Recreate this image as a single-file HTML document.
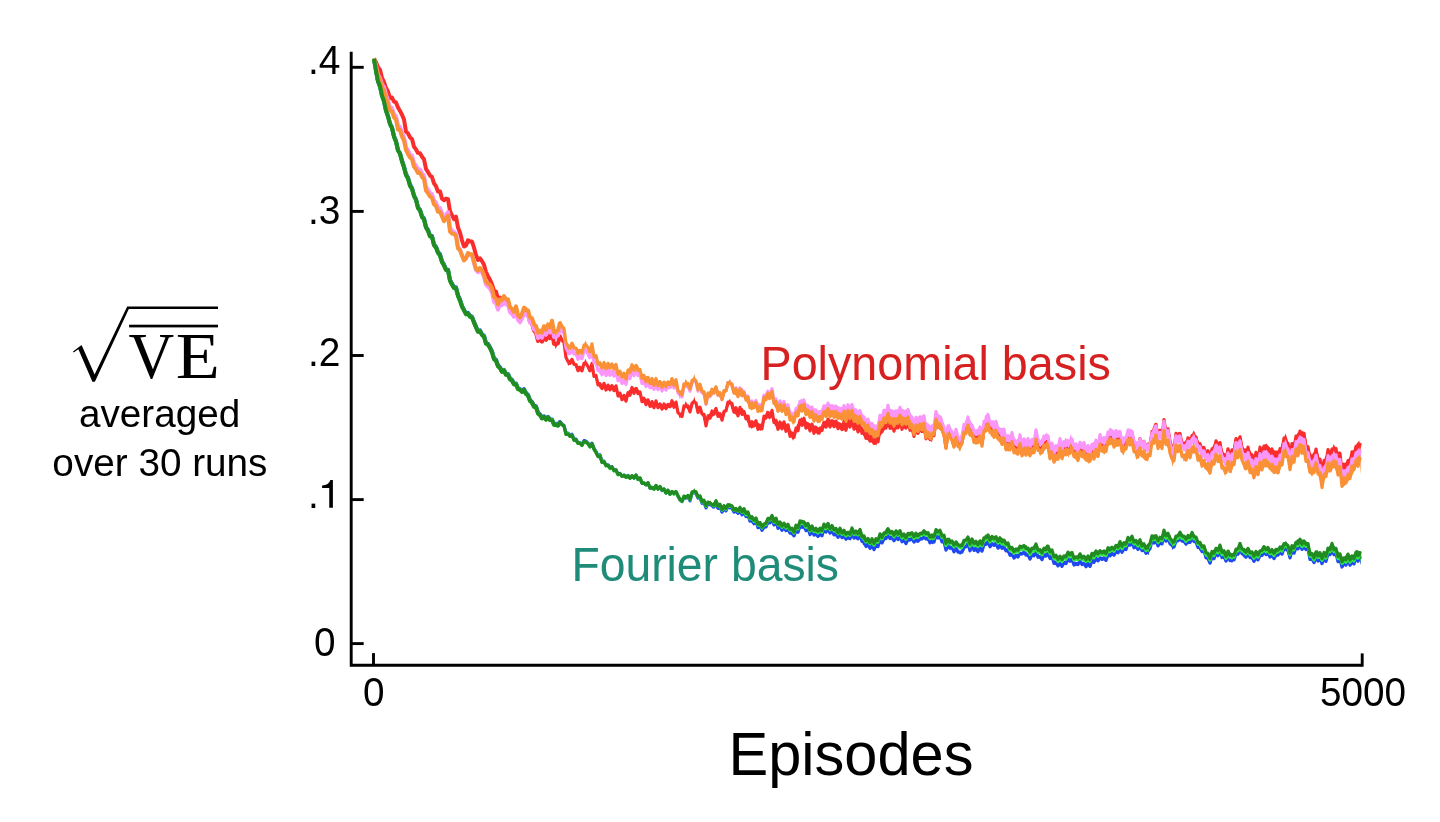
<!DOCTYPE html>
<html><head><meta charset="utf-8"><title>Polynomial vs Fourier basis</title>
<style>
html,body{margin:0;padding:0;background:#fff;}
body{width:1440px;height:822px;overflow:hidden;font-family:"Liberation Sans",sans-serif;}
svg{display:block;}
</style></head><body>
<svg width="1440" height="822" viewBox="0 0 1440 822">
<rect width="1440" height="822" fill="#fff"/>
<g id="curves"><polyline points="374,58.4 376,62.2 378,67.3 380,69.7 382,78 384,82 386,88.1 388,91.6 390,98.1 392,97.6 394,101.6 396,102.4 398,107.4 400,110.9 402,114.7 404,119.5 406,131.6 408,133.4 410,137.4 412,139.1 414,146.8 416,149.4 418,152.9 420,153.3 422,156.7 424,159.3 426,168.9 428,172.1 430,175.6 432,177 434,183.3 436,186.2 438,191.6 440,191.4 442,198.7 444,200.3 446,198.6 448,199.1 450,211.3 452,215.1 454,219.2 456,216.7 458,227.6 460,232.6 462,240.3 464,246.5 466,245.4 468,240.3 470,241.4 472,241.5 474,247.7 476,255 478,259.9 480,258.3 482,261.1 484,264.7 486,272.1 488,276.2 490,279.8 492,284.3 494,290.7 496,291.5 498,299.6 500,297.6 502,300.4 504,297.6 506,301.7 508,301.7 510,309.5 512,311.4 514,314.5 516,308.8 518,317.7 520,320.5 522,316.7 524,311.1 526,313.9 528,314.3 530,321.8 532,323.5 534,330.7 536,332.9 538,341 540,338.8 542,341.7 544,336.2 546,339.9 548,335.5 550,338.2 552,332.3 554,343.9 556,344.4 558,343.1 560,336" fill="none" stroke="#fa2d2d" stroke-width="4" stroke-linejoin="round"/><polyline points="560,336 562,340.3 564,342.5 566,357.6 568,361.4 570,363.4 572,359.4 574,364.5 576,364.5 578,370.7 580,367.3 582,370.8 584,363.3 586,363.3 588,366.6 590,370.8 592,363.5 594,376.4 596,375.5 598,384.9 600,383.6 602,388.6 604,383.3 606,390 608,385.1 610,389.9 612,385.7 614,390.7 616,385.8 618,396 620,393.1 622,399.7 624,395.4 626,401.2 628,392.7 630,395.2 632,387.5 634,393.4 636,388.4 638,393.7 640,392 642,401.6 644,398.3 646,404.7 648,399.8 650,406.4 652,401.6 654,407.7 656,400.9 658,407.7 660,403.9 662,409.2 664,404 666,408.7 668,404.4 670,406.8 672,400.7 674,407.3 676,402.1 678,412.7 680,414.2 682,416.6 684,405.9 686,406.8 688,406 690,411.9 692,403.4 694,401.4 696,403 698,412.4 700,407.2 702,414 704,414.3 706,426 708,415.8 710,418.3 712,411 714,414.2 716,408.6 718,416.3 720,413.6 722,420.1 724,411.4 726,410.8 728,402.2 730,402.2 732,403.6 734,412.2 736,407.6 738,415.8 740,407.4 742,414.4 744,411.5 746,418.8 748,416.1 750,426.2 752,421.7 754,425.8 756,420.7 758,429.4 760,425.1 762,428.8 764,416.2 766,418 768,412.4 770,417.1 772,410.4 774,422.4 776,420.2 778,429.3 780,422 782,428.8 784,421.9 786,431.3 788,424.8 790,436.3 792,433 794,437.3 796,428 798,430.7 800,420.1 802,425.3 804,418.2 806,428.1 808,424.1 810,430.9 812,424.2 814,433.3 816,427.2 818,433 820,428.1 822,430.5 824,422.5 826,427 828,419.1 830,426.9 832,421.2 834,426.7 836,421.1 838,428.6 840,424.4 842,429.6 844,421.5 846,430.3 848,419.2 850,427 852,417.9 854,429.1 856,424.3 858,431.9 860,424.5 862,433.4 864,430.9 866,438.3 868,432.9 870,441.1 872,436.7 874,443.4 876,439 878,441.9 880,428.7 882,431.6 884,423.3 886,428.1 888,418.2 890,428.3 892,423.4 894,431.1 896,423.8 898,427.8 900,419.7 902,429.3 904,422.9 906,428.1 908,420.2 910,430.3 912,427.1 914,436.5 916,426.6 918,433.4 920,425.9 922,431.6 924,424.7 926,438.8 928,433.6 930,439.5 932,434.4 934,435.6 936,419.6 938,427.5 940,424 942,429.4 944,434.8 946,447.6 948,432.9 950,436.7 952,438.5 954,446 956,435.6 958,444.8 960,444.8 962,441.8 964,430.2 966,431.2 968,422.8 970,433.5 972,430.9 974,440.4 976,437.8 978,440.5 980,433.9 982,443.8 984,428.4 986,428.7 988,421.5 990,430.4 992,428.4 994,435.3 996,428.6 998,436.6 1000,436.2 1002,442.3 1004,436.1 1006,447.9 1008,442.1 1010,447.6 1012,439.5 1014,450.4 1016,448.1 1018,451.5 1020,441.2 1022,453.5 1024,446 1026,452.7 1028,445.5 1030,453.3 1032,446.4 1034,450.3 1036,437 1038,447.6 1040,448.4 1042,450.6 1044,442.2 1046,445.1 1048,442.6 1050,456.8 1052,450 1054,460.1 1056,452.8 1058,457.1 1060,445.8 1062,456.4 1064,448 1066,452.6 1068,447.1 1070,450.8 1072,445.2 1074,454.6 1076,450.7 1078,458.1 1080,448.6 1082,454.1 1084,448.7 1086,457.7 1088,452.1 1090,458.9 1092,451.4 1094,456.3 1096,446.5 1098,454.5 1100,441.4 1102,448.5 1104,443.5 1106,448.6 1108,437.4 1110,439.9 1112,435.5 1114,442.9 1116,434.8 1118,439.8 1120,435.2 1122,445.4 1124,441 1126,443.1 1128,432.9 1130,438 1132,432.5 1134,444.2 1136,443.5 1138,448.9 1140,438.5 1142,446.7 1144,441.3 1146,449.3 1148,444.2 1150,445.3 1152,431.6 1154,432.1 1156,424.3 1158,437.6 1160,430.4 1162,437.4 1164,419.5 1166,433.2 1168,428.8 1170,441.4 1172,447.2 1174,449.2 1176,433.4 1178,439.2 1180,433.5 1182,444.5 1184,443.8 1186,447.6 1188,437.9 1190,445.1 1192,435.6 1194,439.3 1196,436.9 1198,448.1 1200,443.6 1202,453.7 1204,447.5 1206,455.8 1208,450.7 1210,460.9 1212,448.9 1214,451.3 1216,440.9 1218,448 1220,442.6 1222,455.6 1224,454.7 1226,459.5 1228,448.8 1230,458.9 1232,449.8 1234,452 1236,438.5 1238,444.9 1240,436.9 1242,447.8 1244,451.1 1246,455.7 1248,447.1 1250,458.8 1252,454.7 1254,463.7 1256,452.4 1258,460.4 1260,447.2 1262,455.7 1264,446.1 1266,451.9 1268,448.1 1270,453.2 1272,449 1274,457.4 1276,452.7 1278,458.5 1280,448.7 1282,451.2 1284,438.2 1286,444 1288,443.3 1290,456.6 1292,443.6 1294,449 1296,436 1298,442.5 1300,431 1302,440 1304,433.2 1306,448.5 1308,446.8 1310,459 1312,456.7 1314,459.4 1316,449.1 1318,460.6 1320,459.1 1322,474.2 1324,460.7 1326,463.2 1328,449.7 1330,456.5 1332,449.1 1334,453.1 1336,448.4 1338,461.5 1340,453.2 1342,472.6 1344,464.2 1346,469.1 1348,460.6 1350,465 1352,451.8 1354,455.5 1356,446.4 1358,452.3 1360,444.3" fill="none" stroke="#fa2d2d" stroke-width="3.2" stroke-linejoin="round" stroke-linecap="round"/><polygon points="470.5,239.8 471,240.8 472,242.7 473,244.7 473.3,245.3 474,246.7 475,250.4 476,255.2 476.1,255.6 477,258.6 478,258.7 479,258.9 480,259.1 481,259.3 482,259.4 482.2,259.5 483,261.9 484,264.9 484.4,266.1 485,267.9 486,271 486.7,273.2 487,274.1 488,277.3 488.1,277.6 489,278.3 490,278.5 490.6,278.6 491,278.6 492,284.6 493,287.2 493.1,287.4 494,288.9 495,290.5 496,292.5 497,294.9 497.5,296.1 498,297.2 499,297.1 500,297.7 501,298.2 501.3,297.9 502,298 503,298 504,298.1 505,298.1 505.6,297.9 506,298.6 507,300.5 508,302.4 509,304.3 510,306.2 511,309.3 512,312.3 512.5,313.8 513,313.2 514,311.9 515,310.7 516,309.4 516.3,309 517,311.2 518,314.3 519,317.4 520,320.5 521,317.1 522,313.7 522.5,312 523,311.8 524,311.4 525,311.1 526,310.8 526.9,310.4 527,310.7 528,313.7 529,316.7 530,319.7 530.6,321.7 531,322.4 532,324 533,325.6 533.8,327 534,327.5 535,330.4 536,333.4 536.9,335.9 537,336 538,336.9 539,337.9 540,338.8 541,339.8 541.3,340 542,338.8 543,337 543.8,335.6 544,335.7 545,335.8 546,335.9 547,336 548,336.1 548.8,336.2 549,335.8 550,333.8 551,331.8 551.3,331.2 552,333.3 553,336.3 553.1,336.6 554,340 555,343.7 555.6,345.9 556,344.9 557,342.4 558,339.8 558.8,337.8 559,337.6 560,336.5 561,335.4 561.3,335.1 562,337.1 563,339.9 564,342.8 564.4,343.9 565,347.6 566,353.7 566.3,355.5 567,358.1 568,361.7 568.1,362.1 569,360.9 570,359.5 570.6,358.7 571,359 572,359.5 573,360.1 573.8,360.6 574,360.9 575,362.5 576,364.2 576.3,364.7 577,365.1 578,365.8 579,366.5 580,367.1 581,367.8 581.3,368 582,366.5 583,364.3 584,362.2 585,360 585.6,358.7 586,359.9 587,362.8 588,365.7 588.8,368 589,367.7 590,366.3 591,364.9 591.9,363.6 592,363.9 593,367.3 594,370.7 595,374.1 596,376.2 597,378.2 598,380.3 598.1,380.5 599,382.1 600,383.8 601,383.9 602,384 603,384.1 603.8,384.2 604,384.3 605,384.7 606,385.2 607,385.6 607.5,385.8 608,385.7 609,385.4 610,385 610.6,384.8 611,384.9 612,385.3 613,385.6 614,385.9 615,386.2 615.6,386.4 616,387.1 617,388.9 618,390.7 618.8,392.2 619,392.3 620,393.1 621,393.9 622,394.7 623,395.4 623.1,395.5 624,395.7 625,396 626,396.2 626.9,396.4 627,396.1 628,392.8 628.8,390.2 629,390.1 630,389.7 631,389.2 632,388.7 632.5,388.5 633,388.3 634,388 635,387.6 636,387.3 636.9,387 637,387.1 638,388.7 639,390.3 640,391.9 641,393.9 642,395.8 643,397.8 643.1,398 644,398.2 645,398.5 646,398.7 647,398.9 648,399.2 648.1,399.2 649,400.2 650,401.3 651,402.5 651.3,402.8 652,402.7 653,402.5 654,402.3 655,402.1 656,402.4 657,402.7 658,403 658.8,403.2 659,403.3 660,403.6 661,404 662,404.3 662.5,404.4 663,404.4 664,404.2 665,404.1 666,403.9 667,403.8 667.5,403.7 668,403.6 669,403.2 670,402.9 671,402.6 672,402.3 673,401.9 673.8,401.7 674,401.8 675,402.4 676,403 676.9,403.5 677,403.9 678,407.9 679,411.8 679.4,413.4 680,413.1 681,412.5 682,411.9 682.5,411.6 683,409.9 684,406.5 685,403.2 685.6,401.1 686,401.8 687,403.5 687.5,404.3 688,405 689,406.2 690,407.5 691,405.5 692,403.6 692.5,402.6 693,401 694,397.8 694.4,396.5 695,399.3 696,403.9 696.3,405.3 697,405.5 698,405.9 699,406.3 700,406.7 701,408.7 702,410.8 703,412.8 703.1,413 704,416.2 705,419.7 705.6,421.8 706,420.8 707,418.3 708,415.8 708.8,413.8 709,413.7 710,413.2 711,412.7 712,412.1 712.5,411.9 713,411 714,409.2 715,407.5 715.6,406.4 716,407.1 717,409 718,410.8 718.8,412.2 719,412.4 720,413.1 721,413.8 722,414.5 723,415.2 723.1,415.3 724,412.3 725,409 726,405.8 726.3,404.8 727,403.6 728,401.9 729,400.3 730,398.6 731,401.8 732,405 732.5,406.6 733,407 734,407.8 735,408.6 736,409.4 736.9,410.1 737,410.1 738,409.7 739,409.3 740,408.9 741,408.5 742,408.1 742.5,407.9 743,408.8 744,410.5 745,412.3 746,414 746.3,414.6 747,415.8 748,417.4 749,419.1 750,420.8 751,422.5 751.3,423 752,422.5 753,421.9 754,421.3 755,420.6 755.6,420.2 756,420.6 757,421.6 758,422.5 759,423.5 760,424.4 760.6,425.1 761,424.2 762,421.9 763,419.6 763.8,417.8 764,417.4 765,415 766,412.7 766.9,410.6 767,410.7 768,411.8 769,412.9 769.4,413.3 770,412.5 771,410.9 771.9,409.4 772,409.8 773,414.2 773.5,416.3 774,417.4 775,419.5 776,420.3 777,421.1 778,422 778.8,422.6 779,422.6 780,422.4 781,422.3 782,422.1 783,421.9 783.8,421.8 784,422 785,422.7 786,423.4 787,424.1 788,424.9 788.1,424.9 789,426.6 790,428.4 791,430.3 792,432.1 793,434 793.1,434.2 794,431.9 795,429.4 796,427 796.9,424.7 797,424.6 798,422.9 799,421.1 800,419.4 801,417.7 801.3,417.2 802,417.8 803,418.7 804,419.5 805,420.3 805.6,420.9 806,421.1 807,421.7 808,422.2 809,422.8 810,423.4 811,423.8 812,424.3 813,424.8 814,425.3 815,425.7 816,426.2 817,426.7 818,427.2 819,427.6 820,428.1 821,425.9 822,423.7 823,421.5 823.1,421.3 824,421 825,420.7 826,420.3 827,420 827.5,419.8 828,419.7 829,419.6 830,419.5 831,419.4 832,419.3 832.5,419.3 833,419.4 834,419.8 835,420.2 836,420.6 837,421 837.5,421.2 838,421.5 839,422 840,422.5 841,423 842,423.5 842.5,423.7 843,423.6 844,423.1 845,422.5 846,421.9 847,421.3 847.5,421 848,420.6 849,419.8 850,419 851,418.2 851.9,417.5 852,417.6 853,418.9 854,420.3 855,421.6 856,423 856.3,423.4 857,423.8 858,424.1 859,424.4 860,424.7 861,425.1 861.3,425.2 862,426.3 863,428 864,429.6 865,431.3 866,431.9 867,432.6 868,433.2 869,433.8 870,434.4 871,435 872,435.6 873,436.2 874,436.8 875,437.4 876,438 876.3,438.1 877,436.2 878,433.5 879,430.7 879.4,429.6 880,428.8 881,427.6 882,426.4 883,425.2 883.1,425.1 884,423.8 885,422.4 886,420.9 887,419.5 887.5,418.8 888,419.3 889,420.1 890,421 891,421.8 891.9,422.6 892,422.6 893,422.6 894,422.6 895,422.5 896,422.4 896.3,422.4 897,421.8 898,421.1 899,420.3 900,419.5 901,419.9 902,420.3 903,420.7 904,421.2 904.4,421.3 905,421.2 906,421 907,420.8 908,420.5 908.8,420.2 909,420.6 910,422.2 911,423.8 912,425.5 913,427.1 913.8,428.4 914,428.3 915,427.7 916,427.2 917,426.6 918,426 918.8,425.6 919,425.5 920,425.2 921,424.9 922,424.6 923,424.2 923.1,424.2 924,426.1 925,428.1 926,430.2 926.3,430.8 927,431.3 928,432.1 929,432.8 930,433.5 931,434.3 931.9,434.9 932,434.6 933,431.1 934,427.5 935,424 936,420.5 936.3,419.4 937,420.1 938,421.2 939,422.2 940,423.3 940.6,423.9 941,423.9 941.9,423.8 942,424.3 943,429.1 944,433.8 945,438.6 945.6,441.5 946,440.3 947,437.3 948,434.2 949,431.2 949.4,430 950,431.5 951,434 952,436.5 953,439 953.1,439.2 954,438.3 955,437.2 956,436.2 956.3,435.9 957,437.2 958,439.2 959,441.1 960,443 961,440 962,436.9 963,433.9 963.8,431.4 964,430.9 965,428.2 966,425.5 967,422.8 967.5,421.4 968,422.3 969,424 970,425.8 971,427.5 971.3,428 972,429.3 973,431.2 974,433.1 975,434.9 975.6,436 976,435.9 977,435.5 978,435.1 979,434.7 980,434.3 981,435.4 982,436.5 982.5,437 983,434 984,428.1 985,422.1 986,422.2 987,422.4 988,422.5 988.8,422.7 989,423.1 990,425.2 991,427.4 991.3,428.1 992,427.8 993,427.4 993.8,427.1 994,427.3 995,428.5 996,429.7 997,430.9 997.5,431.5 998,432 999,433.2 1000,434.4 1001,434.6 1002,434.8 1003,435 1003.8,435.1 1004,435.8 1005,438.9 1006,440.3 1007,441.6 1008,442.9 1008.1,443 1009,442.3 1010,441.6 1011,440.8 1011.9,440.1 1012,440.3 1013,441.8 1014,443.3 1015,444.8 1016,446.3 1016.3,446.8 1017,446.1 1018,445 1019,444 1020,443 1021,444.3 1022,445.7 1023,447.1 1023.1,447.3 1024,446.7 1025,446.2 1026,445.6 1026.3,445.4 1027,445.9 1028,446.6 1029,447.3 1029.4,447.5 1030,447.2 1031,446.6 1032,446 1033,445.5 1033.1,445.4 1034,443.1 1035,440.5 1036,438 1036.3,437.2 1037,439.1 1038,441.8 1039,444.5 1040,447.2 1041,445.9 1042,444.7 1043,443.5 1043.8,442.5 1044,442.3 1045,441.3 1046,440.2 1046.9,439.3 1047,439.7 1048,443.1 1049,446.5 1049.4,447.8 1050,448.2 1051,448.9 1052,449.6 1052.5,449.9 1053,450.4 1054,451.5 1055,452.5 1055.6,453.1 1056,452.6 1057,451.3 1058,450 1059,448.7 1060,447.4 1061,448.3 1062,449.2 1063,450.2 1063.1,450.3 1064,448.1 1065,445.7 1065.6,444.3 1066,444.8 1067,446 1068,447.2 1068.8,448.2 1069,447.4 1070,443.2 1070.6,440.7 1071,441.8 1072,444.4 1073,446.9 1073.8,449 1074,449.2 1075,450 1076,450.8 1077,451.6 1077.5,452 1078,451.3 1079,449.9 1080,448.5 1080.6,447.7 1081,448 1082,448.8 1083,449.6 1083.8,450.2 1084,450.3 1085,451.2 1086,452.1 1087,452.9 1088,453.8 1088.8,454.5 1089,454.2 1090,452.8 1091,451.4 1092,450 1093,448.7 1093.1,448.5 1094,448.4 1095,448.3 1096,448.1 1097,448 1097.5,447.9 1098,446.9 1099,444.8 1100,442.7 1100.6,441.3 1101,441.7 1102,442.6 1103,443.5 1104,444.4 1104.4,444.8 1105,443.4 1106,441 1107,438.6 1107.5,437.4 1108,436.5 1109,434.6 1110,432.7 1111,433.3 1112,433.9 1113,434.5 1114,435.2 1115,435.8 1116,435.4 1117,435 1118,434.6 1119,434.2 1120,433.8 1121,436.8 1122,439.8 1123,442.8 1123.1,443.1 1124,441.1 1125,438.9 1126,436.7 1127,434.4 1128,432.2 1128.8,430.4 1129,430.4 1130,430.8 1131,431.1 1132,431.4 1132.5,431.5 1133,433.2 1134,436.7 1135,440.1 1136,443.5 1136.3,444.6 1137,443.5 1138,442 1139,440.5 1140,439 1141,440 1142,441 1143,441.9 1144,442.9 1144.4,443.3 1145,443.5 1146,443.9 1147,444.3 1148,444.6 1148.1,444.7 1149,441.1 1150,437 1151,433 1151.3,431.8 1152,429.9 1153,427.1 1154,424.3 1154.4,423.2 1155,424.1 1156,425.8 1157,427.4 1158,429 1158.8,430.3 1159,430.3 1160,430.1 1161,429.9 1162,429.7 1162.5,429.6 1163,426.2 1163.8,420.7 1164,421.1 1165,423.3 1166,425.5 1167,427.6 1167.5,428.7 1168,429.7 1169,431.7 1170,433.6 1171,439.5 1172,445.3 1172.5,448.2 1173,446.3 1174,442.4 1175,438.5 1176,434.6 1176.3,433.4 1177,433.1 1178,432.6 1179,432.1 1179.4,432 1180,433.3 1181,435.7 1182,438 1183,440.3 1183.8,442.1 1184,441.9 1185,440.9 1186,439.9 1187,438.8 1188,437.8 1188.1,437.7 1189,437.3 1190,436.9 1190.6,436.6 1191,435.8 1192,433.9 1193,431.9 1193.8,430.3 1194,430.8 1195,433.1 1196,435.3 1197,437.6 1197.5,438.7 1198,439.6 1199,441.4 1200,443.2 1201,444.3 1202,445.3 1203,446.4 1203.8,447.2 1204,447.5 1205,448.7 1206,449.9 1207,451.2 1208,452.4 1209,453.6 1209.4,454.1 1210,452.7 1211,450.2 1212,447.7 1212.5,446.5 1213,445.6 1214,443.8 1215,442 1216,440.1 1216.3,439.6 1217,440.3 1218,441.3 1219,442.3 1220,443.4 1220.6,444 1221,445 1222,447.7 1223,450.4 1224,453.1 1225,455.7 1226,453.4 1227,451.1 1228,448.7 1228.1,448.5 1229,449.9 1230,451.5 1231,453.1 1231.3,453.5 1232,451.1 1233,447.5 1234,444 1235,440.5 1236,439.5 1237,438.6 1238,437.6 1239,436.7 1240,435.7 1240.6,435.1 1241,436.8 1242,441 1243,445.3 1243.8,448.7 1244,448.6 1245,448.4 1246,448.2 1247,448 1248,447.8 1248.8,447.6 1249,448 1250,449.8 1251,451.7 1252,453.7 1253,455.6 1253.1,455.8 1254,455.1 1255,454.4 1256,453.6 1257,452.8 1257.5,452.5 1258,451.8 1259,450.4 1260,449 1261,448.1 1262,447.2 1263,446.4 1264,445.5 1265,444.6 1266,443.8 1266.3,443.5 1267,444.3 1268,445.4 1269,446.5 1270,447.6 1271,448.7 1271.3,449.1 1272,449.3 1273,449.7 1274,450.1 1275,450.5 1275.6,450.8 1276,450.6 1277,450.6 1278,450.5 1279,450.5 1279.4,450.5 1280,448.7 1281,445.8 1282,442.8 1282.5,441.3 1283,440.1 1284,437.6 1285,435.1 1285.6,433.5 1286,434.7 1287,437.8 1288,441 1289,444.1 1290,447.2 1291,445.7 1292,444.2 1293,442.7 1293.8,441.5 1294,441 1295,438.6 1296,436.2 1297,433.8 1297.5,432.7 1298,432.5 1299,432.1 1300,431.7 1301,431.3 1302,430.9 1302.5,430.7 1303,431.7 1304,433.9 1305,436 1306,438.2 1306.3,438.8 1307,442.8 1308,448.4 1308.1,449 1309,450.3 1310,451.8 1311,453.3 1311.9,454.7 1312,454.6 1313,453.1 1314,451.7 1315,450.2 1316,448.8 1316.3,448.3 1317,450.4 1318,453.2 1319,456.1 1319.4,457.3 1320,458.9 1321,461.7 1321.9,464.1 1322,463.9 1323,461.7 1324,459.4 1325,457.2 1326,454.9 1327,452.7 1328,450.5 1328.1,450.2 1329,450.2 1330,450.2 1331,450.2 1331.3,450.2 1332,448.4 1333,445.9 1333.8,443.9 1334,444.4 1335,446.8 1336,449.2 1336.9,451.4 1337,451.4 1338,451.6 1339,451.8 1340,451.9 1341,457.2 1342,462.4 1342.5,465 1343,464.6 1344,463.8 1345,462.9 1346,462.1 1346.3,461.8 1347,460.8 1348,459.4 1349,458 1349.4,457.4 1350,456.4 1351,454.8 1352,453.2 1352.5,452.3 1353,451.3 1354,449.1 1355,447 1356,444.8 1356.3,444.2 1357,443.3 1358,442.1 1359,440.9 1359.4,440.4 1360,446 1360.6,451.6 1360.6,460.4 1360,454.8 1359.4,449.2 1359,449.7 1358,450.9 1357,452.1 1356.3,452.9 1356,453.6 1355,455.7 1354,457.9 1353,460 1352.5,461.1 1352,461.9 1351,463.5 1350,465.1 1349.4,466.1 1349,466.7 1348,468.1 1347,469.5 1346.3,470.5 1346,470.8 1345,471.6 1344,472.4 1343,473.3 1342.5,473.7 1342,471.1 1341,465.8 1340,460.6 1339,460.4 1338,460.2 1337,460.1 1336.9,460 1336,457.9 1335,455.5 1334,453.1 1333.8,452.6 1333,454.6 1332,457.1 1331.3,458.8 1331,458.8 1330,458.8 1329,458.8 1328.1,458.8 1328,459 1327,461.3 1326,463.5 1325,465.8 1324,468 1323,470.2 1322,472.5 1321.9,472.7 1321,470.2 1320,467.5 1319.4,465.8 1319,464.7 1318,461.8 1317,458.9 1316.3,456.8 1316,457.3 1315,458.7 1314,460.2 1313,461.6 1312,463 1311.9,463.2 1311,461.8 1310,460.3 1309,458.8 1308.1,457.4 1308,456.9 1307,451.2 1306.3,447.2 1306,446.6 1305,444.4 1304,442.3 1303,440.2 1302.5,439.1 1302,439.3 1301,439.7 1300,440.1 1299,440.4 1298,440.8 1297.5,441 1297,442.2 1296,444.6 1295,447 1294,449.4 1293.8,449.8 1293,451 1292,452.5 1291,454 1290,455.5 1289,452.3 1288,449.2 1287,446.1 1286,443 1285.6,441.7 1285,443.3 1284,445.8 1283,448.3 1282.5,449.5 1282,451 1281,453.9 1280,456.9 1279.4,458.6 1279,458.6 1278,458.7 1277,458.7 1276,458.8 1275.6,458.9 1275,458.6 1274,458.2 1273,457.8 1272,457.4 1271.3,457.1 1271,456.8 1270,455.6 1269,454.5 1268,453.4 1267,452.3 1266.3,451.5 1266,451.7 1265,452.6 1264,453.5 1263,454.3 1262,455.2 1261,456 1260,456.9 1259,458.3 1258,459.7 1257.5,460.4 1257,460.7 1256,461.5 1255,462.2 1254,463 1253.1,463.6 1253,463.4 1252,461.5 1251,459.5 1250,457.6 1249,455.7 1248.8,455.4 1248,455.5 1247,455.7 1246,455.9 1245,456.1 1244,456.4 1243.8,456.4 1243,453 1242,448.7 1241,444.5 1240.6,442.8 1240,443.4 1239,444.4 1238,445.3 1237,446.2 1236,447.2 1235,448.1 1234,451.6 1233,455.1 1232,458.6 1231.3,461.1 1231,460.6 1230,459 1229,457.5 1228.1,456 1228,456.3 1227,458.6 1226,460.9 1225,463.2 1224,460.6 1223,457.9 1222,455.2 1221,452.5 1220.6,451.4 1220,450.8 1219,449.8 1218,448.7 1217,447.7 1216.3,447 1216,447.5 1215,449.3 1214,451.2 1213,453 1212.5,453.9 1212,455.1 1211,457.5 1210,460 1209.4,461.4 1209,460.9 1208,459.7 1207,458.4 1206,457.2 1205,456 1204,454.7 1203.8,454.5 1203,453.6 1202,452.6 1201,451.5 1200,450.4 1199,448.6 1198,446.8 1197.5,445.9 1197,444.8 1196,442.5 1195,440.2 1194,438 1193.8,437.5 1193,439.1 1192,441 1191,443 1190.6,443.8 1190,444 1189,444.5 1188.1,444.9 1188,445 1187,446 1186,447 1185,448 1184,449.1 1183.8,449.3 1183,447.4 1182,445.1 1181,442.8 1180,440.5 1179.4,439.1 1179,439.3 1178,439.7 1177,440.2 1176.3,440.5 1176,441.7 1175,445.6 1174,449.5 1173,453.4 1172.5,455.3 1172,452.4 1171,446.6 1170,440.7 1169,438.8 1168,436.8 1167.5,435.8 1167,434.7 1166,432.5 1165,430.4 1164,428.2 1163.8,427.7 1163,433.2 1162.5,436.6 1162,436.7 1161,436.9 1160,437.1 1159,437.3 1158.8,437.3 1158,436 1157,434.4 1156,432.8 1155,431.2 1154.4,430.2 1154,431.3 1153,434.1 1152,436.9 1151.3,438.8 1151,440 1150,444 1149,448.1 1148.1,451.7 1148,451.6 1147,451.3 1146,450.9 1145,450.5 1144.4,450.3 1144,449.9 1143,448.9 1142,447.9 1141,447 1140,446 1139,447.5 1138,449 1137,450.5 1136.3,451.5 1136,450.5 1135,447 1134,443.6 1133,440.2 1132.5,438.5 1132,438.3 1131,438 1130,437.7 1129,437.4 1128.8,437.3 1128,439.1 1127,441.3 1126,443.6 1125,445.8 1124,448 1123.1,450 1123,449.7 1122,446.7 1121,443.7 1120,440.6 1119,441 1118,441.4 1117,441.8 1116,442.2 1115,442.6 1114,442 1113,441.4 1112,440.8 1111,440.1 1110,439.5 1109,441.4 1108,443.3 1107.5,444.3 1107,445.4 1106,447.8 1105,450.2 1104.4,451.6 1104,451.2 1103,450.3 1102,449.4 1101,448.5 1100.6,448.1 1100,449.5 1099,451.6 1098,453.7 1097.5,454.7 1097,454.8 1096,454.9 1095,455.1 1094,455.2 1093.1,455.3 1093,455.5 1092,456.8 1091,458.2 1090,459.6 1089,461 1088.8,461.2 1088,460.5 1087,459.7 1086,458.8 1085,458 1084,457.1 1083.8,456.9 1083,456.3 1082,455.5 1081,454.8 1080.6,454.4 1080,455.3 1079,456.7 1078,458.1 1077.5,458.8 1077,458.4 1076,457.5 1075,456.7 1074,455.9 1073.8,455.8 1073,453.7 1072,451.1 1071,448.5 1070.6,447.5 1070,450 1069,454.1 1068.8,455 1068,454 1067,452.7 1066,451.5 1065.6,451 1065,452.4 1064,454.8 1063.1,457 1063,456.9 1062,456 1061,455 1060,454.1 1059,455.4 1058,456.7 1057,458 1056,459.3 1055.6,459.8 1055,459.2 1054,458.2 1053,457.1 1052.5,456.6 1052,456.3 1051,455.6 1050,454.9 1049.4,454.5 1049,453.2 1048,449.8 1047,446.4 1046.9,446 1046,446.9 1045,447.9 1044,448.9 1043.8,449.1 1043,450.1 1042,451.4 1041,452.6 1040,453.9 1039,451.2 1038,448.5 1037,445.8 1036.3,443.9 1036,444.6 1035,447.2 1034,449.8 1033.1,452.1 1033,452.1 1032,452.7 1031,453.3 1030,453.8 1029.4,454.2 1029,453.9 1028,453.2 1027,452.6 1026.3,452.1 1026,452.3 1025,452.8 1024,453.4 1023.1,453.9 1023,453.8 1022,452.4 1021,451 1020,449.6 1019,450.6 1018,451.7 1017,452.7 1016.3,453.4 1016,453 1015,451.4 1014,449.9 1013,448.4 1012,446.9 1011.9,446.7 1011,447.4 1010,448.2 1009,448.9 1008.1,449.6 1008,449.5 1007,448.2 1006,446.9 1005,445.5 1004,442.4 1003.8,441.7 1003,441.6 1002,441.4 1001,441.2 1000,441 999,439.8 998,438.7 997.5,438.1 997,437.5 996,436.3 995,435.1 994,433.9 993.8,433.7 993,434 992,434.4 991.3,434.7 991,434.1 990,431.9 989,429.8 988.8,429.3 988,429.2 987,429.1 986,428.9 985,428.8 984,434.8 983,440.8 982.5,443.8 982,443.3 981,442.2 980,441.1 979,441.5 978,441.9 977,442.3 976,442.7 975.6,442.8 975,441.7 974,439.9 973,438 972,436.2 971.3,434.9 971,434.4 970,432.6 969,430.9 968,429.2 967.5,428.3 967,429.7 966,432.4 965,435.1 964,437.8 963.8,438.3 963,440.8 962,443.8 961,446.9 960,450 959,448 958,446.1 957,444.2 956.3,442.8 956,443.2 955,444.2 954,445.2 953.1,446.2 953,445.9 952,443.4 951,440.9 950,438.5 949.4,437 949,438.2 948,441.2 947,444.3 946,447.3 945.6,448.6 945,445.7 944,440.9 943,436.1 942,431.3 941.9,430.8 941,430.9 940.6,431 940,430.3 939,429.3 938,428.3 937,427.2 936.3,426.5 936,427.6 935,431.1 934,434.7 933,438.2 932,441.7 931.9,442.1 931,441.4 930,440.7 929,440 928,439.2 927,438.5 926.3,438 926,437.4 925,435.3 924,433.3 923.1,431.4 923,431.4 922,431.8 921,432.1 920,432.5 919,432.8 918.8,432.9 918,433.3 917,433.9 916,434.4 915,435 914,435.5 913.8,435.7 913,434.4 912,432.8 911,431.1 910,429.5 909,427.9 908.8,427.6 908,427.8 907,428.2 906,428.4 905,428.6 904.4,428.7 904,428.5 903,428.1 902,427.7 901,427.3 900,426.9 899,427.7 898,428.5 897,429.2 896.3,429.8 896,429.8 895,429.9 894,430 893,430 892,430 891.9,430 891,429.2 890,428.3 889,427.5 888,426.6 887.5,426.2 887,426.8 886,428.2 885,429.7 884,431.1 883.1,432.4 883,432.5 882,433.7 881,434.9 880,436.1 879.4,436.8 879,437.9 878,440.7 877,443.5 876.3,445.4 876,445.2 875,444.6 874,444 873,443.4 872,442.9 871,442.3 870,441.7 869,441 868,440.4 867,439.8 866,439.1 865,438.5 864,436.8 863,435.2 862,433.5 861.3,432.3 861,432.2 860,431.9 859,431.6 858,431.2 857,430.9 856.3,430.6 856,430.1 855,428.8 854,427.4 853,426 852,424.7 851.9,424.6 851,425.3 850,426.1 849,426.9 848,427.7 847.5,428.1 847,428.4 846,429 845,429.5 844,430.1 843,430.7 842.5,430.8 842,430.5 841,430 840,429.5 839,429 838,428.5 837.5,428.3 837,428 836,427.6 835,427.2 834,426.8 833,426.3 832.5,426.3 832,426.3 831,426.4 830,426.5 829,426.6 828,426.7 827.5,426.8 827,426.9 826,427.3 825,427.6 824,427.9 823.1,428.2 823,428.5 822,430.6 821,432.8 820,435 819,434.5 818,434.1 817,433.6 816,433.1 815,432.6 814,432.1 813,431.7 812,431.2 811,430.7 810,430.2 809,429.7 808,429.1 807,428.5 806,427.9 805.6,427.7 805,427.2 804,426.3 803,425.5 802,424.6 801.3,424 801,424.5 800,426.2 799,427.9 798,429.6 797,431.3 796.9,431.5 796,433.7 795,436.1 794,438.6 793.1,440.8 793,440.6 792,438.8 791,436.9 790,435 789,433.2 788.1,431.5 788,431.4 787,430.7 786,429.9 785,429.2 784,428.4 783.8,428.3 783,428.4 782,428.5 781,428.7 780,428.8 779,429 778.8,429 778,428.3 777,427.5 776,426.6 775,425.8 774,423.7 773.5,422.6 773,420.4 772,416.1 771.9,415.6 771,417.1 770,418.7 769.4,419.5 769,419.1 768,418 767,416.9 766.9,416.8 766,418.8 765,421.1 764,423.5 763.8,423.9 763,425.7 762,427.9 761,430.2 760.6,431.1 760,430.4 759,429.4 758,428.5 757,427.5 756,426.5 755.6,426.2 755,426.5 754,427.2 753,427.8 752,428.4 751.3,428.8 751,428.3 750,426.6 749,424.9 748,423.2 747,421.5 746.3,420.3 746,419.8 745,418 744,416.2 743,414.4 742.5,413.5 742,413.7 741,414.1 740,414.5 739,414.9 738,415.2 737,415.6 736.9,415.6 736,414.9 735,414.1 734,413.2 733,412.4 732.5,412 732,410.4 731,407.2 730,404 729,405.6 728,407.3 727,408.9 726.3,410.1 726,411.1 725,414.3 724,417.6 723.1,420.5 723,420.5 722,419.7 721,419 720,418.3 719,417.5 718.8,417.4 718,415.9 717,414.1 716,412.3 715.6,411.5 715,412.6 714,414.3 713,416.1 712.5,416.9 712,417.2 711,417.7 710,418.2 709,418.6 708.8,418.7 708,420.7 707,423.2 706,425.7 705.6,426.7 705,424.6 704,421.1 703.1,417.9 703,417.6 702,415.6 701,413.6 700,411.5 699,411.1 698,410.7 697,410.3 696.3,410 696,408.7 695,404 694.4,401.3 694,402.6 693,405.8 692.5,407.4 692,408.4 691,410.3 690,412.3 689,411 688,409.7 687.5,409.1 687,408.3 686,406.6 685.6,405.9 685,407.9 684,411.3 683,414.7 682.5,416.4 682,416.7 681,417.2 680,417.8 679.4,418.2 679,416.6 678,412.6 677,408.6 676.9,408.2 676,407.7 675,407.1 674,406.5 673.8,406.4 673,406.7 672,407 671,407.3 670,407.6 669,408 668,408.3 667.5,408.5 667,408.5 666,408.7 665,408.8 664,409 663,409.1 662.5,409.2 662,409 661,408.7 660,408.3 659,408 658.8,408 658,407.7 657,407.4 656,407.1 655,406.8 654,407 653,407.2 652,407.4 651.3,407.5 651,407.2 650,406 649,404.9 648.1,403.9 648,403.9 647,403.6 646,403.4 645,403.2 644,402.9 643.1,402.7 643,402.5 642,400.5 641,398.5 640,396.6 639,395 638,393.4 637,391.8 636.9,391.6 636,391.9 635,392.3 634,392.7 633,393 632.5,393.2 632,393.4 631,393.9 630,394.3 629,394.8 628.8,394.9 628,397.5 627,400.7 626.9,401.1 626,400.8 625,400.6 624,400.4 623.1,400.2 623,400.1 622,399.3 621,398.5 620,397.7 619,397 618.8,396.8 618,395.4 617,393.6 616,391.7 615.6,391 615,390.8 614,390.5 613,390.2 612,389.9 611,389.6 610.6,389.4 610,389.7 609,390 608,390.3 607.5,390.5 607,390.2 606,389.8 605,389.3 604,388.9 603.8,388.8 603,388.7 602,388.6 601,388.5 600,388.4 599,386.7 598.1,385.1 598,384.9 597,382.8 596,380.6 595,378.5 594,375.1 593,371.7 592,368.3 591.9,367.9 591,369.2 590,370.6 589,372.1 588.8,372.3 588,370 587,367.1 586,364.1 585.6,362.9 585,364.2 584,366.3 583,368.5 582,370.6 581.3,372.1 581,371.9 580,371.2 579,370.5 578,369.8 577,369.1 576.3,368.7 576,368.2 575,366.5 574,364.8 573.8,364.5 573,364 572,363.4 571,362.8 570.6,362.6 570,363.4 569,364.7 568.1,365.9 568,365.5 567,361.8 566.3,359.2 566,357.4 565,351.3 564.4,347.6 564,346.4 563,343.6 562,340.7 561.3,338.7 561,339 560,340.1 559,341.1 558.8,341.4 558,343.4 557,345.9 556,348.3 555.6,349.3 555,347.1 554,343.4 553.1,340 553,339.7 552,336.7 551.3,334.5 551,335.1 550,337.1 549,339.1 548.8,339.5 548,339.4 547,339.2 546,339.1 545,338.9 544,338.8 543.8,338.8 543,340.2 542,341.9 541.3,343.1 541,342.9 540,341.9 539,340.9 538,339.9 537,338.9 536.9,338.8 536,336.3 535,333.4 534,330.4 533.8,329.8 533,328.5 532,326.8 531,325.2 530.6,324.5 530,322.5 529,319.4 528,316.4 527,313.4 526.9,313.1 526,313.4 525,313.7 524,314.1 523,314.4 522.5,314.5 522,316.2 521,319.7 520,323.1 519,319.9 518,316.8 517,313.7 516.3,311.5 516,311.8 515,313.1 514,314.3 513,315.5 512.5,316.2 512,314.6 511,311.5 510,308.5 509,306.5 508,304.6 507,302.7 506,300.8 505.6,300 505,300.2 504,300.2 503,300.1 502,300 501.3,300 501,300.2 500,299.7 499,299.1 498,299.1 497.5,297.9 497,296.7 496,294.3 495,292.2 494,290.5 493.1,289 493,288.8 492,286.2 491,280.1 490.6,280.1 490,279.9 489,279.7 488.1,278.9 488,278.6 487,275.4 486.7,274.5 486,272.2 485,269.1 484.4,267.3 484,266 483,263 482.2,260.5 482,260.5 481,260.3 480,260 479,259.8 478,259.6 477,259.3 476.1,256.4 476,255.9 475,251 474,247.3 473.3,245.9 473,245.3 472,243.3 471,241.2 470.5,240.2" fill="#fa2d2d"/><polyline points="374,58.4 376,66 378,74.7 380,78.2 382,84.3 384,87.1 386,94.6 388,100.4 390,107.3 392,107.8 394,114.3 396,116 398,125.7 400,126.6 402,132.8 404,137.1 406,147.2 408,150.5 410,154.5 412,155.6 414,163.3 416,165.3 418,169.5 420,169.4 422,173.2 424,175.6 426,187.1 428,189.6 430,192.9 432,194.1 434,200.5 436,202.4 438,208.2 440,207.9 442,213.1 444,217.8 446,214.9 448,212.1 450,228 452,230.7 454,231.8 456,233.9 458,247.1 460,249.3 462,255.1 464,260 466,258.3 468,253.7 470,255 472,255.4 474,263.1 476,270.1 478,272.2 480,270.4 482,272.4 484,277.3 486,284.5 488,286.5 490,288.7 492,292.6 494,301.7 496,303.5 498,309.6 500,304.3 502,305.1 504,301.1 506,304.5 508,304.2 510,312.2 512,313.9 514,316.7 516,311.2 518,319.9 520,322.2 522,318.7 524,313.1 526,315 528,315.3 530,322.8 532,323.2 534,329.5 536,330.6 538,338.1 540,335.2 542,337.6 544,331.2 546,334.7 548,329.6 550,332.3 552,325.4 554,337 556,336.4 558,335.4 560,327.8" fill="none" stroke="#fa96fa" stroke-width="4" stroke-linejoin="round"/><polyline points="560,327.8 562,331.6 564,333.6 566,348 568,351.6 570,353.4 572,349.1 574,354 576,353.2 578,359.3 580,355.8 582,358.7 584,351 586,350.9 588,353.8 590,357.7 592,349.7 594,362.9 596,362.2 598,370.7 600,369.5 602,374.8 604,369.2 606,375.6 608,370.2 610,375.3 612,371.2 614,376.1 616,371 618,380.7 620,377.3 622,383.4 624,379.1 626,384.5 628,376 630,378.5 632,370.4 634,375.8 636,370.4 638,375.7 640,374.3 642,383.5 644,380.5 646,386.6 648,382 650,387.8 652,383 654,389.4 656,382.5 658,389.7 660,385.4 662,391 664,385.6 666,390.2 668,385.1 670,387.6 672,382 674,388.1 676,382.2 678,393.1 680,394.9 682,396.8 684,385.6 686,386.6 688,385.6 690,391.2 692,382.3 694,381 696,382 698,391.2 700,385.5 702,392.7 704,393.1 706,404.4 708,394 710,396.7 712,389.7 714,393.2 716,387.4 718,395.2 720,392.9 722,399.7 724,391.2 726,390.8 728,382.6 730,382.7 732,384.1 734,392.2 736,387.8 738,395.8 740,387.8 742,394.4 744,391.4 746,398.8 748,396 750,405.7 752,401 754,406 756,400.5 758,409.2 760,404.6 762,407.9 764,395.1 766,397.5 768,391.2 770,395.6 772,388.7 774,400.8 776,399 778,408 780,400.9 782,408.2 784,401.5 786,411.3 788,404.9 790,416.4 792,413.3 794,418.2 796,408.7 798,411.6 800,401.4 802,406.7 804,400 806,410.3 808,405.7 810,413 812,407.1 814,416.4 816,410 818,416.5 820,411.4 822,414 824,405.9 826,411.1 828,403.1 830,411.6 832,406.1 834,411.9 836,406.1 838,412.8 840,408.6 842,413.7 844,405.6 846,415.7 848,404.7 850,413 852,404.6 854,415.5 856,409.9 858,417.9 860,410.6 862,419.1 864,417 866,425.1 868,419.1 870,427.7 872,423.4 874,430.4 876,426.1 878,429.2 880,415.4 882,418.9 884,410.4 886,415.3 888,405.4 890,415.7 892,410.8 894,418.5 896,411 898,415.7 900,407.4 902,417.1 904,411.6 906,416.9 908,409.5 910,420 912,417.1 914,426.8 916,417.3 918,423.9 920,416.8 922,422.3 924,415.9 926,430 928,425.2 930,431.2 932,425.9 934,427.2 936,411.5 938,419.8 940,416.8 942,422.4 944,427.4 946,440.2 948,425.9 950,429.8 952,431.6 954,439.8 956,429.4 958,438.8 960,438.9 962,436 964,424.4 966,425.3 968,417 970,426.7 972,425.1 974,433.5 976,431.1 978,433.6 980,427 982,437.5 984,421.4 986,422 988,414.5 990,423.3 992,421.9 994,428.4 996,421.4 998,430.2 1000,429.7 1002,435.7 1004,429.2 1006,440.9 1008,435.8 1010,441.1 1012,432.5 1014,443.4 1016,441.1 1018,445.1 1020,434.7 1022,446.7 1024,438.9 1026,446 1028,438.6 1030,446.3 1032,439.4 1034,443.6 1036,429.9 1038,440.8 1040,441.6 1042,443.5 1044,436.1 1046,438.3 1048,435.7 1050,449.8 1052,443.1 1054,453.1 1056,445.7 1058,450.1 1060,438.7 1062,450.1 1064,441.4 1066,445.7 1068,440.6 1070,444 1072,439 1074,447.9 1076,443.9 1078,451.9 1080,442.4 1082,447.7 1084,442.5 1086,450.7 1088,445.6 1090,452.5 1092,444.3 1094,449.8 1096,440.2 1098,447.8 1100,434.7 1102,441.9 1104,437.7 1106,442.4 1108,432.2 1110,434.8 1112,430.9 1114,438.6 1116,430.6 1118,436.2 1120,431.5 1122,442.1 1124,437.8 1126,439.7 1128,430.2 1130,436 1132,431.2 1134,442.8 1136,442.4 1138,448 1140,438.8 1142,446.7 1144,441.6 1146,449.8 1148,444.8 1150,446.4 1152,433 1154,433.5 1156,425.8 1158,439.5 1160,432.4 1162,439.2 1164,421.4 1166,435.7 1168,430.6 1170,443.5 1172,449.5 1174,451.3 1176,435.8 1178,442.2 1180,436 1182,447.1 1184,446.3 1186,450.7 1188,441.1 1190,448.3 1192,438.8 1194,442.3 1196,439.7 1198,451.1 1200,446.6 1202,456.7 1204,451 1206,458.9 1208,454.5 1210,464.2 1212,452.7 1214,455.3 1216,445.3 1218,452.2 1220,447.1 1222,459.5 1224,458.5 1226,463.8 1228,452.8 1230,462.6 1232,453.8 1234,455.9 1236,442.5 1238,448.6 1240,441 1242,451.9 1244,455.6 1246,460.5 1248,452.6 1250,464.2 1252,460.2 1254,469.4 1256,458.6 1258,466.2 1260,453.6 1262,461.5 1264,451.9 1266,458.1 1268,454.3 1270,460 1272,456.1 1274,464.3 1276,459.7 1278,464.9 1280,455.1 1282,457.2 1284,443.7 1286,449 1288,448.8 1290,462.2 1292,449.7 1294,454.8 1296,441.7 1298,448.5 1300,437.2 1302,445.4 1304,439.4 1306,454.4 1308,452.6 1310,464.7 1312,462.7 1314,465.3 1316,455.3 1318,466.7 1320,465.6 1322,480.2 1324,467.5 1326,469.4 1328,455.6 1330,463.5 1332,455.8 1334,459.6 1336,454.8 1338,468.1 1340,459.4 1342,479.3 1344,470.9 1346,476 1348,467.7 1350,471.8 1352,458.9 1354,462.5 1356,452.8 1358,459.6 1360,451.4" fill="none" stroke="#fa96fa" stroke-width="3.2" stroke-linejoin="round" stroke-linecap="round"/><polygon points="470.5,253.3 471,254.3 472,256.2 473,258.1 473.3,258.6 474,261.7 475,266.2 476,270.7 476.1,271.1 477,271.1 478,271 479,270.9 480,270.8 481,270.8 482,270.8 482.2,270.8 483,273.7 484,277.4 484.4,278.9 485,280.6 486,283.5 486.7,285.5 487,286 488,287.6 488.1,287.7 489,287.4 490,287.1 490.6,286.9 491,288.6 492,292.7 493,296.9 493.1,297.3 494,299.5 495,301.9 496,304.3 497,306.7 497.5,307.9 498,307.2 499,305.9 500,304.5 501,303.2 501.3,302.8 502,302.5 503,302 504,301.6 505,301.1 505.6,300.8 506,301.6 507,303.4 508,305.2 509,307 510,308.9 511,311.9 512,314.8 512.5,316.3 513,315.7 514,314.3 515,313 516,311.7 516.3,311.3 517,313.4 518,316.5 519,319.5 520,322.5 521,319 522,315.5 522.5,313.7 523,313.5 524,313 525,312.6 526,312.2 526.9,311.8 527,312 528,314.9 529,317.8 530,320.7 530.6,322.4 531,322.9 532,324 533,325.1 533.8,326.1 534,326.5 535,328.9 536,331.4 536.9,333.5 537,333.6 538,334.1 539,334.7 540,335.2 541,335.8 541.3,336 542,334.6 543,332.6 543.8,331 544,330.9 545,330.8 546,330.7 547,330.6 548,330.5 548.8,330.4 549,329.9 550,327.7 551,325.5 551.3,324.8 552,326.7 553,329.5 553.1,329.8 554,332.9 555,336.4 555.6,338.5 556,337.4 557,334.7 558,332 558.8,329.8 559,329.5 560,328.3 561,327 561.3,326.6 562,328.5 563,331.1 564,333.8 564.4,334.8 565,338.4 566,344.2 566.3,346 567,348.5 568,352 568.1,352.3 569,351 570,349.4 570.6,348.5 571,348.7 572,349.1 573,349.5 573.8,349.8 574,350.1 575,351.6 576,353.1 576.3,353.5 577,353.9 578,354.4 579,354.9 580,355.4 581,355.9 581.3,356.1 582,354.5 583,352.2 584,349.9 585,347.6 585.6,346.2 586,347.3 587,350.1 588,352.9 588.8,355.1 589,354.8 590,353.2 591,351.7 591.9,350.2 592,350.6 593,353.8 594,357.1 595,360.3 596,362.4 597,364.4 598,366.4 598.1,366.7 599,368.2 600,369.8 601,369.9 602,369.9 603,370 603.8,370 604,370.1 605,370.5 606,370.9 607,371.3 607.5,371.5 608,371.3 609,370.9 610,370.5 610.6,370.3 611,370.3 612,370.5 613,370.7 614,370.9 615,371.1 615.6,371.2 616,371.9 617,373.6 618,375.3 618.8,376.6 619,376.8 620,377.4 621,378.1 622,378.7 623,379.4 623.1,379.5 624,379.6 625,379.7 626,379.8 626.9,379.9 627,379.6 628,376.2 628.8,373.5 629,373.4 630,372.8 631,372.2 632,371.6 632.5,371.4 633,371.1 634,370.7 635,370.2 636,369.7 636.9,369.3 637,369.4 638,371 639,372.5 640,374.1 641,376 642,378 643,379.9 643.1,380.1 644,380.3 645,380.5 646,380.7 647,380.9 648,381.1 648.1,381.1 649,382.1 650,383.1 651,384.2 651.3,384.6 652,384.4 653,384.2 654,384 655,383.7 656,384 657,384.2 658,384.5 658.8,384.7 659,384.7 660,385 661,385.3 662,385.6 662.5,385.8 663,385.7 664,385.5 665,385.3 666,385.1 667,384.9 667.5,384.8 668,384.6 669,384.2 670,383.9 671,383.5 672,383.1 673,382.8 673.8,382.5 674,382.6 675,383.1 676,383.7 676.9,384.1 677,384.5 678,388.5 679,392.4 679.4,394 680,393.6 681,392.9 682,392.2 682.5,391.9 683,390.1 684,386.7 685,383.2 685.6,381.1 686,381.7 687,383.3 687.5,384.1 688,384.7 689,385.9 690,387.1 691,385 692,382.9 692.5,381.9 693,380.3 694,376.9 694.4,375.6 695,378.3 696,382.8 696.3,384.2 697,384.4 698,384.7 699,385 700,385.3 701,387.2 702,389.2 703,391.1 703.1,391.3 704,394.4 705,397.8 705.6,399.9 706,399 707,396.5 708,394.1 708.8,392.2 709,392.1 710,391.7 711,391.3 712,390.9 712.5,390.7 713,389.8 714,388.2 715,386.5 715.6,385.5 716,386.2 717,388.1 718,390 718.8,391.6 719,391.7 720,392.5 721,393.3 722,394.1 723,394.9 723.1,395 724,392.1 725,388.9 726,385.7 726.3,384.7 727,383.6 728,382 729,380.4 730,378.8 731,382 732,385.1 732.5,386.7 733,387.1 734,387.9 735,388.6 736,389.4 736.9,390.1 737,390.1 738,389.7 739,389.2 740,388.8 741,388.4 742,387.9 742.5,387.8 743,388.6 744,390.4 745,392.1 746,393.9 746.3,394.4 747,395.6 748,397.3 749,399 750,400.7 751,402.3 751.3,402.8 752,402.4 753,401.8 754,401.1 755,400.5 755.6,400.1 756,400.5 757,401.4 758,402.4 759,403.3 760,404.2 760.6,404.8 761,403.8 762,401.4 763,399 763.8,397.1 764,396.6 765,394.1 766,391.7 766.9,389.4 767,389.5 768,390.5 769,391.4 769.4,391.8 770,390.8 771,389.3 771.9,387.9 772,388.4 773,392.8 773.5,395 774,396.1 775,398.3 776,399.2 777,400.1 778,401 778.8,401.8 779,401.7 780,401.7 781,401.6 782,401.5 783,401.5 783.8,401.4 784,401.6 785,402.4 786,403.2 787,404 788,404.9 788.1,404.9 789,406.7 790,408.6 791,410.5 792,412.5 793,414.4 793.1,414.6 794,412.5 795,410.1 796,407.7 796.9,405.6 797,405.4 798,403.8 799,402.2 800,400.6 801,399 801.3,398.5 802,399.2 803,400.1 804,401.1 805,402 805.6,402.6 806,402.9 807,403.6 808,404.3 809,404.9 810,405.6 811,406.2 812,406.8 813,407.4 814,407.9 815,408.5 816,409.1 817,409.7 818,410.2 819,410.8 820,411.4 821,409.4 822,407.3 823,405.3 823.1,405.1 824,404.9 825,404.7 826,404.5 827,404.3 827.5,404.2 828,404.2 829,404.2 830,404.3 831,404.3 832,404.4 832.5,404.4 833,404.5 834,404.8 835,405.1 836,405.4 837,405.7 837.5,405.8 838,406 839,406.4 840,406.8 841,407.1 842,407.5 842.5,407.7 843,407.5 844,407.3 845,407 846,406.7 847,406.5 847.5,406.3 848,406.1 849,405.6 850,405.1 851,404.6 851.9,404.2 852,404.3 853,405.5 854,406.7 855,407.9 856,409.1 856.3,409.4 857,409.7 858,410 859,410.3 860,410.7 861,411 861.3,411.1 862,412.3 863,414 864,415.7 865,417.4 866,418.1 867,418.9 868,419.6 869,420.3 870,421 871,421.7 872,422.4 873,423.1 874,423.8 875,424.5 876,425.2 876.3,425.3 877,423.4 878,420.7 879,417.9 879.4,416.8 880,416.1 881,414.9 882,413.8 883,412.6 883.1,412.5 884,411.2 885,409.8 886,408.4 887,407 887.5,406.3 888,406.8 889,407.6 890,408.5 891,409.3 891.9,410.1 892,410.1 893,410.1 894,410.1 895,410.1 896,410.1 896.3,410.1 897,409.6 898,409 899,408.3 900,407.6 901,408.1 902,408.6 903,409.1 904,409.6 904.4,409.8 905,409.8 906,409.7 907,409.6 908,409.5 908.8,409.4 909,409.8 910,411.7 911,413.6 912,415.5 913,417.3 913.8,418.9 914,418.8 915,418.3 916,417.8 917,417.3 918,416.8 918.8,416.4 919,416.3 920,416 921,415.8 922,415.5 923,415.2 923.1,415.2 924,417.1 925,419.2 926,421.4 926.3,422 927,422.6 928,423.3 929,424.1 930,424.9 931,425.7 931.9,426.4 932,426.1 933,422.7 934,419.3 935,415.9 936,412.5 936.3,411.4 937,412.2 938,413.4 939,414.5 940,415.7 940.6,416.4 941,416.4 941.9,416.4 942,416.9 943,421.7 944,426.6 945,431.5 945.6,434.4 946,433.2 947,430.3 948,427.3 949,424.4 949.4,423.2 950,424.7 951,427.3 952,429.9 953,432.5 953.1,432.7 954,431.9 955,430.9 956,430 956.3,429.7 957,431.1 958,433.1 959,435.1 960,437.2 961,434.1 962,431 963,428 963.8,425.5 964,425 965,422.2 966,419.5 967,416.8 967.5,415.4 968,416.3 969,418 970,419.7 971,421.3 971.3,421.8 972,423.1 973,424.9 974,426.7 975,428.5 975.6,429.6 976,429.4 977,429 978,428.6 979,428.1 980,427.7 981,428.7 982,429.8 982.5,430.3 983,427.2 984,421.2 985,415.1 986,415.3 987,415.5 988,415.6 988.8,415.8 989,416.2 990,418.4 991,420.5 991.3,421.2 992,420.9 993,420.5 993.8,420.2 994,420.4 995,421.6 996,422.8 997,424 997.5,424.6 998,425.2 999,426.3 1000,427.5 1001,427.7 1002,427.9 1003,428.1 1003.8,428.3 1004,428.9 1005,432.1 1006,433.4 1007,434.7 1008,436.1 1008.1,436.2 1009,435.5 1010,434.7 1011,434 1011.9,433.3 1012,433.4 1013,435 1014,436.5 1015,438 1016,439.5 1016.3,440 1017,439.3 1018,438.2 1019,437.2 1020,436.2 1021,437.6 1022,439 1023,440.3 1023.1,440.5 1024,440 1025,439.4 1026,438.8 1026.3,438.7 1027,439.1 1028,439.8 1029,440.5 1029.4,440.8 1030,440.4 1031,439.9 1032,439.3 1033,438.7 1033.1,438.7 1034,436.4 1035,433.8 1036,431.2 1036.3,430.5 1037,432.4 1038,435.1 1039,437.8 1040,440.5 1041,439.2 1042,438 1043,436.7 1043.8,435.8 1044,435.6 1045,434.6 1046,433.6 1046.9,432.7 1047,433 1048,436.4 1049,439.8 1049.4,441.2 1050,441.6 1051,442.2 1052,442.9 1052.5,443.2 1053,443.8 1054,444.8 1055,445.8 1055.6,446.4 1056,445.9 1057,444.6 1058,443.3 1059,442 1060,440.7 1061,441.7 1062,442.6 1063,443.5 1063.1,443.6 1064,441.5 1065,439.1 1065.6,437.6 1066,438.1 1067,439.4 1068,440.6 1068.8,441.6 1069,440.8 1070,436.6 1070.6,434.1 1071,435.2 1072,437.8 1073,440.4 1073.8,442.4 1074,442.6 1075,443.4 1076,444.2 1077,445 1077.5,445.4 1078,444.7 1079,443.3 1080,442 1080.6,441.1 1081,441.4 1082,442.2 1083,443 1083.8,443.6 1084,443.8 1085,444.6 1086,445.5 1087,446.4 1088,447.2 1088.8,447.9 1089,447.6 1090,446.3 1091,444.9 1092,443.5 1093,442.1 1093.1,442 1094,441.9 1095,441.7 1096,441.6 1097,441.5 1097.5,441.4 1098,440.4 1099,438.3 1100,436.2 1100.6,434.9 1101,435.3 1102,436.4 1103,437.4 1104,438.5 1104.4,438.9 1105,437.6 1106,435.3 1107,433.1 1107.5,432 1108,431.1 1109,429.3 1110,427.6 1111,428.3 1112,429.1 1113,429.9 1114,430.6 1115,431.4 1116,431.1 1117,430.8 1118,430.6 1119,430.3 1120,430 1121,433.2 1122,436.4 1123,439.5 1123.1,439.8 1124,438 1125,435.9 1126,433.9 1127,431.8 1128,429.7 1128.8,428.1 1129,428.2 1130,428.7 1131,429.2 1132,429.7 1132.5,430 1133,431.8 1134,435.4 1135,439 1136,442.6 1136.3,443.7 1137,442.8 1138,441.5 1139,440.2 1140,438.9 1141,440 1142,441.1 1143,442.2 1144,443.2 1144.4,443.7 1145,444 1146,444.4 1147,444.9 1148,445.4 1148.1,445.5 1149,441.9 1150,438 1151,434.1 1151.3,432.9 1152,431.1 1153,428.4 1154,425.7 1154.4,424.6 1155,425.6 1156,427.3 1157,429 1158,430.7 1158.8,432.1 1159,432.1 1160,431.9 1161,431.8 1162,431.7 1162.5,431.7 1163,428.3 1163.8,422.8 1164,423.3 1165,425.5 1166,427.7 1167,429.9 1167.5,431 1168,432 1169,434 1170,436 1171,441.9 1172,447.8 1172.5,450.7 1173,448.7 1174,444.9 1175,441 1176,437.1 1176.3,436 1177,435.7 1178,435.2 1179,434.8 1179.4,434.6 1180,436 1181,438.4 1182,440.7 1183,443 1183.8,444.9 1184,444.7 1185,443.7 1186,442.7 1187,441.7 1188,440.7 1188.1,440.6 1189,440.2 1190,439.8 1190.6,439.6 1191,438.8 1192,436.8 1193,434.9 1193.8,433.3 1194,433.8 1195,436.1 1196,438.4 1197,440.7 1197.5,441.8 1198,442.7 1199,444.6 1200,446.4 1201,447.5 1202,448.6 1203,449.7 1203.8,450.5 1204,450.8 1205,452.1 1206,453.4 1207,454.6 1208,455.9 1209,457.2 1209.4,457.7 1210,456.3 1211,453.9 1212,451.5 1212.5,450.2 1213,449.4 1214,447.6 1215,445.8 1216,444 1216.3,443.5 1217,444.2 1218,445.2 1219,446.2 1220,447.2 1220.6,447.8 1221,448.9 1222,451.6 1223,454.3 1224,456.9 1225,459.6 1226,457.3 1227,454.9 1228,452.6 1228.1,452.3 1229,453.8 1230,455.3 1231,456.9 1231.3,457.4 1232,454.9 1233,451.4 1234,447.8 1235,444.3 1236,443.4 1237,442.4 1238,441.5 1239,440.5 1240,439.6 1240.6,439 1241,440.8 1242,445.2 1243,449.6 1243.8,453.1 1244,453.1 1245,453.1 1246,453 1247,453 1248,452.9 1248.8,452.9 1249,453.3 1250,455.3 1251,457.3 1252,459.3 1253,461.3 1253.1,461.5 1254,460.8 1255,460.1 1256,459.4 1257,458.7 1257.5,458.3 1258,457.7 1259,456.3 1260,455 1261,454.2 1262,453.3 1263,452.5 1264,451.7 1265,450.9 1266,450.1 1266.3,449.8 1267,450.6 1268,451.8 1269,453 1270,454.2 1271,455.4 1271.3,455.8 1272,456.1 1273,456.6 1274,457.1 1275,457.6 1275.6,457.9 1276,457.8 1277,457.5 1278,457.3 1279,457.1 1279.4,457 1280,455.1 1281,451.9 1282,448.8 1282.5,447.2 1283,445.9 1284,443.2 1285,440.5 1285.6,438.9 1286,440.1 1287,443.3 1288,446.4 1289,449.6 1290,452.8 1291,451.3 1292,449.8 1293,448.3 1293.8,447.2 1294,446.7 1295,444.3 1296,441.9 1297,439.6 1297.5,438.4 1298,438.2 1299,437.8 1300,437.4 1301,437 1302,436.7 1302.5,436.5 1303,437.6 1304,439.7 1305,441.9 1306,444 1306.3,444.7 1307,448.7 1308,454.3 1308.1,454.9 1309,456.3 1310,457.8 1311,459.3 1311.9,460.7 1312,460.6 1313,459.1 1314,457.7 1315,456.3 1316,454.9 1316.3,454.4 1317,456.5 1318,459.4 1319,462.3 1319.4,463.4 1320,465.1 1321,467.9 1321.9,470.4 1322,470.1 1323,467.9 1324,465.7 1325,463.5 1326,461.2 1327,459 1328,456.8 1328.1,456.6 1329,456.6 1330,456.6 1331,456.6 1331.3,456.6 1332,454.9 1333,452.4 1333.8,450.4 1334,450.9 1335,453.3 1336,455.7 1336.9,457.9 1337,457.9 1338,458.1 1339,458.3 1340,458.5 1341,463.8 1342,469 1342.5,471.6 1343,471.2 1344,470.4 1345,469.6 1346,468.8 1346.3,468.5 1347,467.6 1348,466.1 1349,464.7 1349.4,464.2 1350,463.2 1351,461.6 1352,460 1352.5,459.2 1353,458.1 1354,456 1355,453.8 1356,451.7 1356.3,451.1 1357,450.2 1358,449.1 1359,447.9 1359.4,447.4 1360,453 1360.6,458.6 1360.6,467.4 1360,461.8 1359.4,456.2 1359,456.7 1358,457.8 1357,459 1356.3,459.9 1356,460.5 1355,462.6 1354,464.7 1353,466.9 1352.5,467.9 1352,468.7 1351,470.3 1350,471.9 1349.4,472.9 1349,473.4 1348,474.9 1347,476.3 1346.3,477.2 1346,477.5 1345,478.3 1344,479.1 1343,479.9 1342.5,480.3 1342,477.7 1341,472.4 1340,467.2 1339,467 1338,466.8 1337,466.6 1336.9,466.6 1336,464.4 1335,461.9 1334,459.5 1333.8,459 1333,461 1332,463.5 1331.3,465.2 1331,465.2 1330,465.2 1329,465.2 1328.1,465.2 1328,465.4 1327,467.6 1326,469.8 1325,472 1324,474.2 1323,476.5 1322,478.7 1321.9,478.9 1321,476.4 1320,473.6 1319.4,472 1319,470.8 1318,467.9 1317,465 1316.3,462.9 1316,463.4 1315,464.8 1314,466.2 1313,467.6 1312,469.1 1311.9,469.2 1311,467.8 1310,466.3 1309,464.7 1308.1,463.4 1308,462.8 1307,457.1 1306.3,453.1 1306,452.5 1305,450.3 1304,448.1 1303,446 1302.5,444.9 1302,445.1 1301,445.5 1300,445.8 1299,446.2 1298,446.6 1297.5,446.7 1297,447.9 1296,450.3 1295,452.7 1294,455 1293.8,455.5 1293,456.7 1292,458.1 1291,459.6 1290,461 1289,457.9 1288,454.7 1287,451.5 1286,448.4 1285.6,447.1 1285,448.7 1284,451.4 1283,454.1 1282.5,455.4 1282,457 1281,460.1 1280,463.2 1279.4,465.1 1279,465.2 1278,465.4 1277,465.7 1276,465.9 1275.6,466 1275,465.7 1274,465.2 1273,464.7 1272,464.2 1271.3,463.9 1271,463.5 1270,462.3 1269,461.1 1268,459.9 1267,458.7 1266.3,457.8 1266,458 1265,458.9 1264,459.7 1263,460.5 1262,461.3 1261,462.1 1260,462.9 1259,464.2 1258,465.6 1257.5,466.2 1257,466.6 1256,467.3 1255,468 1254,468.7 1253.1,469.3 1253,469.1 1252,467.1 1251,465.1 1250,463.1 1249,461.1 1248.8,460.7 1248,460.7 1247,460.7 1246,460.8 1245,460.8 1244,460.8 1243.8,460.9 1243,457.3 1242,452.9 1241,448.4 1240.6,446.7 1240,447.2 1239,448.2 1238,449.1 1237,450.1 1236,451 1235,451.9 1234,455.5 1233,459 1232,462.5 1231.3,465 1231,464.5 1230,462.9 1229,461.3 1228.1,459.9 1228,460.1 1227,462.4 1226,464.8 1225,467.1 1224,464.4 1223,461.7 1222,459.1 1221,456.4 1220.6,455.3 1220,454.7 1219,453.7 1218,452.6 1217,451.6 1216.3,450.9 1216,451.4 1215,453.2 1214,455 1213,456.7 1212.5,457.6 1212,458.8 1211,461.2 1210,463.6 1209.4,465 1209,464.5 1208,463.2 1207,461.9 1206,460.6 1205,459.3 1204,458 1203.8,457.8 1203,456.9 1202,455.8 1201,454.7 1200,453.6 1199,451.8 1198,449.9 1197.5,449 1197,447.9 1196,445.6 1195,443.3 1194,441 1193.8,440.5 1193,442.1 1192,444 1191,446 1190.6,446.7 1190,447 1189,447.4 1188.1,447.7 1188,447.8 1187,448.8 1186,449.8 1185,450.8 1184,451.8 1183.8,452 1183,450.2 1182,447.8 1181,445.5 1180,443.2 1179.4,441.8 1179,441.9 1178,442.3 1177,442.8 1176.3,443.1 1176,444.2 1175,448.1 1174,452 1173,455.8 1172.5,457.8 1172,454.8 1171,449 1170,443.1 1169,441.1 1168,439.1 1167.5,438.1 1167,437 1166,434.8 1165,432.6 1164,430.3 1163.8,429.9 1163,435.3 1162.5,438.7 1162,438.8 1161,438.9 1160,439 1159,439.1 1158.8,439.1 1158,437.8 1157,436.1 1156,434.4 1155,432.6 1154.4,431.6 1154,432.7 1153,435.4 1152,438.1 1151.3,439.9 1151,441.1 1150,445 1149,448.9 1148.1,452.4 1148,452.4 1147,451.9 1146,451.4 1145,450.9 1144.4,450.7 1144,450.2 1143,449.1 1142,448 1141,447 1140,445.9 1139,447.2 1138,448.5 1137,449.8 1136.3,450.7 1136,449.6 1135,446 1134,442.3 1133,438.7 1132.5,436.9 1132,436.6 1131,436.1 1130,435.6 1129,435.1 1128.8,435 1128,436.6 1127,438.7 1126,440.8 1125,442.8 1124,444.9 1123.1,446.7 1123,446.4 1122,443.2 1121,440.1 1120,436.9 1119,437.2 1118,437.5 1117,437.7 1116,438 1115,438.2 1114,437.5 1113,436.7 1112,435.9 1111,435.2 1110,434.4 1109,436.2 1108,437.9 1107.5,438.8 1107,439.9 1106,442.2 1105,444.4 1104.4,445.7 1104,445.3 1103,444.2 1102,443.2 1101,442.1 1100.6,441.7 1100,443 1099,445.1 1098,447.1 1097.5,448.2 1097,448.3 1096,448.4 1095,448.5 1094,448.7 1093.1,448.8 1093,448.9 1092,450.3 1091,451.7 1090,453 1089,454.4 1088.8,454.7 1088,454 1087,453.1 1086,452.3 1085,451.4 1084,450.6 1083.8,450.4 1083,449.8 1082,449 1081,448.2 1080.6,447.9 1080,448.7 1079,450.1 1078,451.5 1077.5,452.2 1077,451.8 1076,451 1075,450.1 1074,449.3 1073.8,449.2 1073,447.1 1072,444.5 1071,441.9 1070.6,440.9 1070,443.4 1069,447.5 1068.8,448.4 1068,447.4 1067,446.1 1066,444.9 1065.6,444.4 1065,445.8 1064,448.2 1063.1,450.4 1063,450.3 1062,449.3 1061,448.4 1060,447.5 1059,448.8 1058,450 1057,451.3 1056,452.6 1055.6,453.2 1055,452.5 1054,451.5 1053,450.5 1052.5,450 1052,449.6 1051,448.9 1050,448.3 1049.4,447.8 1049,446.5 1048,443.1 1047,439.7 1046.9,439.3 1046,440.2 1045,441.2 1044,442.2 1043.8,442.4 1043,443.4 1042,444.7 1041,445.9 1040,447.1 1039,444.4 1038,441.7 1037,439 1036.3,437.1 1036,437.9 1035,440.5 1034,443 1033.1,445.3 1033,445.4 1032,446 1031,446.5 1030,447.1 1029.4,447.4 1029,447.2 1028,446.5 1027,445.8 1026.3,445.3 1026,445.5 1025,446.1 1024,446.6 1023.1,447.1 1023,447 1022,445.6 1021,444.2 1020,442.8 1019,443.8 1018,444.9 1017,445.9 1016.3,446.6 1016,446.2 1015,444.6 1014,443.1 1013,441.6 1012,440.1 1011.9,439.9 1011,440.6 1010,441.4 1009,442.1 1008.1,442.8 1008,442.7 1007,441.4 1006,440 1005,438.7 1004,435.5 1003.8,434.9 1003,434.7 1002,434.5 1001,434.3 1000,434.1 999,432.9 998,431.8 997.5,431.2 997,430.6 996,429.4 995,428.2 994,427.1 993.8,426.8 993,427.1 992,427.6 991.3,427.8 991,427.2 990,425 989,422.9 988.8,422.4 988,422.3 987,422.2 986,422 985,421.9 984,427.9 983,434 982.5,437 982,436.5 981,435.5 980,434.5 979,434.9 978,435.3 977,435.8 976,436.2 975.6,436.4 975,435.3 974,433.5 973,431.7 972,429.9 971.3,428.7 971,428.2 970,426.5 969,424.8 968,423.1 967.5,422.3 967,423.7 966,426.4 965,429.1 964,431.9 963.8,432.4 963,434.9 962,437.9 961,441 960,444.1 959,442.1 958,440.1 957,438.1 956.3,436.6 956,436.9 955,437.9 954,438.8 953.1,439.7 953,439.5 952,436.9 951,434.3 950,431.7 949.4,430.2 949,431.4 948,434.3 947,437.3 946,440.3 945.6,441.5 945,438.5 944,433.7 943,428.8 942,423.9 941.9,423.4 941,423.5 940.6,423.5 940,422.8 939,421.6 938,420.5 937,419.3 936.3,418.5 936,419.6 935,423 934,426.4 933,429.8 932,433.2 931.9,433.6 931,432.9 930,432.1 929,431.3 928,430.5 927,429.7 926.3,429.2 926,428.6 925,426.4 924,424.3 923.1,422.4 923,422.4 922,422.7 921,423 920,423.3 919,423.6 918.8,423.6 918,424 917,424.5 916,425 915,425.5 914,426 913.8,426.1 913,424.6 912,422.8 911,420.9 910,419 909,417.1 908.8,416.8 908,416.8 907,416.9 906,417 905,417.1 904.4,417.2 904,417 903,416.5 902,416 901,415.5 900,415 899,415.7 898,416.3 897,417 896.3,417.5 896,417.5 895,417.5 894,417.5 893,417.5 892,417.5 891.9,417.5 891,416.7 890,415.8 889,415 888,414.1 887.5,413.7 887,414.3 886,415.7 885,417.1 884,418.5 883.1,419.8 883,419.9 882,421.1 881,422.2 880,423.4 879.4,424.1 879,425.2 878,427.9 877,430.7 876.3,432.6 876,432.4 875,431.7 874,431 873,430.3 872,429.6 871,429 870,428.3 869,427.5 868,426.8 867,426.1 866,425.3 865,424.6 864,422.9 863,421.2 862,419.5 861.3,418.3 861,418.2 860,417.9 859,417.5 858,417.1 857,416.8 856.3,416.5 856,416.2 855,415 854,413.8 853,412.6 852,411.4 851.9,411.3 851,411.7 850,412.2 849,412.7 848,413.2 847.5,413.4 847,413.5 846,413.8 845,414.1 844,414.3 843,414.6 842.5,414.7 842,414.5 841,414.2 840,413.8 839,413.4 838,413 837.5,412.9 837,412.7 836,412.4 835,412.1 834,411.8 833,411.5 832.5,411.4 832,411.4 831,411.3 830,411.3 829,411.2 828,411.2 827.5,411.2 827,411.3 826,411.4 825,411.6 824,411.8 823.1,412 823,412.2 822,414.3 821,416.3 820,418.3 819,417.7 818,417.2 817,416.6 816,416 815,415.4 814,414.8 813,414.2 812,413.7 811,413.1 810,412.5 809,411.8 808,411.1 807,410.4 806,409.7 805.6,409.4 805,408.9 804,407.9 803,406.9 802,406 801.3,405.3 801,405.8 800,407.4 799,409 798,410.5 797,412.1 796.9,412.3 796,414.4 795,416.8 794,419.1 793.1,421.3 793,421.1 792,419.1 791,417.2 790,415.2 789,413.3 788.1,411.5 788,411.4 787,410.6 786,409.7 785,408.9 784,408.1 783.8,407.9 783,407.9 782,408 781,408 780,408.1 779,408.1 778.8,408.1 778,407.4 777,406.5 776,405.5 775,404.6 774,402.4 773.5,401.3 773,399 772,394.6 771.9,394.1 771,395.5 770,397 769.4,398 769,397.6 768,396.6 767,395.7 766.9,395.6 766,397.8 765,400.2 764,402.7 763.8,403.2 763,405.1 762,407.5 761,409.9 760.6,410.8 760,410.2 759,409.3 758,408.3 757,407.4 756,406.4 755.6,406 755,406.4 754,407 753,407.6 752,408.2 751.3,408.7 751,408.2 750,406.5 749,404.8 748,403.1 747,401.3 746.3,400.2 746,399.6 745,397.8 744,396.1 743,394.3 742.5,393.4 742,393.6 741,394 740,394.4 739,394.8 738,395.2 737,395.6 736.9,395.7 736,394.9 735,394.1 734,393.3 733,392.6 732.5,392.2 732,390.6 731,387.4 730,384.2 729,385.8 728,387.4 727,389 726.3,390.1 726,391 725,394.2 724,397.4 723.1,400.2 723,400.2 722,399.3 721,398.5 720,397.7 719,396.9 718.8,396.7 718,395.2 717,393.3 716,391.3 715.6,390.6 715,391.6 714,393.2 713,394.9 712.5,395.7 712,395.9 711,396.3 710,396.7 709,397.1 708.8,397.2 708,399.1 707,401.5 706,403.9 705.6,404.8 705,402.7 704,399.3 703.1,396.1 703,396 702,394 701,392 700,390.1 699,389.8 698,389.5 697,389.2 696.3,389 696,387.6 695,383.1 694.4,380.4 694,381.7 693,385 692.5,386.7 692,387.7 691,389.8 690,391.8 689,390.6 688,389.5 687.5,388.9 687,388.1 686,386.5 685.6,385.9 685,388 684,391.4 683,394.9 682.5,396.6 682,397 681,397.6 680,398.3 679.4,398.7 679,397.1 678,393.2 677,389.3 676.9,388.9 676,388.4 675,387.9 674,387.3 673.8,387.2 673,387.5 672,387.9 671,388.2 670,388.6 669,389 668,389.4 667.5,389.5 667,389.6 666,389.8 665,390 664,390.2 663,390.4 662.5,390.5 662,390.3 661,390 660,389.8 659,389.5 658.8,389.4 658,389.2 657,389 656,388.7 655,388.4 654,388.7 653,388.9 652,389.1 651.3,389.3 651,388.9 650,387.8 649,386.8 648.1,385.8 648,385.7 647,385.5 646,385.4 645,385.2 644,385 643.1,384.8 643,384.6 642,382.6 641,380.7 640,378.8 639,377.2 638,375.7 637,374.1 636.9,374 636,374.4 635,374.8 634,375.3 633,375.8 632.5,376 632,376.3 631,376.9 630,377.5 629,378 628.8,378.2 628,380.9 627,384.2 626.9,384.6 626,384.5 625,384.3 624,384.2 623.1,384.1 623,384 622,383.4 621,382.7 620,382.1 619,381.4 618.8,381.3 618,379.9 617,378.2 616,376.5 615.6,375.9 615,375.7 614,375.5 613,375.3 612,375.2 611,375 610.6,374.9 610,375.2 609,375.5 608,375.9 607.5,376.1 607,375.9 606,375.5 605,375.1 604,374.7 603.8,374.6 603,374.6 602,374.5 601,374.5 600,374.4 599,372.7 598.1,371.2 598,371 597,368.9 596,366.9 595,364.8 594,361.5 593,358.2 592,354.9 591.9,354.6 591,356 590,357.6 589,359.1 588.8,359.4 588,357.2 587,354.4 586,351.6 585.6,350.4 585,351.8 584,354.1 583,356.3 582,358.6 581.3,360.2 581,360 580,359.5 579,358.9 578,358.4 577,357.9 576.3,357.5 576,357.1 575,355.6 574,354.1 573.8,353.8 573,353.4 572,353 571,352.5 570.6,352.4 570,353.3 569,354.7 568.1,356.1 568,355.7 567,352.2 566.3,349.7 566,348 565,342 564.4,338.5 564,337.4 563,334.7 562,332.1 561.3,330.2 561,330.6 560,331.8 559,333.1 558.8,333.3 558,335.5 557,338.2 556,340.9 555.6,341.9 555,339.8 554,336.3 553.1,333.2 553,332.9 552,330.1 551.3,328.1 551,328.8 550,331 549,333.2 548.8,333.7 548,333.7 547,333.8 546,333.9 545,334 544,334.1 543.8,334.1 543,335.7 542,337.7 541.3,339 541,338.9 540,338.3 539,337.7 538,337.1 537,336.5 536.9,336.5 536,334.3 535,331.9 534,329.4 533.8,328.9 533,328 532,326.8 531,325.7 530.6,325.2 530,323.5 529,320.5 528,317.6 527,314.7 526.9,314.4 526,314.8 525,315.2 524,315.7 523,316.1 522.5,316.3 522,318 521,321.6 520,325.1 519,322 518,318.9 517,315.9 516.3,313.7 516,314.1 515,315.4 514,316.7 513,318 512.5,318.7 512,317.2 511,314.1 510,311.1 509,309.3 508,307.4 507,305.6 506,303.7 505.6,303 505,303.2 504,303.7 503,304.1 502,304.5 501.3,304.8 501,305.2 500,306.5 499,307.8 498,309.1 497.5,309.7 497,308.6 496,306.1 495,303.6 494,301.2 493.1,298.9 493,298.5 492,294.3 491,290.1 490.6,288.4 490,288.6 489,288.9 488.1,289.1 488,288.9 487,287.3 486.7,286.8 486,284.8 485,281.8 484.4,280.1 484,278.6 483,274.8 482.2,271.8 482,271.8 481,271.8 480,271.8 479,271.8 478,271.8 477,271.8 476.1,271.8 476,271.4 475,266.9 474,262.4 473.3,259.2 473,258.6 472,256.7 471,254.7 470.5,253.7" fill="#fa96fa"/><polyline points="374,58.9 376,70.7 378,81.3 380,86.4 382,95.6 384,100.9 386,110.5 388,115.8 390,123.5 392,127.4 394,136.3 396,140.8 398,150 400,153.2 402,160.4 404,166.4 406,173.9 408,177.6 410,184.5 412,188 414,195.3 416,199.2 418,207.3 420,209.7 422,216 424,218.3 426,227 428,229.6 430,235.7 432,236 434,244.3 436,246.8 438,252.1 440,254.2 442,261.1 444,264.6 446,269.1 448,269.6 450,279.9 452,283.9 454,287.1 456,287.3 458,295.3 460,299.4 462,305.9 464,309.6 466,313.4 468,312.8 470,315.9 472,316.7 474,321.9 476,326.6 478,331.3 480,330.3 482,334.3 484,335.6 486,343.2 488,343.8 490,347.2 492,351.4 494,358.4 496,359.7 498,365.2 500,367.4 502,371.2 504,369.8 506,374.1 508,373.9 510,378.4 512,379.6 514,383.9 516,383.6 518,388.6 520,389.1 522,390.7 524,389.2 526,393 528,394.7 530,400.1 532,401.9 534,405.8 536,406.3 538,412.5 540,414.4 542,417.7 544,416.3 546,418.8 548,416.8 550,419.3 552,419.6 554,424 556,423.8 558,424.9 560,421.6" fill="none" stroke="#1f48f2" stroke-width="4" stroke-linejoin="round"/><polyline points="560,421.6 562,424.1 564,425.3 566,433.3 568,433.1 570,435.6 572,434.3 574,439.2 576,439.1 578,442.9 580,442.7 582,444.9 584,440.6 586,441.2 588,443.1 590,446.1 592,443.2 594,448.3 596,451.3 598,455.6 600,454.8 602,461.7 604,461.1 606,465.1 608,464.8 610,467.6 612,466.7 614,470.1 616,469.9 618,474.4 620,473.4 622,476.3 624,475 626,477 628,475.4 630,478 632,475.9 634,478.1 636,475.2 638,479.4 640,478.1 642,483.3 644,483.1 646,484.7 648,482.6 650,488.3 652,487.3 654,489.1 656,485.7 658,488.9 660,486.9 662,490.6 664,489 666,492.9 668,490.3 670,494.3 672,491.9 674,493.7 676,491.7 678,496.3 680,500 682,501.5 684,497.1 686,498.1 688,496.3 690,500.8 692,493.3 694,492.7 696,493.6 698,498 700,497.4 702,503.3 704,502.4 706,507.9 708,503.8 710,504.6 712,505.7 714,507.1 716,503.2 718,508.4 720,506.7 722,512.2 724,507.7 726,510.9 728,506.7 730,507.7 732,508.2 734,512.1 736,510.7 738,513.4 740,510.3 742,514.8 744,511.6 746,516.6 748,515.1 750,521.2 752,520.1 754,523.7 756,520.9 758,527.7 760,525.7 762,530.4 764,527.2 766,526.9 768,521.9 770,522.8 772,518.7 774,524.9 776,521.4 778,528.3 780,525.5 782,530.3 784,526.9 786,530.7 788,528.3 790,533.1 792,532.8 794,535.9 796,529.7 798,532.3 800,525.7 802,527.3 804,526.1 806,530.7 808,528.1 810,534.6 812,530.9 814,535.1 816,533 818,536.4 820,533.3 822,535.7 824,529.2 826,532.1 828,528.1 830,533.2 832,530.2 834,534.9 836,533.4 838,537.3 840,532.6 842,537.7 844,535.1 846,539.2 848,537.1 850,538.7 852,533.4 854,538.2 856,536.2 858,538.9 860,534.6 862,541.5 864,541.4 866,546.5 868,543.7 870,548.3 872,545 874,549.7 876,544.5 878,546.6 880,539.8 882,543 884,538.5 886,538.7 888,534.3 890,538.6 892,537.3 894,540.7 896,536.5 898,539.6 900,536.1 902,541.8 904,539.3 906,543.6 908,539 910,540.2 912,538.3 914,542.1 916,538.7 918,541.3 920,538.7 922,538.9 924,536.4 926,539.1 928,538.4 930,542.9 932,540.7 934,542.1 936,535.4 938,538 940,536.1 942,541.9 944,541.3 946,550.1 948,545.7 950,548.3 952,547.4 954,551.8 956,548.3 958,552.1 960,552 962,552.2 964,547.3 966,546.7 968,543.5 970,550.8 972,545.5 974,550.4 976,548.3 978,551.8 980,547.9 982,551.1 984,544.6 986,544.3 988,541.6 990,546.8 992,543.5 994,545.3 996,543.1 998,548.2 1000,544.4 1002,548.4 1004,546.9 1006,550.8 1008,549.7 1010,555.3 1012,554.1 1014,558 1016,555.2 1018,557 1020,553.1 1022,554 1024,551.9 1026,555.1 1028,554.8 1030,559 1032,554.8 1034,555.8 1036,551.3 1038,557.3 1040,556.4 1042,559.6 1044,554.7 1046,556.1 1048,552.8 1050,558.5 1052,556.6 1054,563.4 1056,562.1 1058,565.9 1060,563 1062,566.3 1064,562.5 1066,563.5 1068,558.8 1070,561.2 1072,559 1074,565 1076,563.3 1078,564.6 1080,560.6 1082,564.5 1084,563.2 1086,566.7 1088,562.8 1090,566.4 1092,560.2 1094,562.3 1096,557.9 1098,560.9 1100,557.8 1102,559.4 1104,557.8 1106,560.4 1108,554.2 1110,555.9 1112,553.3 1114,555.2 1116,551.2 1118,552.9 1120,547.7 1122,552.3 1124,548.6 1126,549.6 1128,543.2 1130,545.2 1132,541.6 1134,547.8 1136,546 1138,549.3 1140,545.3 1142,550.7 1144,549 1146,553.3 1148,550.9 1150,548.6 1152,540.7 1154,543 1156,540.8 1158,545.9 1160,542.3 1162,543.9 1164,535.4 1166,541.2 1168,538.2 1170,543.7 1172,545.4 1174,547 1176,540.7 1178,541 1180,537.7 1182,541.1 1184,541.1 1186,544.2 1188,540.4 1190,542.3 1192,537.7 1194,541.6 1196,541.8 1198,547.6 1200,546.9 1202,551.7 1204,550.4 1206,557.8 1208,558.5 1210,563.2 1212,556.3 1214,558.7 1216,553.3 1218,555.8 1220,550.2 1222,557.5 1224,556.2 1226,561.1 1228,556 1230,560.6 1232,559.6 1234,560 1236,553.7 1238,554.3 1240,548.4 1242,553.8 1244,554.5 1246,557.3 1248,552.9 1250,557.6 1252,557.1 1254,561.4 1256,556.6 1258,559.8 1260,555.6 1262,555.4 1264,551.6 1266,554.6 1268,552.6 1270,557 1272,554.4 1274,558.5 1276,554 1278,555.1 1280,552.2 1282,554.1 1284,548.4 1286,549.3 1288,550.6 1290,557.9 1292,550.4 1294,553.1 1296,547.4 1298,548.9 1300,544 1302,549.4 1304,545.9 1306,549.5 1308,548.4 1310,559.5 1312,558.6 1314,562.6 1316,556.9 1318,561 1320,557.9 1322,563.6 1324,557.3 1326,561.4 1328,553.4 1330,554.7 1332,548.9 1334,554.8 1336,553.4 1338,561.7 1340,559 1342,567 1344,562.9 1346,565.1 1348,558.6 1350,565.2 1352,561.3 1354,563.9 1356,557 1358,561.2 1360,557.7" fill="none" stroke="#1f48f2" stroke-width="3.2" stroke-linejoin="round" stroke-linecap="round"/><polygon points="554,422.7 555,424.3 555.6,425.3 556,425 557,424.5 558,423.9 559,423.3 560,422.7 561,422.2 561.3,422 562,423 563,424.4 564,425.8 564.4,426.3 565,428.3 566,431.5 566.9,434.4 567,434.4 568,434.4 569,434.4 570,434.4 571,434.4 571.3,434.4 572,435.2 573,436.5 574,437.7 575,439 576,440.2 576.3,440.6 577,441 578,441.6 579,442.2 580,442.9 581,443.5 581.3,443.6 582,442.9 583,441.9 584,440.8 585,439.8 585.6,439.2 586,439.8 587,441.4 588,442.9 588.8,444.2 589,444.1 590,443.9 591,443.8 592,443.6 592.5,443.5 593,444.6 594,446.9 595,449.2 596,451.4 596.9,453.5 597,453.5 598,454.3 599,455.1 600,455.9 601,457.5 602,459.2 603,460.8 603.1,460.9 604,461.7 605,462.6 606,463.5 607,464.3 607.5,464.8 608,464.9 609,465.3 610,465.6 611,465.9 611.3,466 612,466.5 613,467.3 614,468 615,468.8 615.6,469.2 616,469.6 617,470.6 618,471.6 618.8,472.4 619,472.5 620,473.1 621,473.6 622,474.1 622.5,474.3 623,474.5 624,474.9 625,475.3 626,475.7 627,476.1 627.5,476.3 628,476.3 629,476.3 630,476.3 631,476.3 632,476.4 632.5,476.4 633,476.3 634,476.2 635,476.1 636,476 636.9,475.8 637,475.9 638,477 639,478 640,479 640.6,479.6 641,479.9 642,480.8 643,481.7 644,482.6 645,483.4 646,483.4 647,483.4 648,483.4 648.1,483.4 649,484.5 650,485.6 651,486.8 651.9,487.8 652,487.8 653,487 654,486.2 655,485.4 656,485.6 657,485.9 658,486.2 659,486.5 659.4,486.6 660,486.9 661,487.5 662,488.1 663,488.6 663.8,489.1 664,489.2 665,489.5 666,489.9 667,490.2 667.5,490.4 668,490.8 669,491.5 670,492.2 671,492 672,491.7 673,491.4 674,491.2 674.4,491 675,491.3 676,491.7 677,492.1 677.5,492.3 678,493.6 679,496.4 680,499.2 681,499.3 682,499.3 682.5,499.4 683,498.8 684,497.7 685,496.6 685.6,496 686,496.2 687,496.6 688,497.1 689,497.6 690,498.1 691,496.2 692,494.2 692.5,493.2 693,492.2 694,490.3 694.4,489.6 695,491.2 696,493.8 696.3,494.6 697,495 698,495.5 698.8,495.9 699,496.2 700,497.5 701,498.9 702,500.3 702.5,501 703,501.7 704,503.2 705,504.6 705.6,505.5 706,505.2 707,504.4 708,503.7 708.8,503.1 709,503 710,502.7 710.6,502.5 711,503.3 712,505.3 712.5,506.3 713,505.5 714,504.1 715,502.6 716,503.3 717,504 718,504.7 718.8,505.2 719,505.5 720,506.9 721,508.3 722,509.6 722.5,510.3 723,509.9 724,509.1 725,508.4 726,507.6 726.3,507.3 727,507 728,506.5 729,506 730,505.5 731,506.5 732,507.6 733,508.6 733.1,508.7 734,509.3 735,510 736,510.7 736.9,511.3 737,511.3 738,511.2 739,511.1 740,511 741,510.9 742,510.8 742.5,510.8 743,511.2 744,512.2 745,513.1 746,514 747,514.9 747.5,515.3 748,515.9 749,517 750,518.2 751,519.4 751.9,520.4 752,520.4 753,520.6 754,520.8 755,521 755.6,521.1 756,521.6 757,522.7 758,523.9 759,525.1 759.4,525.6 760,526.1 761,526.9 762,527.7 762.5,528.1 763,527.5 764,526.2 765,525 766,523.7 766.9,522.5 767,522.5 768,521.8 769,521 770,520.3 771,519.6 771.9,519 772,519.1 773,519.9 774,520.8 775,521.7 776,522.6 776.3,522.8 777,523.5 778,524.4 779,525.2 780,526.1 781,526.4 782,526.6 783,526.8 784,527 785,527.3 786,527.5 786.3,527.6 787,528.2 788,529 789,529.9 790,530.8 791,531.7 792,532.5 793,533.4 793.8,534.1 794,533.8 795,532.4 796,530.9 797,529.5 798,528.1 798.1,527.9 799,527 800,526 801,525 801.9,524 802,524.1 803,524.8 804,525.5 805,526.2 806,526.9 806.3,527.1 807,527.6 808,528.4 809,529.2 810,529.9 810.6,530.4 811,530.6 812,531.2 813,531.7 814,532.3 815,532.8 816,533.3 817,533.9 817.5,534.2 818,534 819,533.7 820,533.4 821,533.1 821.3,533 822,531.4 823,529 823.1,528.8 824,528.8 825,528.7 826,528.6 827,528.6 827.5,528.6 828,528.8 829,529.3 830,529.8 831,530.3 832,530.8 832.5,531.1 833,531.5 834,532.2 835,533 836,533.7 837,534.5 837.5,534.8 838,534.7 839,534.3 840,533.9 840.6,533.7 841,533.9 842,534.6 843,535.2 843.8,535.7 844,535.7 845,535.9 846,536.1 847,536.2 848,536.4 848.8,536.6 849,536.4 850,535.7 851,534.9 852,534.2 852.5,533.9 853,534.2 854,534.9 855,535.6 856,536.3 856.3,536.5 857,536.3 858,536.1 859,535.8 860,535.6 860.6,535.4 861,536.5 862,539.2 863,541.8 863.1,542.1 864,542.5 865,543 866,543.5 867,543.9 867.5,544.2 868,544.3 869,544.6 870,544.8 871,545.1 872,545.3 873,545.5 873.8,545.7 874,545.7 875,545.5 876,545.2 877,544.9 877.5,544.8 878,543.9 879,542.2 880,540.4 881,539.9 882,539.4 883,538.8 883.8,538.4 884,538 885,536.4 886,534.7 886.3,534.2 887,534.4 888,534.7 889,535 890,535.3 891,536.3 892,537.3 892.5,537.8 893,537.6 894,537.2 895,536.8 896,536.5 896.9,536.1 897,536.2 898,536.4 899,536.6 900,536.8 900.6,537 901,537.4 902,538.3 903,539.2 904,540.1 905,541 906,540.3 907,539.5 908,538.8 909,538 910,537.2 911,537.6 912,538 913,538.4 914,538.8 915,539.2 916,539.6 916.3,539.7 917,539.4 918,538.9 919,538.4 920,537.9 921,537.4 922,536.9 923,536.4 923.8,536.1 924,536.1 925,536.5 926,536.9 927,537.3 928,537.7 928.8,538 929,538.2 930,539.2 931,540.2 932,541.2 932.5,541.7 933,540.9 934,539.4 935,537.9 936,536.3 936.9,535 937,535 938,535.6 939,536.1 940,536.6 941,537.2 941.9,537.7 942,537.9 943,539.9 944,541.9 945,544 946,546 946.3,546.6 947,546 948,545.1 949,544.2 949.4,543.8 950,544.6 951,545.9 952,547.1 953,548.4 953.8,549.4 954,549.3 955,548.5 956,547.8 956.9,547.1 957,547.3 958,549 959,550.6 960,552.3 961,551.2 962,550.1 963,549.1 963.8,548.2 964,547.9 965,546.3 966,544.7 967,543.1 967.5,542.3 968,543.4 969,545.7 970,547.9 971,546.9 972,545.9 972.5,545.4 973,545.9 974,547 975,548 976,549.1 976.3,549.4 977,549.1 978,548.6 979,548.1 980,547.6 980.6,547.3 981,547.5 982,548 983,548.5 983.1,548.5 984,545.1 985,541.4 986,541.8 987,542.1 988,542.5 989,542.8 990,543.2 991,543.1 992,543 993,542.9 994,542.7 994.4,542.7 995,543.1 996,543.9 997,544.6 998,545.4 998.8,546 999,545.9 1000,545.6 1001,545.3 1002,545 1002.5,544.8 1003,545.3 1004,546.4 1005,547.5 1006,548.6 1006.3,548.9 1007,549.7 1008,550.7 1009,551.8 1010,552.9 1011,553.4 1012,553.9 1013,554.4 1014,554.9 1015,555.4 1015.6,555.7 1016,555.4 1017,554.8 1018,554.1 1019,553.4 1020,552.8 1021,552.1 1021.3,551.9 1022,551.9 1023,551.8 1024,551.8 1025,551.8 1026,551.7 1026.3,551.7 1027,552.9 1028,554.6 1028.8,556 1029,555.9 1030,555.4 1031,554.9 1032,554.4 1032.5,554.2 1033,553.6 1034,552.3 1035,551 1035.6,550.2 1036,550.8 1037,552.3 1038,553.7 1039,555.2 1040,556.7 1041,556.3 1042,555.9 1043,555.5 1043.8,555.2 1044,554.9 1045,553.6 1046,552.2 1046.9,551 1047,551.1 1048,552.2 1049,553.4 1050,554.5 1051,555.7 1051.3,556 1052,557.2 1053,558.9 1054,560.6 1055,562.3 1056,562.5 1057,562.6 1058,562.8 1058.8,562.9 1059,562.9 1060,563.1 1061,563.2 1062,563.3 1063,563.5 1063.1,563.5 1064,562.5 1065,561.4 1066,560.4 1066.9,559.4 1067,559.4 1068,559 1069,558.7 1070,558.4 1070.6,558.2 1071,558.7 1072,559.9 1073,561.1 1074,562.3 1075,563.5 1076,562.9 1077,562.4 1078,561.8 1079,561.3 1080,560.7 1081,561.3 1082,561.9 1083,562.4 1083.8,562.9 1084,562.9 1085,563.1 1086,563.3 1087,563.4 1088,563.6 1089,563.7 1090,563.9 1091,562.4 1092,560.9 1093,559.4 1093.8,558.2 1094,558.2 1095,558.4 1096,558.6 1097,558.8 1097.5,558.9 1098,558.6 1099,558 1100,557.5 1101,556.8 1101.3,556.6 1102,556.9 1103,557.2 1104,557.6 1105,558 1105.6,558.2 1106,557.7 1107,556.4 1108,555.2 1109,553.9 1110,552.6 1111,552.7 1112,552.8 1113,552.9 1114,553 1114.4,553.1 1115,552.5 1116,551.4 1117,550.3 1117.5,549.8 1118,549.5 1119,548.9 1120,548.3 1120.6,547.9 1121,548 1122,548.3 1123,548.5 1123.8,548.7 1124,548.5 1125,547.4 1126,546.2 1127,545.1 1127.5,544.5 1128,544.1 1129,543.1 1130,542.2 1131,541.3 1131.3,541 1132,541.8 1133,542.9 1134,544 1135,545.1 1136,546.2 1136.3,546.5 1137,546.2 1138,545.7 1139,545.3 1140,544.9 1141,545.9 1142,546.9 1143,547.9 1144,548.9 1144.4,549.4 1145,549.7 1146,550.4 1147,551 1148,551.6 1148.8,552.1 1149,551 1150,545.2 1150.6,541.7 1151,541.4 1152,540.8 1153,540.1 1154,539.5 1154.4,539.2 1155,539.7 1156,540.4 1157,541.2 1158,542 1158.8,542.6 1159,542.5 1160,541.9 1161,541.4 1161.9,540.9 1162,540.6 1163,537.5 1163.8,535.1 1164,535.3 1165,536.2 1166,537.2 1167,538.1 1167.5,538.6 1168,538.8 1169,539.2 1170,539.6 1171,542.7 1172,545.8 1172.5,547.4 1173,546.5 1174,544.7 1175,542.9 1176,541 1176.3,540.5 1177,539.5 1178,538.1 1179,536.7 1179.4,536.1 1180,536.7 1181,537.7 1182,538.7 1183,539.7 1183.8,540.5 1184,540.5 1185,540.7 1186,540.9 1187,541.1 1188,541.3 1188.8,541.4 1189,541.2 1190,540.3 1191,539.5 1192,538.6 1193,537.7 1193.1,537.6 1194,538.7 1195,539.9 1196,541 1196.3,541.4 1197,542.8 1198,544.8 1199,546.8 1199.4,547.6 1200,547.9 1201,548.4 1202,549 1203,549.5 1203.8,549.9 1204,550.3 1205,552.4 1206,554.5 1206.3,555.1 1207,556.5 1208,558.4 1209,560.3 1209.4,561.1 1210,559.9 1211,557.9 1211.9,556.1 1212,556 1213,555.3 1214,554.6 1215,553.9 1216,553.3 1217,552.7 1218,552.1 1219,551.5 1220,550.9 1221,552.4 1222,554 1223,555.5 1223.8,556.7 1224,556.8 1225,557.6 1226,558.3 1226.9,558.9 1227,558.7 1228,557.2 1229,555.7 1229.4,555.1 1230,556.4 1231,558.6 1231.9,560.5 1232,560.3 1233,558.7 1234,557.2 1235,555.6 1235.6,554.6 1236,554.1 1237,552.7 1238,551.3 1239,550 1240,548.6 1241,550.3 1242,551.9 1243,553.6 1243.8,554.9 1244,554.8 1245,554.2 1246,553.7 1247,553.1 1248,552.5 1248.8,552.1 1249,552.5 1250,554.2 1251,556 1252,557.7 1252.5,558.6 1253,558.5 1254,558.2 1255,557.9 1256,557.6 1256.9,557.4 1257,557.3 1258,556.5 1259,555.6 1260,554.7 1261,553.9 1261.3,553.6 1262,553.2 1263,552.7 1264,552.2 1265,551.7 1265.6,551.4 1266,551.7 1267,552.4 1268,553.1 1269,553.9 1270,554.6 1271,554.9 1272,555.2 1273,555.6 1274,555.9 1274.7,556.1 1275,555.8 1276,554.8 1277,553.8 1278,552.8 1278.9,551.9 1279,551.8 1280,551.2 1281,550.6 1282,550.1 1283,549.5 1284,548.2 1285,547 1285.9,545.8 1286,546.1 1287,548.1 1288,550.2 1289,552.2 1290,554.3 1290.1,554.5 1291,553.2 1292,551.7 1293,550.2 1293.6,549.3 1294,548.7 1295,547.3 1296,545.9 1297,544.5 1297.2,544.2 1298,544.2 1299,544.3 1300,544.4 1301,544.4 1301.9,544.5 1302,544.5 1303,544.9 1304,545.3 1305,545.8 1306,546.2 1306.6,546.4 1307,547.3 1308,549.6 1309,551.9 1310,554.1 1310.1,554.4 1311,555.9 1312,557.6 1312.5,558.4 1313,558.1 1314,557.4 1315,556.7 1316,556 1317,555.3 1317.2,555.1 1318,555.9 1319,556.9 1320,557.9 1321,558.9 1321.9,559.8 1322,559.7 1323,559 1324,558.2 1325,557.5 1325.5,557.1 1326,556.2 1327,554.5 1328,552.8 1328.4,552.1 1329,551.6 1330,550.8 1331,550 1332,549.2 1333,549.9 1334,550.7 1335,551.4 1335.5,551.8 1336,552.6 1337,554.3 1338,555.9 1338.5,556.8 1339,557.4 1340,558.6 1341,559.9 1342,561.1 1343,562.4 1343.2,562.6 1344,561.9 1345,561 1346,560 1347,559.1 1347.3,558.8 1348,559.2 1349,559.7 1350,560.2 1350.9,560.6 1351,560.6 1352,560.2 1353,559.8 1353.8,559.4 1354,559.1 1355,557.5 1356,556 1356.8,554.7 1357,554.8 1358,555.5 1359,556.1 1359.7,556.5 1360,557.6 1360.8,560.7 1360.8,565.3 1360,562.2 1359.7,561.1 1359,560.7 1358,560 1357,559.4 1356.8,559.3 1356,560.5 1355,562.1 1354,563.7 1353.8,564 1353,564.3 1352,564.7 1351,565.1 1350.9,565.2 1350,564.7 1349,564.2 1348,563.7 1347.3,563.4 1347,563.6 1346,564.6 1345,565.5 1344,566.4 1343.2,567.2 1343,566.9 1342,565.6 1341,564.4 1340,563.1 1339,561.9 1338.5,561.2 1338,560.4 1337,558.7 1336,557.1 1335.5,556.2 1335,555.9 1334,555.1 1333,554.4 1332,553.6 1331,554.4 1330,555.2 1329,556 1328.4,556.5 1328,557.2 1327,558.9 1326,560.7 1325.5,561.5 1325,561.9 1324,562.6 1323,563.4 1322,564.1 1321.9,564.2 1321,563.3 1320,562.3 1319,561.3 1318,560.3 1317.2,559.5 1317,559.6 1316,560.3 1315,560.9 1314,561.6 1313,562.2 1312.5,562.6 1312,561.7 1311,560 1310.1,558.4 1310,558.2 1309,555.9 1308,553.6 1307,551.3 1306.6,550.4 1306,550.1 1305,549.7 1304,549.2 1303,548.8 1302,548.4 1301.9,548.3 1301,548.2 1300,548.1 1299,548 1298,547.9 1297.2,547.8 1297,548.1 1296,549.5 1295,550.9 1294,552.3 1293.6,552.9 1293,553.7 1292,555.2 1291,556.6 1290.1,557.9 1290,557.7 1289,555.6 1288,553.5 1287,551.5 1286,549.4 1285.9,549.2 1285,550.3 1284,551.5 1283,552.7 1282,553.3 1281,553.8 1280,554.3 1279,554.9 1278.9,554.9 1278,555.8 1277,556.8 1276,557.8 1275,558.8 1274.7,559.1 1274,558.8 1273,558.5 1272,558.1 1271,557.8 1270,557.4 1269,556.7 1268,555.9 1267,555.2 1266,554.5 1265.6,554.2 1265,554.5 1264,555 1263,555.5 1262,556 1261.3,556.4 1261,556.7 1260,557.5 1259,558.4 1258,559.2 1257,560.1 1256.9,560.2 1256,560.4 1255,560.7 1254,561 1253,561.3 1252.5,561.4 1252,560.5 1251,558.8 1250,557 1249,555.3 1248.8,554.9 1248,555.3 1247,555.9 1246,556.5 1245,557 1244,557.6 1243.8,557.7 1243,556.4 1242,554.7 1241,553.1 1240,551.4 1239,552.8 1238,554.1 1237,555.5 1236,556.9 1235.6,557.4 1235,558.4 1234,560 1233,561.5 1232,563.1 1231.9,563.3 1231,561.4 1230,559.2 1229.4,557.9 1229,558.5 1228,560 1227,561.5 1226.9,561.7 1226,561.1 1225,560.4 1224,559.6 1223.8,559.5 1223,558.3 1222,556.8 1221,555.2 1220,553.7 1219,554.3 1218,554.9 1217,555.5 1216,556.1 1215,556.7 1214,557.4 1213,558.1 1212,558.8 1211.9,558.9 1211,560.7 1210,562.7 1209.4,563.9 1209,563.1 1208,561.2 1207,559.3 1206.3,557.9 1206,557.3 1205,555.2 1204,553.1 1203.8,552.7 1203,552.3 1202,551.8 1201,551.2 1200,550.7 1199.4,550.4 1199,549.6 1198,547.6 1197,545.6 1196.3,544.2 1196,543.8 1195,542.7 1194,541.5 1193.1,540.4 1193,540.5 1192,541.4 1191,542.3 1190,543.1 1189,544 1188.8,544.2 1188,544.1 1187,543.9 1186,543.7 1185,543.5 1184,543.3 1183.8,543.3 1183,542.5 1182,541.5 1181,540.5 1180,539.5 1179.4,538.9 1179,539.5 1178,540.9 1177,542.3 1176.3,543.3 1176,543.8 1175,545.7 1174,547.5 1173,549.3 1172.5,550.2 1172,548.6 1171,545.5 1170,542.4 1169,542 1168,541.6 1167.5,541.4 1167,540.9 1166,540 1165,539 1164,538.1 1163.8,537.9 1163,540.3 1162,543.4 1161.9,543.7 1161,544.2 1160,544.7 1159,545.3 1158.8,545.4 1158,544.8 1157,544 1156,543.2 1155,542.5 1154.4,542 1154,542.3 1153,542.9 1152,543.6 1151,544.2 1150.6,544.5 1150,548 1149,553.8 1148.8,554.9 1148,554.4 1147,553.8 1146,553.2 1145,552.5 1144.4,552.2 1144,551.7 1143,550.7 1142,549.7 1141,548.7 1140,547.7 1139,548.1 1138,548.5 1137,549 1136.3,549.3 1136,549 1135,547.9 1134,546.8 1133,545.7 1132,544.6 1131.3,543.8 1131,544.1 1130,545 1129,545.9 1128,546.9 1127.5,547.3 1127,547.9 1126,549 1125,550.2 1124,551.3 1123.8,551.5 1123,551.3 1122,551.1 1121,550.8 1120.6,550.7 1120,551.1 1119,551.7 1118,552.3 1117.5,552.6 1117,553.1 1116,554.2 1115,555.3 1114.4,555.9 1114,555.8 1113,555.7 1112,555.6 1111,555.5 1110,555.4 1109,556.7 1108,558 1107,559.2 1106,560.5 1105.6,561 1105,560.8 1104,560.4 1103,560 1102,559.7 1101.3,559.4 1101,559.6 1100,560.3 1099,560.8 1098,561.4 1097.5,561.7 1097,561.6 1096,561.4 1095,561.2 1094,561 1093.8,561 1093,562.2 1092,563.7 1091,565.2 1090,566.7 1089,566.5 1088,566.4 1087,566.2 1086,566.1 1085,565.9 1084,565.7 1083.8,565.7 1083,565.2 1082,564.7 1081,564.1 1080,563.5 1079,564.1 1078,564.6 1077,565.2 1076,565.7 1075,566.3 1074,565.1 1073,563.9 1072,562.7 1071,561.5 1070.6,561 1070,561.2 1069,561.5 1068,561.8 1067,562.2 1066.9,562.2 1066,563.2 1065,564.2 1064,565.3 1063.1,566.3 1063,566.3 1062,566.1 1061,566 1060,565.9 1059,565.7 1058.8,565.7 1058,565.6 1057,565.4 1056,565.3 1055,565.1 1054,563.4 1053,561.7 1052,560 1051.3,558.8 1051,558.5 1050,557.3 1049,556.2 1048,555 1047,553.9 1046.9,553.8 1046,555 1045,556.4 1044,557.7 1043.8,558 1043,558.3 1042,558.7 1041,559.1 1040,559.5 1039,558 1038,556.5 1037,555.1 1036,553.6 1035.6,553 1035,553.8 1034,555.1 1033,556.4 1032.5,557 1032,557.2 1031,557.7 1030,558.2 1029,558.7 1028.8,558.8 1028,557.4 1027,555.7 1026.3,554.5 1026,554.5 1025,554.6 1024,554.6 1023,554.6 1022,554.7 1021.3,554.7 1021,554.9 1020,555.6 1019,556.2 1018,556.9 1017,557.6 1016,558.2 1015.6,558.5 1015,558.2 1014,557.7 1013,557.2 1012,556.7 1011,556.2 1010,555.7 1009,554.6 1008,553.5 1007,552.5 1006.3,551.7 1006,551.4 1005,550.3 1004,549.2 1003,548.1 1002.5,547.6 1002,547.8 1001,548.1 1000,548.4 999,548.7 998.8,548.8 998,548.2 997,547.4 996,546.7 995,545.9 994.4,545.5 994,545.5 993,545.7 992,545.8 991,545.9 990,546 989,545.6 988,545.3 987,544.9 986,544.6 985,544.2 984,547.9 983.1,551.3 983,551.3 982,550.8 981,550.3 980.6,550.1 980,550.4 979,550.9 978,551.4 977,551.9 976.3,552.2 976,551.9 975,550.8 974,549.8 973,548.7 972.5,548.2 972,548.7 971,549.7 970,550.7 969,548.5 968,546.2 967.5,545.1 967,545.9 966,547.5 965,549.1 964,550.7 963.8,551 963,551.9 962,552.9 961,554 960,555.1 959,553.4 958,551.8 957,550.1 956.9,549.9 956,550.6 955,551.4 954,552.1 953.8,552.3 953,551.2 952,550 951,548.7 950,547.4 949.4,546.7 949,547 948,547.9 947,548.8 946.3,549.5 946,548.9 945,546.8 944,544.8 943,542.7 942,540.7 941.9,540.5 941,540 940,539.5 939,538.9 938,538.4 937,537.9 936.9,537.8 936,539.2 935,540.7 934,542.3 933,543.8 932.5,544.6 932,544 931,543 930,542 929,541 928.8,540.8 928,540.5 927,540.2 926,539.8 925,539.4 924,539 923.8,538.9 923,539.3 922,539.8 921,540.3 920,540.8 919,541.3 918,541.8 917,542.3 916.3,542.7 916,542.5 915,542.1 914,541.7 913,541.3 912,541 911,540.6 910,540.2 909,540.9 908,541.7 907,542.4 906,543.2 905,544 904,543.1 903,542.1 902,541.2 901,540.3 900.6,539.9 900,539.8 899,539.6 898,539.3 897,539.1 896.9,539.1 896,539.4 895,539.8 894,540.2 893,540.6 892.5,540.8 892,540.3 891,539.3 890,538.3 889,538 888,537.7 887,537.4 886.3,537.1 886,537.6 885,539.3 884,541 883.8,541.4 883,541.8 882,542.4 881,542.9 880,543.4 879,545.2 878,546.9 877.5,547.8 877,547.9 876,548.2 875,548.5 874,548.7 873.8,548.8 873,548.6 872,548.3 871,548.1 870,547.8 869,547.6 868,547.3 867.5,547.2 867,547 866,546.5 865,546 864,545.6 863.1,545.1 863,544.9 862,542.2 861,539.5 860.6,538.4 860,538.6 859,538.9 858,539.1 857,539.4 856.3,539.6 856,539.4 855,538.7 854,538 853,537.3 852.5,536.9 852,537.3 851,538 850,538.7 849,539.5 848.8,539.6 848,539.5 847,539.3 846,539.2 845,539 844,538.8 843.8,538.8 843,538.3 842,537.7 841,537 840.6,536.8 840,537 839,537.4 838,537.8 837.5,538 837,537.6 836,536.8 835,536.1 834,535.3 833,534.6 832.5,534.2 832,534 831,533.5 830,533 829,532.4 828,531.9 827.5,531.7 827,531.7 826,531.8 825,531.8 824,531.9 823.1,532 823,532.2 822,534.5 821.3,536.1 821,536.2 820,536.5 819,536.9 818,537.2 817.5,537.3 817,537 816,536.5 815,536 814,535.4 813,534.9 812,534.3 811,533.8 810.6,533.6 810,533.1 809,532.3 808,531.6 807,530.8 806.3,530.2 806,530 805,529.3 804,528.7 803,528 802,527.3 801.9,527.2 801,528.2 800,529.2 799,530.2 798.1,531.1 798,531.3 797,532.7 796,534.1 795,535.5 794,537 793.8,537.2 793,536.5 792,535.7 791,534.8 790,533.9 789,533 788,532.1 787,531.3 786.3,530.6 786,530.6 785,530.3 784,530.1 783,529.9 782,529.6 781,529.4 780,529.2 779,528.3 778,527.4 777,526.5 776.3,525.8 776,525.6 775,524.7 774,523.8 773,522.9 772,522 771.9,522 771,522.6 770,523.3 769,524 768,524.7 767,525.4 766.9,525.5 766,526.6 765,527.9 764,529.2 763,530.4 762.5,531 762,530.6 761,529.8 760,529 759.4,528.5 759,528 758,526.8 757,525.6 756,524.4 755.6,523.9 755,523.8 754,523.6 753,523.4 752,523.2 751.9,523.2 751,522.2 750,521 749,519.8 748,518.7 747.5,518.1 747,517.6 746,516.7 745,515.8 744,514.9 743,514 742.5,513.5 742,513.6 741,513.7 740,513.7 739,513.8 738,513.9 737,514 736.9,514 736,513.3 735,512.7 734,512 733.1,511.3 733,511.2 732,510.2 731,509.2 730,508.2 729,508.6 728,509.1 727,509.6 726.3,509.9 726,510.2 725,511 724,511.7 723,512.5 722.5,512.9 722,512.2 721,510.8 720,509.4 719,508.1 718.8,507.8 718,507.2 717,506.5 716,505.8 715,505.1 714,506.6 713,508 712.5,508.8 712,507.8 711,505.8 710.6,505 710,505.2 709,505.5 708.8,505.5 708,506.1 707,506.9 706,507.6 705.6,507.9 705,507 704,505.6 703,504.1 702.5,503.4 702,502.7 701,501.3 700,499.9 699,498.5 698.8,498.3 698,497.9 697,497.3 696.3,497 696,496.2 695,493.5 694.4,491.9 694,492.7 693,494.6 692.5,495.6 692,496.5 691,498.5 690,500.5 689,500 688,499.5 687,499 686,498.5 685.6,498.3 685,498.9 684,500 683,501.1 682.5,501.7 682,501.6 681,501.5 680,501.4 679,498.7 678,495.9 677.5,494.5 677,494.3 676,493.9 675,493.5 674.4,493.3 674,493.4 673,493.6 672,493.9 671,494.2 670,494.4 669,493.7 668,493 667.5,492.6 667,492.4 666,492.1 665,491.7 664,491.3 663.8,491.3 663,490.8 662,490.2 661,489.6 660,489.1 659.4,488.7 659,488.6 658,488.3 657,488 656,487.7 655,487.5 654,488.3 653,489.1 652,489.8 651.9,489.9 651,488.9 650,487.7 649,486.5 648.1,485.5 648,485.5 647,485.5 646,485.5 645,485.5 644,484.6 643,483.7 642,482.8 641,482 640.6,481.6 640,481 639,480 638,479 637,477.9 636.9,477.8 636,477.9 635,478 634,478.2 633,478.3 632.5,478.3 632,478.3 631,478.3 630,478.3 629,478.2 628,478.2 627.5,478.2 627,478 626,477.6 625,477.2 624,476.8 623,476.4 622.5,476.2 622,475.9 621,475.4 620,474.9 619,474.4 618.8,474.3 618,473.5 617,472.5 616,471.4 615.6,471 615,470.6 614,469.8 613,469.1 612,468.4 611.3,467.8 611,467.7 610,467.4 609,467 608,466.7 607.5,466.5 607,466.1 606,465.2 605,464.3 604,463.4 603.1,462.6 603,462.4 602,460.8 601,459.1 600,457.5 599,456.7 598,455.8 597,455 596.9,454.9 596,452.9 595,450.6 594,448.3 593,446 592.5,444.9 592,445 591,445.1 590,445.3 589,445.4 588.8,445.4 588,444.2 587,442.6 586,441 585.6,440.4 585,441 584,442 583,443 582,444 581.3,444.8 581,444.6 580,443.9 579,443.3 578,442.7 577,442 576.3,441.6 576,441.2 575,439.9 574,438.7 573,437.4 572,436.1 571.3,435.2 571,435.2 570,435.2 569,435.2 568,435.2 567,435.2 566.9,435.2 566,432.3 565,429 564.4,427.1 564,426.5 563,425 562,423.6 561.3,422.6 561,422.8 560,423.3 559,423.9 558,424.4 557,425 556,425.5 555.6,425.7 555,424.8 554,423.1" fill="#1f48f2"/><polyline points="374,58.4 376,70.9 378,80.9 380,86.7 382,95.7 384,101.4 386,110.7 388,116.6 390,124.1 392,127.8 394,136.5 396,141.8 398,150.5 400,153.6 402,161.6 404,167 406,175 408,178.3 410,185.7 412,188.6 414,196.2 416,199.6 418,207.8 420,210.1 422,216.8 424,219.1 426,227.5 428,230.9 430,236.6 432,236.7 434,244.8 436,247.1 438,253 440,255.4 442,261.8 444,265.4 446,269.6 448,270.3 450,280.8 452,284.9 454,287.8 456,288.2 458,296.1 460,300.6 462,306.5 464,310.4 466,314.4 468,313.7 470,316.8 472,317.4 474,322.6 476,327.5 478,331.7 480,331.1 482,334.9 484,336.5 486,344 488,344.7 490,348 492,352.3 494,359.1 496,360.7 498,366.3 500,368.4 502,372 504,370.1 506,374.7 508,374.6 510,379.2 512,380.7 514,384.3 516,384 518,389.3 520,389.7 522,391.9 524,389.9 526,394.1 528,395.5 530,401 532,402.8 534,407.1 536,407.1 538,413.4 540,415.1 542,418.2 544,416.8 546,419.6 548,417.7 550,420 552,419.8 554,424.9 556,424.6 558,425.7 560,422.4" fill="none" stroke="#32e646" stroke-width="4" stroke-linejoin="round"/><polyline points="560,422.4 562,425 564,426.2 566,434.3 568,433.7 570,436.4 572,435.1 574,440.4 576,440.2 578,443.4 580,443.1 582,445.4 584,441.5 586,442.2 588,443.6 590,447 592,444.1 594,449.2 596,452.6 598,456.2 600,455.5 602,462.3 604,461.8 606,466 608,465.4 610,468.6 612,467.1 614,470.8 616,470.3 618,474.9 620,473.8 622,476.3 624,475.3 626,477.4 628,475.5 630,478.4 632,476.1 634,477.9 636,475.1 638,479.7 640,478 642,482.7 644,482.8 646,484.7 648,483 650,487.9 652,487.1 654,489.3 656,485.6 658,488.9 660,486.7 662,490.1 664,489.1 666,493 668,490.1 670,494.2 672,491.6 674,494.2 676,491.5 678,496.1 680,499.7 682,501.6 684,496.3 686,497.1 688,495.4 690,499.9 692,492.6 694,491.7 696,492.3 698,497.1 700,496.4 702,502.1 704,501.1 706,506.4 708,502.2 710,503.5 712,504.7 714,505.8 716,501.7 718,506.5 720,505 722,510.3 724,506.1 726,509.3 728,505.1 730,506.1 732,506.4 734,510.3 736,508.8 738,511.5 740,508.2 742,512.6 744,509.7 746,514.8 748,513 750,518.9 752,517.9 754,521.4 756,518.9 758,525.3 760,523.7 762,528 764,524.8 766,524.7 768,519.1 770,519.9 772,516.2 774,522.4 776,518.7 778,525.1 780,522.6 782,527.4 784,524.1 786,528 788,525.5 790,530.3 792,529.5 794,533.2 796,526.6 798,528.8 800,522.6 802,523.7 804,522.8 806,527.4 808,525 810,531.1 812,527.1 814,531.5 816,529.7 818,533 820,529.9 822,532.2 824,525.3 826,528.9 828,524.4 830,529.8 832,526.7 834,530.9 836,530 838,533.8 840,529.5 842,534.4 844,532 846,535.9 848,534 850,535.4 852,529.6 854,534.5 856,532.5 858,534.9 860,531.1 862,537.6 864,537.4 866,542.1 868,539.5 870,543.9 872,540.6 874,545.2 876,540.1 878,542.1 880,535.5 882,538.9 884,534.5 886,534.5 888,530.2 890,534 892,533.1 894,536.8 896,532.6 898,535.5 900,532.4 902,538 904,535.2 906,539.3 908,535.1 910,536.3 912,534.6 914,538.5 916,535.1 918,537.3 920,534.9 922,535 924,532.3 926,535.5 928,534 930,538.6 932,536.5 934,538.3 936,531.5 938,533.7 940,531.9 942,537.5 944,536.9 946,545.6 948,541.1 950,544 952,542.3 954,546.9 956,543.3 958,546.8 960,547.2 962,547.3 964,542.5 966,541.7 968,538.6 970,546.1 972,540.8 974,545.6 976,543.8 978,546.6 980,542.8 982,546 984,539.8 986,539.4 988,536.7 990,542.1 992,538.3 994,540.8 996,538.9 998,543.1 1000,539.9 1002,544 1004,541.8 1006,545.7 1008,545.3 1010,550.3 1012,549.5 1014,553.2 1016,551 1018,552.3 1020,548 1022,549.7 1024,547.7 1026,550.3 1028,549.6 1030,554.5 1032,549.8 1034,551.1 1036,546.6 1038,552.5 1040,552.1 1042,554.8 1044,550 1046,551.5 1048,547.9 1050,553.5 1052,552.2 1054,558.8 1056,557.7 1058,561.5 1060,558 1062,561.5 1064,557.9 1066,559.2 1068,553.9 1070,556.9 1072,554.8 1074,560.1 1076,558.5 1078,559.8 1080,556.3 1082,559.6 1084,558.6 1086,561.5 1088,558.5 1090,561.5 1092,555.5 1094,557.7 1096,552.9 1098,556.2 1100,552.9 1102,554.8 1104,552.9 1106,555.7 1108,550 1110,551.5 1112,549 1114,551.3 1116,547 1118,548.9 1120,544.1 1122,548.7 1124,544.9 1126,545.8 1128,539.9 1130,541.8 1132,538.3 1134,544 1136,542.9 1138,546.1 1140,542 1142,547.9 1144,546.3 1146,550.6 1148,547.7 1150,545.6 1152,537.8 1154,539.7 1156,538 1158,542.7 1160,539.2 1162,540.8 1164,532.6 1166,538.3 1168,535.2 1170,540.3 1172,542.8 1174,544.1 1176,538.3 1178,538.3 1180,534.6 1182,538.4 1184,538.1 1186,541.4 1188,537.3 1190,539 1192,534.5 1194,538.9 1196,538.8 1198,544.3 1200,544.4 1202,548.8 1204,547.7 1206,554.9 1208,555.7 1210,560.1 1212,553.3 1214,555.5 1216,550.6 1218,552.8 1220,547.2 1222,554.6 1224,553 1226,558.5 1228,553.1 1230,557.4 1232,556.6 1234,557.2 1236,550.8 1238,550.9 1240,545.1 1242,551.2 1244,551.1 1246,554.1 1248,550.2 1250,554.6 1252,554.1 1254,558.2 1256,553.5 1258,557.1 1260,552.5 1262,552.1 1264,548.9 1266,552 1268,549.7 1270,553.7 1272,551.2 1274,555.5 1276,551.1 1278,552 1280,549.1 1282,551.1 1284,545.3 1286,545.9 1288,547.8 1290,554.8 1292,547.7 1294,549.7 1296,544 1298,545.7 1300,541.3 1302,546.7 1304,542.8 1306,546.3 1308,545.4 1310,556.3 1312,555.5 1314,560 1316,553.8 1318,557.7 1320,554.6 1322,560.4 1324,554.5 1326,558.1 1328,550.3 1330,551.7 1332,545.8 1334,551.7 1336,550.4 1338,558.6 1340,555.7 1342,563.4 1344,559.5 1346,562.2 1348,555.9 1350,562.3 1352,558.2 1354,561 1356,554.3 1358,558.2 1360,554.8" fill="none" stroke="#32e646" stroke-width="3.2" stroke-linejoin="round" stroke-linecap="round"/><polygon points="554,423.5 555,425.1 555.6,426.1 556,425.8 557,425.3 558,424.7 559,424.1 560,423.5 561,423 561.3,422.8 562,423.8 563,425.2 564,426.6 564.4,427.1 565,429.1 566,432.3 566.9,435.2 567,435.2 568,435.2 569,435.2 570,435.2 571,435.2 571.3,435.2 572,436 573,437.3 574,438.5 575,439.8 576,441 576.3,441.4 577,441.8 578,442.4 579,443 580,443.7 581,444.3 581.3,444.4 582,443.7 583,442.7 584,441.6 585,440.6 585.6,440 586,440.6 587,442.2 588,443.7 588.8,445 589,444.9 590,444.7 591,444.6 592,444.4 592.5,444.3 593,445.4 594,447.7 595,450 596,452.2 596.9,454.3 597,454.3 598,455.1 599,455.9 600,456.7 601,458.3 602,459.9 603,461.5 603.1,461.7 604,462.4 605,463.3 606,464.2 607,465 607.5,465.4 608,465.6 609,465.9 610,466.2 611,466.5 611.3,466.6 612,467.1 613,467.8 614,468.5 615,469.3 615.6,469.7 616,470.1 617,471.1 618,472.1 618.8,472.9 619,473 620,473.5 621,473.9 622,474.4 622.5,474.7 623,474.8 624,475.2 625,475.6 626,476 627,476.4 627.5,476.5 628,476.5 629,476.5 630,476.5 631,476.5 632,476.5 632.5,476.5 633,476.5 634,476.3 635,476.2 636,476 636.9,475.9 637,476 638,477 639,478 640,479 640.6,479.6 641,479.9 642,480.8 643,481.7 644,482.5 645,483.4 646,483.4 647,483.4 648,483.4 648.1,483.4 649,484.4 650,485.6 651,486.7 651.9,487.8 652,487.7 653,486.9 654,486.1 655,485.2 656,485.5 657,485.8 658,486.1 659,486.3 659.4,486.4 660,486.8 661,487.3 662,487.9 663,488.5 663.8,489 664,489 665,489.4 666,489.7 667,490.1 667.5,490.3 668,490.6 669,491.4 670,492.1 671,491.8 672,491.6 673,491.3 674,491 674.4,490.9 675,491.2 676,491.5 677,491.9 677.5,492.1 678,493.5 679,496.3 680,499.1 681,499.1 682,499.1 682.5,499.1 683,498.5 684,497.3 685,496.1 685.6,495.4 686,495.6 687,496 688,496.4 689,496.8 690,497.2 691,495.2 692,493.2 692.5,492.2 693,491.3 694,489.3 694.4,488.5 695,490.1 696,492.8 696.3,493.5 697,493.9 698,494.4 698.8,494.8 699,495 700,496.4 701,497.7 702,499.1 702.5,499.8 703,500.5 704,501.9 705,503.3 705.6,504.2 706,503.9 707,503.1 708,502.3 708.8,501.7 709,501.7 710,501.3 710.6,501.1 711,501.9 712,503.9 712.5,504.8 713,504.1 714,502.6 715,501.2 716,501.8 717,502.5 718,503.1 718.8,503.7 719,503.9 720,505.3 721,506.7 722,508 722.5,508.7 723,508.3 724,507.5 725,506.7 726,505.9 726.3,505.6 727,505.3 728,504.7 729,504.2 730,503.7 731,504.7 732,505.7 733,506.7 733.1,506.8 734,507.4 735,508.1 736,508.8 736.9,509.4 737,509.4 738,509.3 739,509.2 740,509.1 741,508.9 742,508.8 742.5,508.8 743,509.2 744,510.1 745,511 746,511.9 747,512.8 747.5,513.2 748,513.8 749,514.9 750,516.1 751,517.2 751.9,518.2 752,518.3 753,518.4 754,518.6 755,518.8 755.6,518.9 756,519.3 757,520.5 758,521.7 759,522.8 759.4,523.3 760,523.8 761,524.6 762,525.4 762.5,525.8 763,525.2 764,523.9 765,522.6 766,521.3 766.9,520.1 767,520.1 768,519.3 769,518.6 770,517.8 771,517.1 771.9,516.5 772,516.5 773,517.4 774,518.2 775,519.1 776,519.9 776.3,520.2 777,520.8 778,521.7 779,522.5 780,523.4 781,523.6 782,523.8 783,524 784,524.2 785,524.4 786,524.6 786.3,524.6 787,525.2 788,526.1 789,526.9 790,527.8 791,528.6 792,529.4 793,530.3 793.8,531 794,530.7 795,529.2 796,527.8 797,526.3 798,524.8 798.1,524.7 799,523.7 800,522.7 801,521.7 801.9,520.7 802,520.8 803,521.5 804,522.1 805,522.8 806,523.5 806.3,523.7 807,524.3 808,525 809,525.8 810,526.6 810.6,527 811,527.3 812,527.8 813,528.3 814,528.9 815,529.4 816,530 817,530.5 817.5,530.8 818,530.6 819,530.3 820,530 821,529.7 821.3,529.6 822,528 823,525.6 823.1,525.4 824,525.3 825,525.3 826,525.2 827,525.2 827.5,525.1 828,525.4 829,525.9 830,526.4 831,526.9 832,527.4 832.5,527.6 833,528 834,528.8 835,529.5 836,530.2 837,531 837.5,531.4 838,531.2 839,530.8 840,530.4 840.6,530.2 841,530.4 842,531.1 843,531.7 843.8,532.2 844,532.2 845,532.4 846,532.6 847,532.7 848,532.9 848.8,533 849,532.9 850,532.1 851,531.4 852,530.6 852.5,530.2 853,530.6 854,531.2 855,531.9 856,532.5 856.3,532.7 857,532.5 858,532.2 859,531.9 860,531.6 860.6,531.5 861,532.5 862,535.2 863,537.8 863.1,538.1 864,538.5 865,538.9 866,539.3 867,539.8 867.5,540 868,540.1 869,540.3 870,540.5 871,540.7 872,540.9 873,541.2 873.8,541.3 874,541.3 875,541 876,540.7 877,540.5 877.5,540.3 878,539.5 879,537.8 880,536 881,535.5 882,535 883,534.5 883.8,534.1 884,533.7 885,532.1 886,530.4 886.3,529.9 887,530.1 888,530.4 889,530.8 890,531.1 891,532.1 892,533.1 892.5,533.6 893,533.4 894,533.1 895,532.7 896,532.3 896.9,532 897,532 898,532.3 899,532.5 900,532.8 900.6,532.9 901,533.3 902,534.3 903,535.2 904,536.1 905,537.1 906,536.3 907,535.5 908,534.8 909,534 910,533.3 911,533.7 912,534.1 913,534.5 914,534.9 915,535.3 916,535.7 916.3,535.8 917,535.5 918,535 919,534.5 920,534 921,533.5 922,533 923,532.5 923.8,532.1 924,532.2 925,532.6 926,533 927,533.4 928,533.8 928.8,534.1 929,534.3 930,535.3 931,536.3 932,537.3 932.5,537.8 933,537 934,535.4 935,533.9 936,532.3 936.9,530.9 937,530.9 938,531.5 939,532 940,532.5 941,533 941.9,533.4 942,533.6 943,535.6 944,537.6 945,539.6 946,541.6 946.3,542.2 947,541.6 948,540.7 949,539.7 949.4,539.4 950,540.1 951,541.3 952,542.6 953,543.8 953.8,544.8 954,544.6 955,543.8 956,543 956.9,542.3 957,542.4 958,544.1 959,545.7 960,547.3 961,546.2 962,545.2 963,544.1 963.8,543.2 964,542.9 965,541.3 966,539.7 967,538.1 967.5,537.4 968,538.5 969,540.7 970,543 971,542 972,541 972.5,540.5 973,541 974,542.1 975,543.1 976,544.2 976.3,544.5 977,544.2 978,543.7 979,543.2 980,542.7 980.6,542.5 981,542.6 982,543.1 983,543.6 983.1,543.7 984,540.3 985,536.6 986,537 987,537.3 988,537.7 989,538.1 990,538.4 991,538.3 992,538.2 993,538.1 994,538 994.4,538 995,538.4 996,539.2 997,539.9 998,540.7 998.8,541.3 999,541.2 1000,540.9 1001,540.6 1002,540.3 1002.5,540.1 1003,540.6 1004,541.7 1005,542.8 1006,543.9 1006.3,544.2 1007,545 1008,546 1009,547.1 1010,548.2 1011,548.7 1012,549.2 1013,549.7 1014,550.2 1015,550.7 1015.6,551 1016,550.7 1017,550.1 1018,549.4 1019,548.7 1020,548.1 1021,547.4 1021.3,547.2 1022,547.2 1023,547.1 1024,547.1 1025,547 1026,547 1026.3,547 1027,548.2 1028,549.9 1028.8,551.3 1029,551.2 1030,550.7 1031,550.2 1032,549.7 1032.5,549.5 1033,548.8 1034,547.6 1035,546.3 1035.6,545.5 1036,546.1 1037,547.6 1038,549 1039,550.5 1040,552 1041,551.6 1042,551.2 1043,550.8 1043.8,550.5 1044,550.2 1045,548.9 1046,547.5 1046.9,546.3 1047,546.4 1048,547.5 1049,548.7 1050,549.8 1051,550.9 1051.3,551.3 1052,552.5 1053,554.2 1054,555.9 1055,557.6 1056,557.7 1057,557.9 1058,558.1 1058.8,558.2 1059,558.2 1060,558.4 1061,558.5 1062,558.6 1063,558.8 1063.1,558.8 1064,557.8 1065,556.7 1066,555.7 1066.9,554.7 1067,554.6 1068,554.3 1069,554 1070,553.7 1070.6,553.5 1071,554 1072,555.2 1073,556.4 1074,557.6 1075,558.8 1076,558.2 1077,557.7 1078,557.1 1079,556.5 1080,556 1081,556.6 1082,557.1 1083,557.7 1083.8,558.2 1084,558.2 1085,558.4 1086,558.5 1087,558.7 1088,558.9 1089,559 1090,559.2 1091,557.7 1092,556.2 1093,554.7 1093.8,553.5 1094,553.5 1095,553.7 1096,553.9 1097,554.1 1097.5,554.2 1098,553.9 1099,553.3 1100,552.7 1101,552.1 1101.3,552 1102,552.3 1103,552.7 1104,553.1 1105,553.5 1105.6,553.8 1106,553.3 1107,552.1 1108,550.9 1109,549.7 1110,548.5 1111,548.6 1112,548.8 1113,548.9 1114,549.1 1114.4,549.2 1115,548.5 1116,547.5 1117,546.5 1117.5,546 1118,545.7 1119,545.1 1120,544.5 1120.6,544.2 1121,544.3 1122,544.6 1123,544.8 1123.8,545.1 1124,544.8 1125,543.7 1126,542.6 1127,541.5 1127.5,541 1128,540.5 1129,539.6 1130,538.7 1131,537.8 1131.3,537.6 1132,538.3 1133,539.5 1134,540.6 1135,541.7 1136,542.8 1136.3,543.2 1137,542.9 1138,542.5 1139,542.1 1140,541.7 1141,542.7 1142,543.8 1143,544.8 1144,545.8 1144.4,546.3 1145,546.7 1146,547.3 1147,548 1148,548.6 1148.8,549.2 1149,548 1150,542.2 1150.6,538.8 1151,538.5 1152,537.8 1153,537.2 1154,536.5 1154.4,536.3 1155,536.7 1156,537.5 1157,538.3 1158,539 1158.8,539.7 1159,539.5 1160,539 1161,538.4 1161.9,538 1162,537.6 1163,534.6 1163.8,532.2 1164,532.3 1165,533.3 1166,534.2 1167,535.2 1167.5,535.7 1168,535.9 1169,536.3 1170,536.7 1171,539.8 1172,542.9 1172.5,544.5 1173,543.5 1174,541.7 1175,539.9 1176,538.1 1176.3,537.6 1177,536.6 1178,535.1 1179,533.7 1179.4,533.2 1180,533.8 1181,534.7 1182,535.7 1183,536.7 1183.8,537.5 1184,537.6 1185,537.8 1186,537.9 1187,538.1 1188,538.3 1188.8,538.4 1189,538.3 1190,537.4 1191,536.5 1192,535.6 1193,534.7 1193.1,534.6 1194,535.7 1195,536.9 1196,538.1 1196.3,538.4 1197,539.8 1198,541.8 1199,543.8 1199.4,544.6 1200,545 1201,545.5 1202,546 1203,546.5 1203.8,546.9 1204,547.4 1205,549.4 1206,551.5 1206.3,552.1 1207,553.5 1208,555.4 1209,557.4 1209.4,558.1 1210,556.9 1211,554.9 1211.9,553.1 1212,553.1 1213,552.4 1214,551.7 1215,550.9 1216,550.3 1217,549.7 1218,549.1 1219,548.5 1220,547.9 1221,549.5 1222,551 1223,552.5 1223.8,553.7 1224,553.9 1225,554.6 1226,555.3 1226.9,555.9 1227,555.8 1228,554.3 1229,552.7 1229.4,552.1 1230,553.4 1231,555.6 1231.9,557.5 1232,557.4 1233,555.8 1234,554.2 1235,552.6 1235.6,551.6 1236,551.1 1237,549.7 1238,548.4 1239,547 1240,545.6 1241,547.3 1242,548.9 1243,550.6 1243.8,551.9 1244,551.8 1245,551.3 1246,550.7 1247,550.1 1248,549.6 1248.8,549.1 1249,549.5 1250,551.2 1251,553 1252,554.8 1252.5,555.6 1253,555.5 1254,555.2 1255,554.9 1256,554.7 1256.9,554.4 1257,554.3 1258,553.5 1259,552.6 1260,551.8 1261,550.9 1261.3,550.6 1262,550.3 1263,549.8 1264,549.2 1265,548.7 1265.6,548.4 1266,548.7 1267,549.4 1268,550.2 1269,550.9 1270,551.6 1271,551.9 1272,552.3 1273,552.6 1274,552.9 1274.7,553.1 1275,552.8 1276,551.8 1277,550.8 1278,549.8 1278.9,548.9 1279,548.8 1280,548.2 1281,547.7 1282,547.1 1283,546.5 1284,545.3 1285,544 1285.9,542.9 1286,543.1 1287,545.1 1288,547.2 1289,549.2 1290,551.3 1290.1,551.5 1291,550.2 1292,548.7 1293,547.2 1293.6,546.3 1294,545.8 1295,544.3 1296,542.9 1297,541.5 1297.2,541.2 1298,541.2 1299,541.3 1300,541.4 1301,541.4 1301.9,541.5 1302,541.5 1303,542 1304,542.4 1305,542.8 1306,543.2 1306.6,543.4 1307,544.3 1308,546.6 1309,548.9 1310,551.1 1310.1,551.4 1311,552.9 1312,554.6 1312.5,555.4 1313,555.1 1314,554.4 1315,553.7 1316,553 1317,552.3 1317.2,552.2 1318,552.9 1319,553.9 1320,554.9 1321,555.9 1321.9,556.8 1322,556.7 1323,556 1324,555.2 1325,554.5 1325.5,554.1 1326,553.2 1327,551.5 1328,549.8 1328.4,549.1 1329,548.6 1330,547.8 1331,547 1332,546.2 1333,546.9 1334,547.7 1335,548.4 1335.5,548.8 1336,549.6 1337,551.3 1338,552.9 1338.5,553.8 1339,554.4 1340,555.6 1341,556.9 1342,558.1 1343,559.4 1343.2,559.6 1344,558.9 1345,558 1346,557 1347,556.1 1347.3,555.8 1348,556.2 1349,556.7 1350,557.2 1350.9,557.6 1351,557.6 1352,557.2 1353,556.8 1353.8,556.4 1354,556.1 1355,554.5 1356,553 1356.8,551.7 1357,551.8 1358,552.5 1359,553.1 1359.7,553.5 1360,554.6 1360.8,557.7 1360.8,562.3 1360,559.2 1359.7,558.1 1359,557.7 1358,557 1357,556.4 1356.8,556.3 1356,557.5 1355,559.1 1354,560.7 1353.8,561 1353,561.3 1352,561.7 1351,562.1 1350.9,562.2 1350,561.7 1349,561.2 1348,560.7 1347.3,560.4 1347,560.6 1346,561.6 1345,562.5 1344,563.4 1343.2,564.2 1343,563.9 1342,562.7 1341,561.4 1340,560.1 1339,558.9 1338.5,558.3 1338,557.4 1337,555.7 1336,554.1 1335.5,553.2 1335,552.9 1334,552.1 1333,551.4 1332,550.6 1331,551.4 1330,552.2 1329,553 1328.4,553.5 1328,554.2 1327,555.9 1326,557.7 1325.5,558.5 1325,558.9 1324,559.6 1323,560.4 1322,561.1 1321.9,561.2 1321,560.3 1320,559.3 1319,558.3 1318,557.3 1317.2,556.5 1317,556.6 1316,557.3 1315,557.9 1314,558.6 1313,559.3 1312.5,559.6 1312,558.7 1311,557 1310.1,555.5 1310,555.2 1309,552.9 1308,550.6 1307,548.3 1306.6,547.4 1306,547.1 1305,546.7 1304,546.3 1303,545.8 1302,545.4 1301.9,545.3 1301,545.2 1300,545.1 1299,545 1298,544.9 1297.2,544.9 1297,545.1 1296,546.5 1295,547.9 1294,549.3 1293.6,549.9 1293,550.8 1292,552.2 1291,553.6 1290.1,554.9 1290,554.7 1289,552.6 1288,550.6 1287,548.5 1286,546.4 1285.9,546.2 1285,547.3 1284,548.5 1283,549.7 1282,550.3 1281,550.8 1280,551.4 1279,551.9 1278.9,552 1278,552.9 1277,553.8 1276,554.8 1275,555.8 1274.7,556.1 1274,555.8 1273,555.5 1272,555.1 1271,554.8 1270,554.4 1269,553.7 1268,553 1267,552.2 1266,551.5 1265.6,551.2 1265,551.5 1264,552 1263,552.6 1262,553.1 1261.3,553.4 1261,553.7 1260,554.6 1259,555.4 1258,556.3 1257,557.1 1256.9,557.2 1256,557.5 1255,557.7 1254,558 1253,558.3 1252.5,558.4 1252,557.6 1251,555.8 1250,554 1249,552.3 1248.8,551.9 1248,552.4 1247,552.9 1246,553.5 1245,554.1 1244,554.6 1243.8,554.7 1243,553.4 1242,551.7 1241,550.1 1240,548.4 1239,549.8 1238,551.2 1237,552.5 1236,553.9 1235.6,554.4 1235,555.4 1234,557 1233,558.6 1232,560.2 1231.9,560.3 1231,558.4 1230,556.2 1229.4,554.9 1229,555.5 1228,557.1 1227,558.6 1226.9,558.7 1226,558.1 1225,557.4 1224,556.7 1223.8,556.5 1223,555.3 1222,553.8 1221,552.3 1220,550.7 1219,551.3 1218,551.9 1217,552.5 1216,553.1 1215,553.7 1214,554.5 1213,555.2 1212,555.9 1211.9,555.9 1211,557.7 1210,559.7 1209.4,560.9 1209,560.2 1208,558.2 1207,556.3 1206.3,554.9 1206,554.3 1205,552.2 1204,550.2 1203.8,549.7 1203,549.3 1202,548.8 1201,548.3 1200,547.8 1199.4,547.4 1199,546.6 1198,544.6 1197,542.6 1196.3,541.2 1196,540.9 1195,539.7 1194,538.5 1193.1,537.4 1193,537.5 1192,538.4 1191,539.3 1190,540.2 1189,541.1 1188.8,541.2 1188,541.1 1187,540.9 1186,540.7 1185,540.6 1184,540.4 1183.8,540.3 1183,539.5 1182,538.5 1181,537.5 1180,536.6 1179.4,536 1179,536.5 1178,537.9 1177,539.4 1176.3,540.4 1176,540.9 1175,542.7 1174,544.5 1173,546.3 1172.5,547.3 1172,545.7 1171,542.6 1170,539.5 1169,539.1 1168,538.7 1167.5,538.5 1167,538 1166,537 1165,536.1 1164,535.1 1163.8,535 1163,537.4 1162,540.4 1161.9,540.8 1161,541.2 1160,541.8 1159,542.3 1158.8,542.5 1158,541.8 1157,541.1 1156,540.3 1155,539.5 1154.4,539.1 1154,539.3 1153,540 1152,540.6 1151,541.3 1150.6,541.6 1150,545 1149,550.8 1148.8,552 1148,551.4 1147,550.8 1146,550.1 1145,549.5 1144.4,549.1 1144,548.6 1143,547.6 1142,546.6 1141,545.5 1140,544.5 1139,544.9 1138,545.3 1137,545.7 1136.3,546 1136,545.6 1135,544.5 1134,543.4 1133,542.3 1132,541.1 1131.3,540.4 1131,540.6 1130,541.5 1129,542.4 1128,543.3 1127.5,543.8 1127,544.3 1126,545.4 1125,546.5 1124,547.6 1123.8,547.9 1123,547.6 1122,547.4 1121,547.1 1120.6,547 1120,547.3 1119,547.9 1118,548.5 1117.5,548.8 1117,549.3 1116,550.3 1115,551.3 1114.4,552 1114,551.9 1113,551.7 1112,551.6 1111,551.4 1110,551.3 1109,552.5 1108,553.7 1107,554.9 1106,556.1 1105.6,556.6 1105,556.3 1104,555.9 1103,555.5 1102,555.1 1101.3,554.8 1101,554.9 1100,555.5 1099,556.1 1098,556.7 1097.5,557 1097,556.9 1096,556.7 1095,556.5 1094,556.3 1093.8,556.3 1093,557.5 1092,559 1091,560.5 1090,562 1089,561.8 1088,561.7 1087,561.5 1086,561.3 1085,561.2 1084,561 1083.8,561 1083,560.5 1082,559.9 1081,559.4 1080,558.8 1079,559.3 1078,559.9 1077,560.5 1076,561 1075,561.6 1074,560.4 1073,559.2 1072,558 1071,556.8 1070.6,556.3 1070,556.5 1069,556.8 1068,557.1 1067,557.4 1066.9,557.5 1066,558.5 1065,559.5 1064,560.6 1063.1,561.6 1063,561.6 1062,561.4 1061,561.3 1060,561.2 1059,561 1058.8,561 1058,560.9 1057,560.7 1056,560.5 1055,560.4 1054,558.7 1053,557 1052,555.3 1051.3,554.1 1051,553.7 1050,552.6 1049,551.5 1048,550.3 1047,549.2 1046.9,549.1 1046,550.3 1045,551.7 1044,553 1043.8,553.3 1043,553.6 1042,554 1041,554.4 1040,554.8 1039,553.3 1038,551.8 1037,550.4 1036,548.9 1035.6,548.3 1035,549.1 1034,550.4 1033,551.6 1032.5,552.3 1032,552.5 1031,553 1030,553.5 1029,554 1028.8,554.1 1028,552.7 1027,551 1026.3,549.8 1026,549.8 1025,549.8 1024,549.9 1023,549.9 1022,550 1021.3,550 1021,550.2 1020,550.9 1019,551.5 1018,552.2 1017,552.9 1016,553.5 1015.6,553.8 1015,553.5 1014,553 1013,552.5 1012,552 1011,551.5 1010,551 1009,549.9 1008,548.8 1007,547.8 1006.3,547 1006,546.7 1005,545.6 1004,544.5 1003,543.4 1002.5,542.9 1002,543.1 1001,543.4 1000,543.7 999,544 998.8,544.1 998,543.5 997,542.7 996,542 995,541.2 994.4,540.8 994,540.8 993,540.9 992,541 991,541.1 990,541.2 989,540.9 988,540.5 987,540.1 986,539.8 985,539.4 984,543.1 983.1,546.5 983,546.4 982,545.9 981,545.4 980.6,545.3 980,545.5 979,546 978,546.5 977,547 976.3,547.3 976,547 975,545.9 974,544.9 973,543.8 972.5,543.3 972,543.8 971,544.8 970,545.8 969,543.5 968,541.3 967.5,540.2 967,540.9 966,542.5 965,544.1 964,545.7 963.8,546 963,546.9 962,548 961,549 960,550.1 959,548.5 958,546.9 957,545.3 956.9,545.1 956,545.8 955,546.6 954,547.4 953.8,547.6 953,546.6 952,545.4 951,544.1 950,542.9 949.4,542.2 949,542.6 948,543.5 947,544.4 946.3,545.1 946,544.5 945,542.5 944,540.5 943,538.5 942,536.5 941.9,536.3 941,535.8 940,535.3 939,534.8 938,534.3 937,533.8 936.9,533.8 936,535.2 935,536.7 934,538.3 933,539.9 932.5,540.6 932,540.1 931,539.1 930,538.1 929,537.1 928.8,536.9 928,536.6 927,536.3 926,535.9 925,535.5 924,535.1 923.8,535 923,535.4 922,535.9 921,536.4 920,536.9 919,537.4 918,537.9 917,538.4 916.3,538.7 916,538.6 915,538.2 914,537.8 913,537.4 912,537 911,536.6 910,536.2 909,537 908,537.7 907,538.5 906,539.2 905,540 904,539.1 903,538.1 902,537.2 901,536.3 900.6,535.9 900,535.7 899,535.5 898,535.3 897,535 896.9,535 896,535.3 895,535.7 894,536 893,536.4 892.5,536.6 892,536.1 891,535.1 890,534.1 889,533.7 888,533.4 887,533.1 886.3,532.9 886,533.4 885,535 884,536.7 883.8,537.1 883,537.5 882,538 881,538.5 880,539 879,540.8 878,542.5 877.5,543.3 877,543.5 876,543.7 875,544 874,544.3 873.8,544.3 873,544.2 872,544 871,543.8 870,543.5 869,543.3 868,543.1 867.5,543 867,542.8 866,542.4 865,541.9 864,541.5 863.1,541.1 863,540.9 862,538.2 861,535.6 860.6,534.5 860,534.7 859,535 858,535.3 857,535.6 856.3,535.8 856,535.6 855,534.9 854,534.3 853,533.6 852.5,533.3 852,533.7 851,534.4 850,535.2 849,535.9 848.8,536.1 848,536 847,535.8 846,535.6 845,535.5 844,535.3 843.8,535.3 843,534.8 842,534.2 841,533.5 840.6,533.3 840,533.5 839,533.9 838,534.3 837.5,534.5 837,534.1 836,533.4 835,532.6 834,531.9 833,531.1 832.5,530.8 832,530.5 831,530 830,529.5 829,529 828,528.5 827.5,528.3 827,528.3 826,528.4 825,528.4 824,528.5 823.1,528.5 823,528.8 822,531.1 821.3,532.7 821,532.8 820,533.1 819,533.5 818,533.8 817.5,533.9 817,533.7 816,533.1 815,532.6 814,532 813,531.5 812,531 811,530.4 810.6,530.2 810,529.8 809,529 808,528.2 807,527.5 806.3,526.9 806,526.7 805,526 804,525.3 803,524.7 802,524 801.9,523.9 801,524.8 800,525.9 799,526.9 798.1,527.9 798,528 797,529.5 796,530.9 795,532.4 794,533.8 793.8,534.1 793,533.4 792,532.6 791,531.7 790,530.9 789,530 788,529.2 787,528.3 786.3,527.7 786,527.7 785,527.5 784,527.2 783,527 782,526.8 781,526.6 780,526.4 779,525.6 778,524.7 777,523.8 776.3,523.2 776,522.9 775,522.1 774,521.2 773,520.4 772,519.5 771.9,519.4 771,520.1 770,520.8 769,521.5 768,522.3 767,523 766.9,523.1 766,524.2 765,525.5 764,526.8 763,528.1 762.5,528.7 762,528.3 761,527.5 760,526.7 759.4,526.2 759,525.7 758,524.5 757,523.3 756,522.2 755.6,521.7 755,521.6 754,521.4 753,521.3 752,521.1 751.9,521.1 751,520 750,518.9 749,517.7 748,516.6 747.5,516 747,515.6 746,514.7 745,513.8 744,512.9 743,512 742.5,511.5 742,511.6 741,511.7 740,511.8 739,511.9 738,512 737,512.1 736.9,512.1 736,511.5 735,510.8 734,510.1 733.1,509.5 733,509.4 732,508.4 731,507.4 730,506.4 729,506.9 728,507.4 727,507.9 726.3,508.2 726,508.5 725,509.3 724,510.1 723,510.9 722.5,511.3 722,510.6 721,509.2 720,507.9 719,506.5 718.8,506.2 718,505.7 717,505 716,504.3 715,503.7 714,505.1 713,506.6 712.5,507.3 712,506.4 711,504.4 710.6,503.6 710,503.8 709,504.1 708.8,504.2 708,504.8 707,505.6 706,506.3 705.6,506.6 705,505.8 704,504.4 703,502.9 702.5,502.2 702,501.5 701,500.2 700,498.8 699,497.4 698.8,497.2 698,496.8 697,496.3 696.3,495.9 696,495.1 695,492.5 694.4,490.9 694,491.7 693,493.6 692.5,494.6 692,495.6 691,497.6 690,499.5 689,499.1 688,498.7 687,498.3 686,497.9 685.6,497.7 685,498.4 684,499.6 683,500.8 682.5,501.4 682,501.3 681,501.3 680,501.3 679,498.5 678,495.8 677.5,494.4 677,494.2 676,493.8 675,493.4 674.4,493.1 674,493.3 673,493.5 672,493.8 671,494 670,494.3 669,493.6 668,492.8 667.5,492.5 667,492.3 666,491.9 665,491.6 664,491.2 663.8,491.1 663,490.6 662,490.1 661,489.5 660,488.9 659.4,488.6 659,488.5 658,488.2 657,487.9 656,487.6 655,487.4 654,488.2 653,489 652,489.8 651.9,489.8 651,488.8 650,487.6 649,486.5 648.1,485.4 648,485.4 647,485.4 646,485.4 645,485.4 644,484.5 643,483.7 642,482.8 641,481.9 640.6,481.6 640,481 639,480 638,479 637,478 636.9,477.9 636,478 635,478.1 634,478.3 633,478.4 632.5,478.5 632,478.5 631,478.5 630,478.5 629,478.5 628,478.5 627.5,478.5 627,478.3 626,477.9 625,477.5 624,477.1 623,476.7 622.5,476.5 622,476.3 621,475.8 620,475.3 619,474.8 618.8,474.7 618,473.9 617,472.9 616,471.9 615.6,471.5 615,471.1 614,470.4 613,469.6 612,468.9 611.3,468.4 611,468.3 610,468 609,467.7 608,467.3 607.5,467.2 607,466.7 606,465.9 605,465 604,464.1 603.1,463.3 603,463.2 602,461.5 601,459.9 600,458.3 599,457.5 598,456.6 597,455.8 596.9,455.7 596,453.7 595,451.4 594,449.1 593,446.8 592.5,445.7 592,445.8 591,445.9 590,446.1 589,446.2 588.8,446.2 588,445 587,443.4 586,441.8 585.6,441.2 585,441.8 584,442.8 583,443.8 582,444.8 581.3,445.6 581,445.4 580,444.7 579,444.1 578,443.5 577,442.8 576.3,442.4 576,442 575,440.7 574,439.5 573,438.2 572,436.9 571.3,436 571,436 570,436 569,436 568,436 567,436 566.9,436 566,433.1 565,429.8 564.4,427.9 564,427.3 563,425.8 562,424.4 561.3,423.4 561,423.6 560,424.1 559,424.7 558,425.2 557,425.8 556,426.3 555.6,426.5 555,425.6 554,423.9" fill="#32e646"/><polyline points="374,58.5 376,67 378,75.8 380,80.2 382,87.1 384,90.6 386,98 388,103.7 390,110.6 392,111.4 394,117.4 396,119.5 398,129.5 400,130 402,136.6 404,140.5 406,150.2 408,154.1 410,157.6 412,159.3 414,166.6 416,169.2 418,173 420,172.9 422,176.9 424,179.2 426,190.6 428,193.2 430,196.5 432,198 434,204.3 436,206.1 438,211.8 440,211.7 442,216.5 444,221.2 446,218.3 448,215.6 450,231.6 452,233.5 454,234 456,236 458,248.4 460,250.4 462,255.7 464,260.5 466,258.2 468,253 470,254.2 472,254.2 474,261.7 476,268.7 478,270.5 480,267.9 482,270.1 484,274.8 486,281.7 488,283.5 490,284.8 492,288.3 494,297 496,298.7 498,304.3 500,299.5 502,300.1 504,296 506,299.3 508,299.3 510,307.2 512,308.8 514,311.8 516,306.4 518,315.2 520,317.3 522,313.6 524,307.7 526,309.8 528,310.4 530,317.5 532,318.1 534,324.2 536,325.9 538,332.8 540,330.5 542,332.7 544,326.2 546,329.8 548,324.4 550,327.1 552,320.7 554,332.1 556,331.4 558,330.2 560,322.6" fill="none" stroke="#fa9137" stroke-width="4" stroke-linejoin="round"/><polyline points="560,322.6 562,326.5 564,328.5 566,342.6 568,346.1 570,348.2 572,343.2 574,348.1 576,348 578,353.7 580,350.4 582,353.1 584,345.2 586,345 588,347.6 590,351.8 592,343.9 594,356.8 596,355.6 598,364.2 600,362.8 602,367.9 604,362.5 606,368.8 608,363.3 610,368.2 612,364 614,369.1 616,364.4 618,374.5 620,371.1 622,377.2 624,373.2 626,379.1 628,370 630,372.6 632,364.7 634,370.3 636,365.4 638,370.7 640,369.5 642,378.3 644,375.5 646,381.8 648,377.3 650,383.4 652,378.5 654,385.2 656,378.5 658,385.6 660,381.4 662,387.2 664,382.1 666,386.7 668,382 670,384.7 672,378.6 674,385.3 676,379.7 678,390.8 680,392.1 682,394.9 684,383.8 686,385 688,383.5 690,389 692,380.5 694,379.2 696,380.7 698,389.7 700,384.2 702,391.2 704,391.8 706,403.6 708,393 710,395.7 712,389.2 714,392.8 716,386.8 718,395 720,392.8 722,399.5 724,390.7 726,390.9 728,382.6 730,383.2 732,384.2 734,393.2 736,388.8 738,396.6 740,389 742,395.8 744,392.8 746,400 748,397.2 750,407.8 752,403 754,407.6 756,402.5 758,411.5 760,406.9 762,410.5 764,397.3 766,399.7 768,393.5 770,398.2 772,391.4 774,403.4 776,401.8 778,411.3 780,404.2 782,411.4 784,404.9 786,414.6 788,408.5 790,420.1 792,416.9 794,422 796,412.4 798,415.9 800,406 802,411.1 804,404.2 806,414.6 808,410.5 810,417.4 812,411.5 814,421.1 816,415 818,421.5 820,416.6 822,419.5 824,411.6 826,416.4 828,408.5 830,416.9 832,411.5 834,417.4 836,411.3 838,418.4 840,414.7 842,419.2 844,411.3 846,421.4 848,410.3 850,418.7 852,410.3 854,421.4 856,416 858,423.3 860,416.4 862,424.8 864,422.6 866,430.8 868,425 870,433.4 872,429.5 874,436.9 876,431.9 878,435.6 880,422.3 882,425.7 884,417.8 886,422.6 888,413.3 890,423.1 892,418.6 894,426.1 896,418.7 898,423.2 900,415.2 902,425 904,418.8 906,424.2 908,417 910,427.7 912,424.5 914,434.4 916,425 918,431.5 920,424 922,429.9 924,423.1 926,437.8 928,432.4 930,438.4 932,433.2 934,434.5 936,419.1 938,427.3 940,424.3 942,430 944,434.8 946,448.4 948,433.8 950,437.6 952,439.6 954,447.1 956,437.2 958,446.4 960,446.8 962,443.7 964,432.3 966,433.4 968,425.1 970,435.3 972,433.3 974,442.5 976,439.4 978,442.5 980,436 982,446.2 984,430.5 986,430.9 988,423.9 990,432.4 992,430.7 994,437.3 996,430.2 998,438.9 1000,438.3 1002,444.4 1004,438 1006,449.8 1008,444.3 1010,449.9 1012,441.5 1014,452.8 1016,450.2 1018,454.1 1020,443.6 1022,455.9 1024,448.3 1026,455.2 1028,447.6 1030,455.8 1032,448.7 1034,452.6 1036,439.2 1038,450.4 1040,450.4 1042,452.6 1044,445 1046,447.2 1048,444.8 1050,458.9 1052,452.4 1054,462.2 1056,455.2 1058,459.2 1060,448 1062,458.7 1064,450.3 1066,454.8 1068,449.7 1070,453.3 1072,447.7 1074,456.6 1076,452.8 1078,460.5 1080,451.3 1082,456.5 1084,451.2 1086,459.9 1088,454.3 1090,461.1 1092,453.9 1094,459.1 1096,449.3 1098,456.5 1100,444.1 1102,451 1104,446.6 1106,451.5 1108,440.9 1110,443.7 1112,439.8 1114,447.2 1116,439.9 1118,444.8 1120,440.4 1122,451.3 1124,447.1 1126,448.9 1128,439.3 1130,445.1 1132,440 1134,451.8 1136,451.9 1138,457 1140,447.9 1142,455.9 1144,450.8 1146,459.1 1148,454.1 1150,455.8 1152,441.9 1154,443.1 1156,435 1158,448.6 1160,441.5 1162,448.5 1164,430.7 1166,444.6 1168,440.2 1170,452.9 1172,458.9 1174,460.7 1176,445.1 1178,451.6 1180,445.5 1182,456.5 1184,455.6 1186,460.1 1188,450.2 1190,457.8 1192,448.3 1194,452.2 1196,449.3 1198,460.3 1200,456.1 1202,466.3 1204,460.3 1206,468.2 1208,463.5 1210,473.3 1212,461.5 1214,464.2 1216,454.3 1218,461.5 1220,455.6 1222,468.2 1224,467.9 1226,472.5 1228,461.4 1230,471.4 1232,462.1 1234,464.8 1236,451.2 1238,457.6 1240,449.7 1242,460.3 1244,464.3 1246,468.8 1248,461.1 1250,472.6 1252,469.2 1254,477.8 1256,466.6 1258,474.7 1260,462 1262,469.9 1264,460.3 1266,465.9 1268,462.6 1270,468.3 1272,464.1 1274,472.4 1276,467.6 1278,472.9 1280,462.3 1282,465 1284,451.2 1286,456.5 1288,456.6 1290,469.7 1292,456.6 1294,462.2 1296,449.1 1298,455.7 1300,444.5 1302,453.3 1304,446.3 1306,461.5 1308,460.4 1310,472.3 1312,470.4 1314,472.5 1316,462.7 1318,473.9 1320,472.8 1322,487.6 1324,474.6 1326,476.5 1328,462.9 1330,470.4 1332,462.5 1334,466.8 1336,461.7 1338,475.1 1340,466.7 1342,486.5 1344,477.7 1346,482.8 1348,474.5 1350,478.5 1352,465.8 1354,469.6 1356,460.3 1358,466.3 1360,458.4" fill="none" stroke="#fa9137" stroke-width="3.2" stroke-linejoin="round" stroke-linecap="round"/><polygon points="470.5,252.6 471,253.5 472,255.2 473,257 473.3,257.5 474,260.5 475,264.9 476,269.2 476.1,269.6 477,269.5 478,269.2 479,269 480,268.8 481,268.6 482,268.4 482.2,268.4 483,271.2 484,274.7 484.4,276.1 485,277.7 486,280.5 486.7,282.4 487,282.8 488,284.2 488.1,284.3 489,283.9 490,283.4 490.6,283.1 491,284.6 492,288.6 493,292.6 493.1,293 494,295 495,297.3 496,299.5 497,301.7 497.5,302.9 498,302.2 499,300.9 500,299.5 501,298.2 501.3,297.8 502,297.5 503,297 504,296.6 505,296.1 505.6,295.8 506,296.6 507,298.4 508,300.2 509,302 510,303.9 511,306.9 512,309.8 512.5,311.3 513,310.7 514,309.3 515,308 516,306.7 516.3,306.3 517,308.4 518,311.5 519,314.5 520,317.5 521,314 522,310.5 522.5,308.7 523,308.5 524,308 525,307.6 526,307.2 526.9,306.8 527,307 528,309.9 529,312.8 530,315.7 530.6,317.4 531,317.9 532,319 533,320.1 533.8,321.1 534,321.5 535,323.9 536,326.4 536.9,328.5 537,328.6 538,329.1 539,329.7 540,330.2 541,330.8 541.3,331 542,329.6 543,327.5 543.8,325.9 544,325.9 545,325.8 546,325.6 547,325.5 548,325.4 548.8,325.3 549,324.8 550,322.6 551,320.3 551.3,319.6 552,321.6 553,324.3 553.1,324.6 554,327.7 555,331.2 555.6,333.3 556,332.2 557,329.5 558,326.7 558.8,324.5 559,324.3 560,323 561,321.7 561.3,321.3 562,323.1 563,325.8 564,328.4 564.4,329.5 565,333 566,338.9 566.3,340.6 567,343.1 568,346.6 568.1,346.9 569,345.5 570,344 570.6,343.1 571,343.2 572,343.6 573,344 573.8,344.3 574,344.6 575,346.1 576,347.6 576.3,348 577,348.3 578,348.8 579,349.3 580,349.8 581,350.3 581.3,350.4 582,348.8 583,346.5 584,344.1 585,341.8 585.6,340.4 586,341.5 587,344.2 588,347 588.8,349.1 589,348.8 590,347.2 591,345.6 591.9,344.1 592,344.4 593,347.6 594,350.9 595,354.1 596,356.1 597,358 598,360 598.1,360.2 599,361.7 600,363.3 601,363.3 602,363.3 603,363.3 603.8,363.3 604,363.4 605,363.7 606,364.1 607,364.4 607.5,364.6 608,364.4 609,364 610,363.5 610.6,363.3 611,363.4 612,363.7 613,363.9 614,364.2 615,364.4 615.6,364.6 616,365.3 617,367 618,368.8 618.8,370.2 619,370.3 620,371 621,371.8 622,372.5 623,373.2 623.1,373.3 624,373.4 625,373.6 626,373.8 626.9,374 627,373.6 628,370.3 628.8,367.7 629,367.6 630,367.1 631,366.5 632,366 632.5,365.8 633,365.6 634,365.2 635,364.7 636,364.3 636.9,364 637,364.1 638,365.7 639,367.3 640,369 641,371 642,373 643,375 643.1,375.2 644,375.4 645,375.6 646,375.9 647,376.2 648,376.4 648.1,376.5 649,377.5 650,378.6 651,379.8 651.3,380.1 652,380 653,379.9 654,379.7 655,379.5 656,379.9 657,380.2 658,380.5 658.8,380.7 659,380.8 660,381.2 661,381.5 662,381.9 662.5,382 663,382 664,381.9 665,381.7 666,381.6 667,381.5 667.5,381.4 668,381.3 669,381 670,380.7 671,380.4 672,380.1 673,379.8 673.8,379.5 674,379.6 675,380.3 676,380.9 676.9,381.4 677,381.8 678,385.8 679,389.8 679.4,391.4 680,391.1 681,390.4 682,389.8 682.5,389.5 683,387.8 684,384.4 685,381 685.6,378.9 686,379.6 687,381.2 687.5,382 688,382.6 689,383.9 690,385.1 691,383.1 692,381.1 692.5,380.1 693,378.5 694,375.2 694.4,373.9 695,376.7 696,381.2 696.3,382.6 697,382.8 698,383.2 699,383.5 700,383.9 701,385.9 702,387.9 703,389.9 703.1,390.1 704,393.2 705,396.7 705.6,398.8 706,397.9 707,395.5 708,393.2 708.8,391.3 709,391.2 710,390.9 711,390.5 712,390.2 712.5,390 713,389.2 714,387.5 715,385.9 715.6,384.9 716,385.7 717,387.7 718,389.6 718.8,391.2 719,391.4 720,392.2 721,393.1 722,393.9 723,394.8 723.1,394.9 724,392 725,388.9 726,385.8 726.3,384.8 727,383.8 728,382.2 729,380.7 730,379.2 731,382.4 732,385.7 732.5,387.3 733,387.7 734,388.6 735,389.4 736,390.3 736.9,391 737,391 738,390.6 739,390.3 740,389.9 741,389.6 742,389.2 742.5,389.1 743,390 744,391.8 745,393.6 746,395.4 746.3,395.9 747,397.1 748,398.9 749,400.6 750,402.3 751,404.1 751.3,404.6 752,404.2 753,403.6 754,403 755,402.4 755.6,402 756,402.4 757,403.4 758,404.4 759,405.4 760,406.4 760.6,407 761,406.1 762,403.7 763,401.3 763.8,399.5 764,399 765,396.5 766,394.1 766.9,391.9 767,392 768,393 769,394 769.4,394.4 770,393.5 771,392 771.9,390.7 772,391.1 773,395.6 773.5,397.9 774,399 775,401.2 776,402.2 777,403.2 778,404.1 778.8,404.9 779,404.9 780,404.9 781,404.9 782,404.9 783,404.9 783.8,404.9 784,405 785,405.9 786,406.8 787,407.7 788,408.5 788.1,408.6 789,410.4 790,412.4 791,414.4 792,416.4 793,418.4 793.1,418.6 794,416.5 795,414.1 796,411.8 796.9,409.7 797,409.6 798,408 799,406.5 800,404.9 801,403.4 801.3,402.9 802,403.6 803,404.6 804,405.6 805,406.6 805.6,407.2 806,407.5 807,408.2 808,408.9 809,409.6 810,410.4 811,411 812,411.6 813,412.2 814,412.8 815,413.5 816,414.1 817,414.7 818,415.3 819,415.9 820,416.5 821,414.5 822,412.5 823,410.5 823.1,410.3 824,410.2 825,410 826,409.9 827,409.7 827.5,409.6 828,409.7 829,409.7 830,409.8 831,409.9 832,410 832.5,410 833,410.2 834,410.4 835,410.7 836,411 837,411.3 837.5,411.5 838,411.7 839,412.1 840,412.4 841,412.8 842,413.2 842.5,413.4 843,413.2 844,413 845,412.7 846,412.5 847,412.2 847.5,412.1 848,411.8 849,411.3 850,410.9 851,410.4 851.9,409.9 852,410.1 853,411.3 854,412.5 855,413.7 856,414.9 856.3,415.2 857,415.5 858,415.8 859,416.2 860,416.6 861,416.9 861.3,417 862,418.2 863,419.9 864,421.6 865,423.3 866,424 867,424.8 868,425.5 869,426.3 870,427 871,427.7 872,428.4 873,429.1 874,429.8 875,430.5 876,431.2 876.3,431.4 877,429.5 878,426.9 879,424.3 879.4,423.3 880,422.6 881,421.6 882,420.6 883,419.6 883.1,419.5 884,418.3 885,417 886,415.8 887,414.5 887.5,413.8 888,414.3 889,415.1 890,416 891,416.8 891.9,417.6 892,417.6 893,417.6 894,417.6 895,417.6 896,417.6 896.3,417.6 897,417.1 898,416.5 899,415.8 900,415.1 901,415.6 902,416.1 903,416.6 904,417.1 904.4,417.3 905,417.3 906,417.2 907,417.1 908,417 908.8,416.9 909,417.3 910,419.2 911,421.1 912,423 913,424.8 913.8,426.4 914,426.3 915,425.8 916,425.3 917,424.8 918,424.3 918.8,423.9 919,423.8 920,423.5 921,423.3 922,423 923,422.7 923.1,422.7 924,424.6 925,426.7 926,428.9 926.3,429.5 927,430.1 928,430.8 929,431.6 930,432.4 931,433.2 931.9,433.9 932,433.6 933,430.2 934,426.8 935,423.4 936,420 936.3,418.9 937,419.8 938,420.9 939,422.1 940,423.3 940.6,424 941,424 941.9,424 942,424.5 943,429.4 944,434.2 945,439.1 945.6,442.1 946,440.9 947,438 948,435 949,432.1 949.4,430.9 950,432.5 951,435.1 952,437.7 953,440.3 953.1,440.5 954,439.7 955,438.7 956,437.8 956.3,437.5 957,438.9 958,441 959,443 960,445 961,442 962,438.9 963,435.9 963.8,433.5 964,432.9 965,430.2 966,427.5 967,424.8 967.5,423.5 968,424.3 969,426.1 970,427.8 971,429.6 971.3,430.1 972,431.4 973,433.3 974,435.1 975,437 975.6,438.1 976,437.9 977,437.6 978,437.2 979,436.8 980,436.4 981,437.5 982,438.6 982.5,439.1 983,436.1 984,430.1 985,424.1 986,424.3 987,424.5 988,424.6 988.8,424.8 989,425.2 990,427.4 991,429.5 991.3,430.2 992,429.9 993,429.5 993.8,429.2 994,429.4 995,430.6 996,431.8 997,433 997.5,433.6 998,434.2 999,435.3 1000,436.5 1001,436.7 1002,436.9 1003,437.1 1003.8,437.3 1004,437.9 1005,441.1 1006,442.4 1007,443.7 1008,445.1 1008.1,445.2 1009,444.5 1010,443.7 1011,443 1011.9,442.3 1012,442.4 1013,444 1014,445.5 1015,447 1016,448.5 1016.3,449 1017,448.3 1018,447.2 1019,446.2 1020,445.2 1021,446.6 1022,448 1023,449.3 1023.1,449.5 1024,449 1025,448.4 1026,447.8 1026.3,447.7 1027,448.1 1028,448.8 1029,449.5 1029.4,449.8 1030,449.4 1031,448.9 1032,448.3 1033,447.7 1033.1,447.7 1034,445.4 1035,442.8 1036,440.2 1036.3,439.5 1037,441.4 1038,444.1 1039,446.8 1040,449.5 1041,448.2 1042,447 1043,445.7 1043.8,444.8 1044,444.6 1045,443.6 1046,442.6 1046.9,441.7 1047,442 1048,445.4 1049,448.8 1049.4,450.2 1050,450.6 1051,451.2 1052,451.9 1052.5,452.2 1053,452.8 1054,453.8 1055,454.8 1055.6,455.4 1056,454.9 1057,453.6 1058,452.3 1059,451 1060,449.7 1061,450.7 1062,451.6 1063,452.5 1063.1,452.6 1064,450.5 1065,448.1 1065.6,446.6 1066,447.1 1067,448.4 1068,449.6 1068.8,450.6 1069,449.8 1070,445.6 1070.6,443.1 1071,444.2 1072,446.8 1073,449.4 1073.8,451.4 1074,451.6 1075,452.4 1076,453.2 1077,454 1077.5,454.4 1078,453.7 1079,452.3 1080,451 1080.6,450.1 1081,450.4 1082,451.2 1083,452 1083.8,452.6 1084,452.8 1085,453.6 1086,454.5 1087,455.4 1088,456.2 1088.8,456.9 1089,456.6 1090,455.3 1091,453.9 1092,452.5 1093,451.1 1093.1,451 1094,450.9 1095,450.7 1096,450.6 1097,450.5 1097.5,450.4 1098,449.4 1099,447.3 1100,445.2 1100.6,443.9 1101,444.3 1102,445.4 1103,446.4 1104,447.5 1104.4,447.9 1105,446.6 1106,444.3 1107,442.1 1107.5,441 1108,440.1 1109,438.3 1110,436.6 1111,437.3 1112,438.1 1113,438.9 1114,439.6 1115,440.4 1116,440.1 1117,439.8 1118,439.6 1119,439.3 1120,439.1 1121,442.2 1122,445.4 1123,448.5 1123.1,448.9 1124,447 1125,444.9 1126,442.9 1127,440.8 1128,438.8 1128.8,437.1 1129,437.2 1130,437.8 1131,438.3 1132,438.8 1132.5,439 1133,440.8 1134,444.5 1135,448.1 1136,451.7 1136.3,452.8 1137,451.9 1138,450.6 1139,449.3 1140,448 1141,449.1 1142,450.2 1143,451.3 1144,452.4 1144.4,452.8 1145,453.1 1146,453.6 1147,454.1 1148,454.6 1148.1,454.6 1149,451.1 1150,447.2 1151,443.3 1151.3,442.1 1152,440.2 1153,437.5 1154,434.9 1154.4,433.8 1155,434.8 1156,436.5 1157,438.2 1158,439.9 1158.8,441.3 1159,441.3 1160,441.2 1161,441 1162,440.9 1162.5,440.9 1163,437.5 1163.8,432.1 1164,432.5 1165,434.7 1166,436.9 1167,439.2 1167.5,440.3 1168,441.3 1169,443.3 1170,445.3 1171,451.1 1172,457 1172.5,460 1173,458 1174,454.1 1175,450.3 1176,446.4 1176.3,445.2 1177,445 1178,444.5 1179,444.1 1179.4,443.9 1180,445.3 1181,447.7 1182,450 1183,452.4 1183.8,454.2 1184,454 1185,453 1186,452 1187,451 1188,450 1188.1,449.9 1189,449.6 1190,449.2 1190.6,448.9 1191,448.1 1192,446.2 1193,444.3 1193.8,442.7 1194,443.2 1195,445.5 1196,447.8 1197,450.1 1197.5,451.2 1198,452.1 1199,454 1200,455.8 1201,456.9 1202,457.9 1203,459 1203.8,459.9 1204,460.1 1205,461.4 1206,462.7 1207,463.9 1208,465.2 1209,466.4 1209.4,466.9 1210,465.5 1211,463.1 1212,460.6 1212.5,459.4 1213,458.5 1214,456.7 1215,454.9 1216,453.1 1216.3,452.6 1217,453.3 1218,454.3 1219,455.3 1220,456.3 1220.6,456.9 1221,457.9 1222,460.6 1223,463.2 1224,465.9 1225,468.6 1226,466.2 1227,463.8 1228,461.5 1228.1,461.2 1229,462.6 1230,464.2 1231,465.7 1231.3,466.2 1232,463.7 1233,460.2 1234,456.6 1235,453.1 1236,452.1 1237,451.1 1238,450.2 1239,449.2 1240,448.2 1240.6,447.7 1241,449.4 1242,453.8 1243,458.2 1243.8,461.7 1244,461.7 1245,461.7 1246,461.6 1247,461.5 1248,461.5 1248.8,461.4 1249,461.8 1250,463.8 1251,465.7 1252,467.7 1253,469.7 1253.1,469.9 1254,469.2 1255,468.5 1256,467.8 1257,467 1257.5,466.7 1258,466 1259,464.6 1260,463.2 1261,462.4 1262,461.5 1263,460.7 1264,459.9 1265,459 1266,458.2 1266.3,457.9 1267,458.7 1268,459.9 1269,461.1 1270,462.2 1271,463.4 1271.3,463.8 1272,464.1 1273,464.6 1274,465 1275,465.5 1275.6,465.7 1276,465.6 1277,465.4 1278,465.1 1279,464.8 1279.4,464.7 1280,462.8 1281,459.7 1282,456.5 1282.5,454.9 1283,453.5 1284,450.8 1285,448.1 1285.6,446.5 1286,447.7 1287,450.9 1288,454 1289,457.1 1290,460.3 1291,458.8 1292,457.3 1293,455.8 1293.8,454.6 1294,454.2 1295,451.8 1296,449.4 1297,447 1297.5,445.8 1298,445.6 1299,445.2 1300,444.9 1301,444.5 1302,444.1 1302.5,443.9 1303,445 1304,447.1 1305,449.3 1306,451.4 1306.3,452.1 1307,456 1308,461.7 1308.1,462.3 1309,463.6 1310,465.2 1311,466.7 1311.9,468.1 1312,467.9 1313,466.5 1314,465 1315,463.6 1316,462.2 1316.3,461.7 1317,463.8 1318,466.7 1319,469.6 1319.4,470.7 1320,472.4 1321,475.1 1321.9,477.6 1322,477.4 1323,475.2 1324,472.9 1325,470.7 1326,468.5 1327,466.3 1328,464 1328.1,463.8 1329,463.8 1330,463.8 1331,463.8 1331.3,463.8 1332,462.1 1333,459.6 1333.8,457.6 1334,458.1 1335,460.5 1336,462.9 1336.9,465.1 1337,465.1 1338,465.3 1339,465.5 1340,465.7 1341,470.9 1342,476.1 1342.5,478.8 1343,478.4 1344,477.5 1345,476.7 1346,475.9 1346.3,475.6 1347,474.7 1348,473.2 1349,471.8 1349.4,471.2 1350,470.3 1351,468.7 1352,467 1352.5,466.2 1353,465.2 1354,463 1355,460.9 1356,458.8 1356.3,458.1 1357,457.3 1358,456.1 1359,454.9 1359.4,454.4 1360,460 1360.6,465.6 1360.6,474.4 1360,468.8 1359.4,463.2 1359,463.7 1358,464.9 1357,466.1 1356.3,466.9 1356,467.5 1355,469.7 1354,471.8 1353,473.9 1352.5,475 1352,475.8 1351,477.4 1350,479 1349.4,480 1349,480.5 1348,481.9 1347,483.4 1346.3,484.4 1346,484.6 1345,485.4 1344,486.2 1343,487 1342.5,487.4 1342,484.8 1341,479.6 1340,474.3 1339,474.1 1338,473.9 1337,473.7 1336.9,473.7 1336,471.5 1335,469.1 1334,466.7 1333.8,466.2 1333,468.2 1332,470.7 1331.3,472.4 1331,472.4 1330,472.4 1329,472.4 1328.1,472.4 1328,472.6 1327,474.8 1326,477.1 1325,479.3 1324,481.5 1323,483.7 1322,485.9 1321.9,486.2 1321,483.7 1320,480.9 1319.4,479.3 1319,478.1 1318,475.2 1317,472.3 1316.3,470.3 1316,470.7 1315,472.1 1314,473.5 1313,475 1312,476.4 1311.9,476.5 1311,475.2 1310,473.6 1309,472.1 1308.1,470.7 1308,470.2 1307,464.5 1306.3,460.5 1306,459.9 1305,457.7 1304,455.5 1303,453.4 1302.5,452.3 1302,452.5 1301,452.9 1300,453.2 1299,453.6 1298,454 1297.5,454.2 1297,455.4 1296,457.7 1295,460.1 1294,462.5 1293.8,463 1293,464.1 1292,465.6 1291,467.1 1290,468.5 1289,465.4 1288,462.3 1287,459.1 1286,456 1285.6,454.7 1285,456.3 1284,459 1283,461.7 1282.5,463.1 1282,464.7 1281,467.8 1280,471 1279.4,472.9 1279,473 1278,473.2 1277,473.5 1276,473.8 1275.6,473.9 1275,473.6 1274,473.1 1273,472.6 1272,472.2 1271.3,471.8 1271,471.5 1270,470.3 1269,469.1 1268,467.9 1267,466.7 1266.3,465.9 1266,466.1 1265,467 1264,467.8 1263,468.7 1262,469.5 1261,470.3 1260,471.2 1259,472.5 1258,473.9 1257.5,474.5 1257,474.9 1256,475.6 1255,476.3 1254,477.1 1253.1,477.7 1253,477.5 1252,475.5 1251,473.6 1250,471.6 1249,469.6 1248.8,469.2 1248,469.2 1247,469.3 1246,469.3 1245,469.4 1244,469.5 1243.8,469.5 1243,465.9 1242,461.5 1241,457.1 1240.6,455.3 1240,455.9 1239,456.9 1238,457.8 1237,458.8 1236,459.8 1235,460.7 1234,464.2 1233,467.8 1232,471.3 1231.3,473.8 1231,473.3 1230,471.7 1229,470.2 1228.1,468.8 1228,469 1227,471.4 1226,473.7 1225,476.1 1224,473.4 1223,470.7 1222,468.1 1221,465.4 1220.6,464.3 1220,463.7 1219,462.7 1218,461.7 1217,460.7 1216.3,460 1216,460.5 1215,462.3 1214,464.1 1213,465.9 1212.5,466.8 1212,468 1211,470.4 1210,472.8 1209.4,474.3 1209,473.7 1208,472.5 1207,471.2 1206,469.9 1205,468.7 1204,467.4 1203.8,467.1 1203,466.3 1202,465.2 1201,464.1 1200,463 1199,461.2 1198,459.3 1197.5,458.4 1197,457.2 1196,454.9 1195,452.6 1194,450.3 1193.8,449.9 1193,451.4 1192,453.4 1191,455.3 1190.6,456.1 1190,456.3 1189,456.7 1188.1,457.1 1188,457.2 1187,458.2 1186,459.2 1185,460.2 1184,461.2 1183.8,461.4 1183,459.5 1182,457.2 1181,454.8 1180,452.5 1179.4,451.1 1179,451.2 1178,451.6 1177,452.1 1176.3,452.4 1176,453.5 1175,457.4 1174,461.2 1173,465.1 1172.5,467 1172,464.1 1171,458.2 1170,452.3 1169,450.3 1168,448.3 1167.5,447.3 1167,446.2 1166,444 1165,441.8 1164,439.6 1163.8,439.1 1163,444.5 1162.5,447.9 1162,448 1161,448.1 1160,448.2 1159,448.3 1158.8,448.3 1158,447 1157,445.2 1156,443.5 1155,441.8 1154.4,440.8 1154,441.9 1153,444.6 1152,447.2 1151.3,449.1 1151,450.3 1150,454.2 1149,458.1 1148.1,461.6 1148,461.5 1147,461.1 1146,460.6 1145,460.1 1144.4,459.8 1144,459.4 1143,458.3 1142,457.2 1141,456.1 1140,455 1139,456.3 1138,457.6 1137,458.9 1136.3,459.8 1136,458.7 1135,455 1134,451.4 1133,447.8 1132.5,446 1132,445.7 1131,445.2 1130,444.7 1129,444.2 1128.8,444.1 1128,445.7 1127,447.7 1126,449.8 1125,451.8 1124,453.9 1123.1,455.7 1123,455.4 1122,452.3 1121,449.1 1120,445.9 1119,446.2 1118,446.5 1117,446.7 1116,447 1115,447.2 1114,446.5 1113,445.7 1112,444.9 1111,444.2 1110,443.4 1109,445.2 1108,446.9 1107.5,447.8 1107,448.9 1106,451.2 1105,453.4 1104.4,454.7 1104,454.3 1103,453.2 1102,452.2 1101,451.1 1100.6,450.7 1100,452 1099,454.1 1098,456.1 1097.5,457.2 1097,457.3 1096,457.4 1095,457.5 1094,457.7 1093.1,457.8 1093,457.9 1092,459.3 1091,460.7 1090,462 1089,463.4 1088.8,463.7 1088,463 1087,462.1 1086,461.3 1085,460.4 1084,459.6 1083.8,459.4 1083,458.8 1082,458 1081,457.2 1080.6,456.9 1080,457.7 1079,459.1 1078,460.5 1077.5,461.2 1077,460.8 1076,460 1075,459.1 1074,458.3 1073.8,458.2 1073,456.1 1072,453.5 1071,450.9 1070.6,449.9 1070,452.4 1069,456.5 1068.8,457.4 1068,456.4 1067,455.1 1066,453.9 1065.6,453.4 1065,454.8 1064,457.2 1063.1,459.4 1063,459.3 1062,458.3 1061,457.4 1060,456.5 1059,457.8 1058,459 1057,460.3 1056,461.6 1055.6,462.2 1055,461.5 1054,460.5 1053,459.5 1052.5,459 1052,458.6 1051,457.9 1050,457.3 1049.4,456.8 1049,455.5 1048,452.1 1047,448.7 1046.9,448.3 1046,449.2 1045,450.2 1044,451.2 1043.8,451.4 1043,452.4 1042,453.7 1041,454.9 1040,456.1 1039,453.4 1038,450.7 1037,448 1036.3,446.1 1036,446.9 1035,449.5 1034,452 1033.1,454.3 1033,454.4 1032,455 1031,455.5 1030,456.1 1029.4,456.4 1029,456.2 1028,455.5 1027,454.8 1026.3,454.3 1026,454.5 1025,455.1 1024,455.6 1023.1,456.1 1023,456 1022,454.6 1021,453.2 1020,451.8 1019,452.8 1018,453.9 1017,454.9 1016.3,455.6 1016,455.2 1015,453.6 1014,452.1 1013,450.6 1012,449.1 1011.9,448.9 1011,449.6 1010,450.4 1009,451.1 1008.1,451.8 1008,451.7 1007,450.4 1006,449 1005,447.7 1004,444.5 1003.8,443.9 1003,443.7 1002,443.5 1001,443.3 1000,443.1 999,441.9 998,440.8 997.5,440.2 997,439.6 996,438.4 995,437.2 994,436.1 993.8,435.8 993,436.1 992,436.6 991.3,436.8 991,436.2 990,434 989,431.9 988.8,431.4 988,431.3 987,431.2 986,431 985,430.9 984,436.9 983,442.9 982.5,445.9 982,445.3 981,444.3 980,443.2 979,443.6 978,444 977,444.4 976,444.7 975.6,444.9 975,443.8 974,441.9 973,440.1 972,438.2 971.3,436.9 971,436.4 970,434.7 969,432.9 968,431.2 967.5,430.3 967,431.7 966,434.4 965,437.1 964,439.8 963.8,440.3 963,442.8 962,445.8 961,448.9 960,452 959,449.9 958,447.9 957,445.9 956.3,444.5 956,444.8 955,445.7 954,446.6 953.1,447.5 953,447.2 952,444.6 951,442 950,439.5 949.4,437.9 949,439.1 948,442 947,445 946,447.9 945.6,449.1 945,446.2 944,441.3 943,436.4 942,431.5 941.9,431 941,431 940.6,431 940,430.3 939,429.2 938,428 937,426.9 936.3,426.1 936,427.1 935,430.5 934,433.9 933,437.3 932,440.7 931.9,441.1 931,440.4 930,439.6 929,438.8 928,438 927,437.2 926.3,436.7 926,436.1 925,433.9 924,431.8 923.1,429.9 923,429.9 922,430.2 921,430.5 920,430.8 919,431.1 918.8,431.1 918,431.5 917,432 916,432.5 915,433 914,433.5 913.8,433.6 913,432.1 912,430.3 911,428.4 910,426.5 909,424.6 908.8,424.3 908,424.3 907,424.4 906,424.5 905,424.6 904.4,424.7 904,424.5 903,424 902,423.5 901,423 900,422.5 899,423.2 898,423.8 897,424.5 896.3,425 896,425 895,425 894,425 893,425 892,425 891.9,425 891,424.2 890,423.3 889,422.5 888,421.6 887.5,421.2 887,421.8 886,423.1 885,424.3 884,425.6 883.1,426.7 883,426.9 882,427.9 881,428.9 880,429.9 879.4,430.5 879,431.6 878,434.2 877,436.8 876.3,438.6 876,438.4 875,437.7 874,437 873,436.3 872,435.6 871,434.9 870,434.2 869,433.5 868,432.7 867,432 866,431.2 865,430.5 864,428.8 863,427.1 862,425.4 861.3,424.2 861,424.1 860,423.7 859,423.3 858,423 857,422.6 856.3,422.4 856,422 855,420.8 854,419.6 853,418.4 852,417.2 851.9,417.1 851,417.5 850,418 849,418.4 848,418.9 847.5,419.1 847,419.3 846,419.5 845,419.8 844,420 843,420.3 842.5,420.4 842,420.2 841,419.9 840,419.5 839,419.1 838,418.7 837.5,418.5 837,418.4 836,418.1 835,417.8 834,417.5 833,417.1 832.5,417 832,417 831,416.9 830,416.8 829,416.7 828,416.6 827.5,416.6 827,416.7 826,416.8 825,417 824,417.1 823.1,417.3 823,417.5 822,419.5 821,421.5 820,423.5 819,422.8 818,422.2 817,421.6 816,421 815,420.3 814,419.7 813,419.1 812,418.5 811,417.9 810,417.2 809,416.5 808,415.8 807,415 806,414.3 805.6,414 805,413.4 804,412.4 803,411.4 802,410.4 801.3,409.7 801,410.2 800,411.7 799,413.2 798,414.8 797,416.3 796.9,416.5 796,418.5 795,420.9 794,423.2 793.1,425.2 793,425 792,423 791,421 790,419 789,417 788.1,415.2 788,415.1 787,414.2 786,413.3 785,412.4 784,411.5 783.8,411.3 783,411.3 782,411.3 781,411.3 780,411.3 779,411.3 778.8,411.3 778,410.5 777,409.5 776,408.5 775,407.5 774,405.3 773.5,404.1 773,401.9 772,397.4 771.9,396.9 771,398.2 770,399.7 769.4,400.6 769,400.2 768,399.2 767,398.2 766.9,398.1 766,400.2 765,402.6 764,405.1 763.8,405.5 763,407.4 762,409.7 761,412.1 760.6,413 760,412.4 759,411.4 758,410.4 757,409.4 756,408.4 755.6,408 755,408.3 754,408.9 753,409.4 752,410 751.3,410.4 751,409.9 750,408.1 749,406.4 748,404.6 747,402.9 746.3,401.7 746,401.1 745,399.3 744,397.5 743,395.6 742.5,394.7 742,394.9 741,395.2 740,395.5 739,395.9 738,396.2 737,396.5 736.9,396.6 736,395.8 735,394.9 734,394 733,393.2 732.5,392.7 732,391.1 731,387.8 730,384.6 729,386.1 728,387.6 727,389.1 726.3,390.2 726,391.1 725,394.2 724,397.3 723.1,400.1 723,400 722,399.2 721,398.3 720,397.4 719,396.6 718.8,396.4 718,394.8 717,392.8 716,390.8 715.6,390.1 715,391 714,392.6 713,394.2 712.5,395 712,395.2 711,395.5 710,395.9 709,396.2 708.8,396.3 708,398.2 707,400.5 706,402.8 705.6,403.8 705,401.6 704,398.1 703.1,394.9 703,394.7 702,392.7 701,390.7 700,388.7 699,388.3 698,388 697,387.6 696.3,387.4 696,386 695,381.4 694.4,378.7 694,380 693,383.3 692.5,384.9 692,385.9 691,387.9 690,389.9 689,388.6 688,387.4 687.5,386.8 687,386 686,384.3 685.6,383.7 685,385.7 684,389.2 683,392.6 682.5,394.3 682,394.6 681,395.2 680,395.8 679.4,396.2 679,394.6 678,390.6 677,386.6 676.9,386.2 676,385.6 675,385 674,384.4 673.8,384.3 673,384.5 672,384.8 671,385.1 670,385.4 669,385.7 668,386 667.5,386.2 667,386.2 666,386.3 665,386.5 664,386.6 663,386.7 662.5,386.8 662,386.6 661,386.2 660,385.9 659,385.5 658.8,385.5 658,385.2 657,384.9 656,384.6 655,384.3 654,384.4 653,384.6 652,384.7 651.3,384.9 651,384.5 650,383.3 649,382.2 648.1,381.1 648,381.1 647,380.9 646,380.6 645,380.3 644,380.1 643.1,379.8 643,379.6 642,377.6 641,375.6 640,373.6 639,372 638,370.4 637,368.8 636.9,368.6 636,369 635,369.4 634,369.8 633,370.2 632.5,370.4 632,370.7 631,371.2 630,371.7 629,372.2 628.8,372.3 628,375 627,378.3 626.9,378.6 626,378.5 625,378.3 624,378.1 623.1,377.9 623,377.9 622,377.1 621,376.4 620,375.7 619,375 618.8,374.8 618,373.4 617,371.7 616,369.9 615.6,369.2 615,369.1 614,368.8 613,368.5 612,368.3 611,368 610.6,367.9 610,368.2 609,368.6 608,369 607.5,369.2 607,369 606,368.7 605,368.3 604,368 603.8,367.9 603,367.9 602,367.9 601,367.9 600,367.9 599,366.3 598.1,364.8 598,364.6 597,362.6 596,360.5 595,358.5 594,355.3 593,352.1 592,348.8 591.9,348.5 591,349.9 590,351.5 589,353.1 588.8,353.5 588,351.2 587,348.5 586,345.7 585.6,344.6 585,346 584,348.3 583,350.6 582,352.9 581.3,354.6 581,354.4 580,353.9 579,353.4 578,352.9 577,352.4 576.3,352 576,351.5 575,350.1 574,348.6 573.8,348.3 573,347.9 572,347.5 571,347.1 570.6,346.9 570,347.8 569,349.3 568.1,350.7 568,350.3 567,346.8 566.3,344.4 566,342.6 565,336.7 564.4,333.1 564,332.1 563,329.4 562,326.8 561.3,324.9 561,325.3 560,326.5 559,327.8 558.8,328.1 558,330.2 557,332.9 556,335.6 555.6,336.7 555,334.6 554,331.1 553.1,328 553,327.7 552,324.9 551.3,323 551,323.6 550,325.9 549,328.1 548.8,328.5 548,328.6 547,328.7 546,328.8 545,328.9 544,329 543.8,329.1 543,330.7 542,332.6 541.3,334 541,333.9 540,333.3 539,332.7 538,332.1 537,331.5 536.9,331.5 536,329.3 535,326.9 534,324.4 533.8,323.9 533,323 532,321.8 531,320.7 530.6,320.2 530,318.5 529,315.5 528,312.6 527,309.7 526.9,309.4 526,309.8 525,310.2 524,310.7 523,311.1 522.5,311.3 522,313 521,316.6 520,320.1 519,317 518,313.9 517,310.9 516.3,308.7 516,309.1 515,310.4 514,311.7 513,313 512.5,313.7 512,312.2 511,309.1 510,306.1 509,304.3 508,302.4 507,300.6 506,298.7 505.6,298 505,298.2 504,298.7 503,299.1 502,299.5 501.3,299.8 501,300.2 500,301.5 499,302.8 498,304.1 497.5,304.7 497,303.6 496,301.3 495,299 494,296.7 493.1,294.6 493,294.2 492,290.2 491,286.2 490.6,284.5 490,284.8 489,285.3 488.1,285.7 488,285.5 487,284.1 486.7,283.6 486,281.7 485,278.9 484.4,277.3 484,275.9 483,272.3 482.2,269.4 482,269.5 481,269.6 480,269.8 479,269.9 478,270.1 477,270.2 476.1,270.4 476,269.9 475,265.5 474,261.2 473.3,258.1 473,257.5 472,255.7 471,253.9 470.5,253" fill="#fa9137"/><polyline points="374,58.8 376,70.6 378,81.3 380,86.2 382,95.5 384,101.4 386,110.6 388,116.5 390,124.1 392,128.1 394,136.7 396,141.8 398,150.5 400,153.8 402,161.5 404,167.4 406,175.2 408,178.4 410,185.8 412,188.8 414,195.9 416,199.8 418,208.1 420,210.4 422,217.1 424,219.4 426,227.5 428,230.9 430,236.3 432,236.7 434,245.2 436,247.6 438,252.7 440,255.4 442,262.2 444,265.5 446,270.1 448,270.2 450,280.6 452,284.6 454,288.1 456,288.2 458,295.8 460,300.7 462,306.7 464,310.3 466,314.2 468,313.5 470,316.6 472,317.5 474,322.6 476,327.3 478,331.8 480,331.3 482,335 484,336.7 486,343.5 488,344.5 490,348 492,352.3 494,359.2 496,360.8 498,366.3 500,368 502,371.8 504,370.4 506,374.8 508,375.1 510,379.4 512,380.6 514,384.4 516,384.3 518,389.1 520,389.7 522,392 524,389.9 526,393.8 528,395.6 530,400.8 532,402.6 534,406.7 536,407.1 538,413.5 540,414.9 542,418.4 544,416.8 546,419.7 548,417.7 550,420.1 552,420.2 554,424.5 556,425 558,425.6 560,422.2" fill="none" stroke="#228b22" stroke-width="4" stroke-linejoin="round"/><polyline points="560,422.2 562,424.7 564,426.1 566,434.3 568,434 570,436.4 572,435.1 574,440.3 576,439.9 578,443.5 580,443.3 582,445.3 584,441.5 586,442.1 588,443.9 590,446.8 592,443.6 594,449.3 596,452.5 598,456.6 600,456 602,462.4 604,461.7 606,465.5 608,465.3 610,468.1 612,467 614,470.7 616,470 618,474.4 620,473.6 622,476.4 624,475.5 626,477.2 628,475.7 630,478.2 632,475.6 634,478.1 636,475 638,479.3 640,477.9 642,483.2 644,482.9 646,484.8 648,482.8 650,488 652,487.5 654,489.1 656,485.5 658,489.2 660,486.4 662,490.1 664,489.1 666,492.9 668,490.4 670,494.2 672,491.5 674,493.4 676,491.7 678,495.7 680,499.3 682,501.2 684,496.1 686,497.3 688,495.4 690,499.4 692,492 694,491.3 696,491.8 698,496.9 700,495.9 702,501.4 704,500.2 706,505.8 708,502.1 710,503.3 712,504.2 714,505 716,500.7 718,506.3 720,504.2 722,509.6 724,505.6 726,508.6 728,504.7 730,505.5 732,505.9 734,510.1 736,508.4 738,510.9 740,507.3 742,511.8 744,508.7 746,513.4 748,511.9 750,517.9 752,516.7 754,520.2 756,518 758,524.3 760,522.4 762,527 764,524 766,523.3 768,518.3 770,519.1 772,515.5 774,521.4 776,518.1 778,524.4 780,521.9 782,526.2 784,523.2 786,526.7 788,524.3 790,529.1 792,528.2 794,532 796,525.2 798,527.8 800,520.9 802,522.1 804,521.9 806,525.7 808,523.4 810,529.8 812,525.9 814,530.2 816,528.3 818,531.2 820,528.2 822,530.5 824,524.1 826,527.2 828,523.4 830,528.7 832,525.5 834,529.6 836,528.5 838,532.8 840,528.2 842,533 844,530.3 846,534.2 848,532.3 850,534.1 852,528 854,533.2 856,530.9 858,533.7 860,529.5 862,536.6 864,535.8 866,540.8 868,538.5 870,542.6 872,538.6 874,543.4 876,538.7 878,540.4 880,533.9 882,537.4 884,532.9 886,533 888,528.7 890,532.8 892,531.4 894,535.2 896,530.8 898,534.1 900,530.6 902,536.2 904,534 906,537.9 908,533.3 910,534.4 912,532.7 914,536.7 916,533.1 918,535.8 920,533.4 922,533.6 924,530.7 926,533.7 928,532.6 930,537 932,535 934,536.8 936,529.6 938,531.9 940,530.2 942,536.1 944,535.1 946,543.4 948,539.2 950,542.5 952,541 954,545.1 956,541.9 958,545.2 960,545 962,545.6 964,540.3 966,540.2 968,537 970,544.1 972,538.9 974,543.4 976,541.3 978,544.8 980,540.8 982,544.3 984,537.8 986,537.7 988,534.9 990,540.1 992,536.4 994,538.6 996,536.7 998,541.4 1000,537.8 1002,541.8 1004,540.1 1006,543.8 1008,543 1010,548.5 1012,547.5 1014,551.4 1016,548.9 1018,550.2 1020,546.2 1022,547.3 1024,545.5 1026,548.4 1028,548 1030,552 1032,548 1034,548.5 1036,544 1038,550.1 1040,549.7 1042,552.8 1044,548.2 1046,549.6 1048,546.1 1050,551.8 1052,549.9 1054,556.7 1056,555.2 1058,559.4 1060,556.1 1062,559.4 1064,555.9 1066,556.9 1068,552.1 1070,554.8 1072,552.5 1074,558.3 1076,556.8 1078,558 1080,553.8 1082,558 1084,556.3 1086,559.8 1088,556 1090,559.8 1092,553.3 1094,555.4 1096,551 1098,553.8 1100,550.7 1102,552.8 1104,551 1106,553.4 1108,547.7 1110,549.8 1112,547.2 1114,549.2 1116,545.3 1118,547.2 1120,541.6 1122,546.3 1124,542.6 1126,544.1 1128,537.4 1130,540 1132,536.2 1134,542 1136,540.5 1138,543.8 1140,539.7 1142,545.9 1144,543.8 1146,548.6 1148,545.6 1150,543.3 1152,535.8 1154,538.1 1156,535.7 1158,540.8 1160,537.3 1162,538.6 1164,530.2 1166,535.8 1168,533.3 1170,538.2 1172,540.6 1174,541.9 1176,536.1 1178,536 1180,532.2 1182,536.1 1184,536.1 1186,539.2 1188,535.5 1190,537.4 1192,532.5 1194,536.8 1196,537 1198,542.7 1200,542.4 1202,546.8 1204,545.9 1206,552.8 1208,553.4 1210,558.4 1212,551.5 1214,553.4 1216,548.3 1218,550.5 1220,545.1 1222,552.1 1224,550.8 1226,556.4 1228,551.1 1230,555.2 1232,554.6 1234,555.2 1236,549.2 1238,549 1240,543.4 1242,549 1244,549.3 1246,552.3 1248,548.4 1250,552.9 1252,551.9 1254,556.1 1256,551.4 1258,554.9 1260,550.9 1262,550.2 1264,546.6 1266,549.5 1268,547.5 1270,552.1 1272,549.5 1274,553.2 1276,549.3 1278,550.1 1280,547 1282,548.8 1284,543.6 1286,543.9 1288,545.7 1290,553 1292,545.7 1294,548.1 1296,542.3 1298,543.7 1300,539.2 1302,544.3 1304,540.9 1306,544.3 1308,543.6 1310,554.6 1312,553.6 1314,557.8 1316,551.9 1318,556 1320,552.7 1322,558.5 1324,552.5 1326,556.3 1328,548.2 1330,549.8 1332,543.4 1334,549.7 1336,548.4 1338,556.6 1340,553.9 1342,561.8 1344,558 1346,559.7 1348,554.1 1350,560 1352,555.9 1354,558.7 1356,552.1 1358,555.7 1360,552.6" fill="none" stroke="#228b22" stroke-width="3.2" stroke-linejoin="round" stroke-linecap="round"/><polygon points="554,423.5 555,425.1 555.6,426.1 556,425.8 557,425.3 558,424.7 559,424.1 560,423.5 561,423 561.3,422.8 562,423.8 563,425.2 564,426.6 564.4,427.1 565,429.1 566,432.3 566.9,435.2 567,435.2 568,435.2 569,435.2 570,435.2 571,435.2 571.3,435.2 572,436 573,437.3 574,438.5 575,439.8 576,441 576.3,441.4 577,441.8 578,442.4 579,443 580,443.7 581,444.3 581.3,444.4 582,443.7 583,442.7 584,441.6 585,440.6 585.6,440 586,440.6 587,442.2 588,443.7 588.8,445 589,444.9 590,444.7 591,444.6 592,444.4 592.5,444.3 593,445.4 594,447.7 595,450 596,452.2 596.9,454.3 597,454.3 598,455.1 599,455.9 600,456.7 601,458.3 602,459.9 603,461.5 603.1,461.7 604,462.4 605,463.3 606,464.2 607,465 607.5,465.4 608,465.6 609,465.9 610,466.2 611,466.5 611.3,466.6 612,467.1 613,467.8 614,468.5 615,469.3 615.6,469.7 616,470.1 617,471.1 618,472.1 618.8,472.9 619,473 620,473.5 621,473.9 622,474.4 622.5,474.7 623,474.8 624,475.2 625,475.6 626,476 627,476.4 627.5,476.5 628,476.5 629,476.5 630,476.5 631,476.5 632,476.5 632.5,476.5 633,476.5 634,476.3 635,476.2 636,476 636.9,475.9 637,476 638,477 639,478 640,479 640.6,479.6 641,479.9 642,480.8 643,481.7 644,482.5 645,483.4 646,483.4 647,483.4 648,483.4 648.1,483.4 649,484.4 650,485.6 651,486.7 651.9,487.8 652,487.7 653,486.9 654,486.1 655,485.2 656,485.5 657,485.8 658,486.1 659,486.3 659.4,486.4 660,486.8 661,487.3 662,487.9 663,488.5 663.8,488.9 664,489 665,489.3 666,489.7 667,490 667.5,490.2 668,490.6 669,491.3 670,492 671,491.7 672,491.4 673,491.2 674,490.9 674.4,490.8 675,491 676,491.4 677,491.8 677.5,492 678,493.4 679,496.1 680,498.9 681,498.9 682,498.9 682.5,498.9 683,498.3 684,497.1 685,495.9 685.6,495.1 686,495.3 687,495.7 688,496.1 689,496.5 690,496.9 691,494.9 692,492.9 692.5,491.9 693,490.9 694,489 694.4,488.2 695,489.8 696,492.4 696.3,493.2 697,493.5 698,494 698.8,494.4 699,494.7 700,496 701,497.4 702,498.7 702.5,499.4 703,500.1 704,501.5 705,502.9 705.6,503.8 706,503.5 707,502.7 708,501.9 708.8,501.3 709,501.2 710,500.9 710.6,500.7 711,501.4 712,503.4 712.5,504.4 713,503.6 714,502.1 715,500.6 716,501.3 717,501.9 718,502.6 718.8,503.1 719,503.4 720,504.7 721,506.1 722,507.4 722.5,508.1 723,507.7 724,506.9 725,506.1 726,505.2 726.3,505 727,504.6 728,504.1 729,503.6 730,503.1 731,504.1 732,505.1 733,506.1 733.1,506.2 734,506.8 735,507.4 736,508.1 736.9,508.7 737,508.6 738,508.5 739,508.4 740,508.3 741,508.2 742,508.1 742.5,508 743,508.5 744,509.3 745,510.2 746,511.1 747,512 747.5,512.4 748,513 749,514.1 750,515.2 751,516.4 751.9,517.4 752,517.4 753,517.6 754,517.7 755,517.9 755.6,518 756,518.4 757,519.6 758,520.7 759,521.9 759.4,522.4 760,522.8 761,523.6 762,524.4 762.5,524.8 763,524.2 764,522.9 765,521.6 766,520.3 766.9,519.1 767,519.1 768,518.3 769,517.6 770,516.8 771,516.1 771.9,515.4 772,515.5 773,516.3 774,517.2 775,518 776,518.8 776.3,519.1 777,519.7 778,520.6 779,521.4 780,522.3 781,522.5 782,522.7 783,522.8 784,523 785,523.2 786,523.4 786.3,523.5 787,524 788,524.9 789,525.7 790,526.5 791,527.4 792,528.2 793,529.1 793.8,529.7 794,529.4 795,528 796,526.5 797,525 798,523.6 798.1,523.4 799,522.5 800,521.4 801,520.3 801.9,519.4 802,519.5 803,520.2 804,520.8 805,521.5 806,522.2 806.3,522.4 807,522.9 808,523.7 809,524.5 810,525.3 810.6,525.7 811,525.9 812,526.5 813,527 814,527.5 815,528.1 816,528.6 817,529.2 817.5,529.4 818,529.3 819,529 820,528.6 821,528.3 821.3,528.2 822,526.6 823,524.3 823.1,524 824,524 825,523.9 826,523.8 827,523.8 827.5,523.7 828,524 829,524.5 830,525 831,525.5 832,526 832.5,526.2 833,526.6 834,527.4 835,528.1 836,528.8 837,529.6 837.5,529.9 838,529.8 839,529.4 840,529 840.6,528.8 841,529 842,529.6 843,530.3 843.8,530.8 844,530.8 845,530.9 846,531.1 847,531.3 848,531.4 848.8,531.6 849,531.4 850,530.7 851,529.9 852,529.1 852.5,528.8 853,529.1 854,529.8 855,530.4 856,531.1 856.3,531.3 857,531.1 858,530.8 859,530.5 860,530.2 860.6,530 861,531 862,533.7 863,536.3 863.1,536.6 864,537 865,537.4 866,537.8 867,538.3 867.5,538.5 868,538.6 869,538.8 870,539 871,539.2 872,539.4 873,539.6 873.8,539.8 874,539.7 875,539.5 876,539.2 877,538.9 877.5,538.8 878,537.9 879,536.2 880,534.5 881,534 882,533.4 883,532.9 883.8,532.5 884,532.2 885,530.5 886,528.8 886.3,528.3 887,528.5 888,528.9 889,529.2 890,529.5 891,530.5 892,531.5 892.5,532 893,531.8 894,531.5 895,531.1 896,530.7 896.9,530.4 897,530.4 898,530.7 899,530.9 900,531.2 900.6,531.3 901,531.7 902,532.6 903,533.6 904,534.5 905,535.4 906,534.7 907,533.9 908,533.2 909,532.4 910,531.6 911,532 912,532.4 913,532.8 914,533.2 915,533.6 916,534 916.3,534.1 917,533.8 918,533.3 919,532.8 920,532.3 921,531.8 922,531.3 923,530.8 923.8,530.5 924,530.5 925,530.9 926,531.3 927,531.7 928,532.1 928.8,532.4 929,532.6 930,533.6 931,534.6 932,535.6 932.5,536.1 933,535.3 934,533.7 935,532.1 936,530.6 936.9,529.2 937,529.2 938,529.7 939,530.2 940,530.7 941,531.2 941.9,531.7 942,531.9 943,533.9 944,535.9 945,537.9 946,539.9 946.3,540.5 947,539.8 948,538.9 949,538 949.4,537.6 950,538.3 951,539.6 952,540.8 953,542 953.8,543 954,542.8 955,542 956,541.2 956.9,540.5 957,540.7 958,542.3 959,543.9 960,545.5 961,544.4 962,543.3 963,542.3 963.8,541.4 964,541.1 965,539.5 966,537.9 967,536.3 967.5,535.5 968,536.6 969,538.9 970,541.1 971,540.1 972,539.1 972.5,538.6 973,539.1 974,540.2 975,541.2 976,542.3 976.3,542.6 977,542.3 978,541.8 979,541.3 980,540.8 980.6,540.5 981,540.7 982,541.2 983,541.7 983.1,541.7 984,538.3 985,534.6 986,535 987,535.3 988,535.7 989,536 990,536.4 991,536.3 992,536.2 993,536.1 994,535.9 994.4,535.9 995,536.4 996,537.1 997,537.9 998,538.6 998.8,539.2 999,539.1 1000,538.8 1001,538.5 1002,538.2 1002.5,538 1003,538.5 1004,539.6 1005,540.7 1006,541.8 1006.3,542.1 1007,542.9 1008,543.9 1009,545 1010,546.1 1011,546.6 1012,547.1 1013,547.6 1014,548.1 1015,548.6 1015.6,548.9 1016,548.6 1017,548 1018,547.3 1019,546.6 1020,546 1021,545.3 1021.3,545.1 1022,545.1 1023,545 1024,545 1025,545 1026,544.9 1026.3,544.9 1027,546.1 1028,547.8 1028.8,549.2 1029,549.1 1030,548.6 1031,548.1 1032,547.6 1032.5,547.4 1033,546.8 1034,545.5 1035,544.2 1035.6,543.4 1036,544 1037,545.5 1038,546.9 1039,548.4 1040,549.9 1041,549.5 1042,549.1 1043,548.7 1043.8,548.4 1044,548.1 1045,546.8 1046,545.4 1046.9,544.2 1047,544.3 1048,545.4 1049,546.6 1050,547.7 1051,548.9 1051.3,549.2 1052,550.4 1053,552.1 1054,553.8 1055,555.5 1056,555.7 1057,555.8 1058,556 1058.8,556.1 1059,556.1 1060,556.3 1061,556.4 1062,556.5 1063,556.7 1063.1,556.7 1064,555.7 1065,554.6 1066,553.6 1066.9,552.6 1067,552.6 1068,552.2 1069,551.9 1070,551.6 1070.6,551.4 1071,551.9 1072,553.1 1073,554.3 1074,555.5 1075,556.7 1076,556.1 1077,555.6 1078,555 1079,554.5 1080,553.9 1081,554.5 1082,555.1 1083,555.6 1083.8,556.1 1084,556.1 1085,556.3 1086,556.5 1087,556.6 1088,556.8 1089,556.9 1090,557.1 1091,555.6 1092,554.1 1093,552.6 1093.8,551.4 1094,551.4 1095,551.6 1096,551.8 1097,552 1097.5,552.1 1098,551.8 1099,551.2 1100,550.7 1101,550.1 1101.3,549.9 1102,550.2 1103,550.6 1104,551 1105,551.4 1105.6,551.7 1106,551.2 1107,550 1108,548.8 1109,547.6 1110,546.4 1111,546.6 1112,546.7 1113,546.9 1114,547 1114.4,547.1 1115,546.5 1116,545.4 1117,544.4 1117.5,543.9 1118,543.6 1119,543 1120,542.4 1120.6,542.1 1121,542.2 1122,542.5 1123,542.8 1123.8,543 1124,542.8 1125,541.7 1126,540.6 1127,539.5 1127.5,538.9 1128,538.5 1129,537.6 1130,536.7 1131,535.8 1131.3,535.5 1132,536.3 1133,537.4 1134,538.5 1135,539.6 1136,540.8 1136.3,541.1 1137,540.8 1138,540.4 1139,540 1140,539.6 1141,540.6 1142,541.7 1143,542.7 1144,543.8 1144.4,544.2 1145,544.6 1146,545.3 1147,545.9 1148,546.6 1148.8,547.1 1149,545.9 1150,540.2 1150.6,536.7 1151,536.4 1152,535.8 1153,535.1 1154,534.5 1154.4,534.2 1155,534.7 1156,535.4 1157,536.2 1158,537 1158.8,537.6 1159,537.5 1160,536.9 1161,536.4 1161.9,535.9 1162,535.6 1163,532.5 1163.8,530.1 1164,530.3 1165,531.2 1166,532.2 1167,533.1 1167.5,533.6 1168,533.8 1169,534.2 1170,534.6 1171,537.7 1172,540.8 1172.5,542.4 1173,541.5 1174,539.7 1175,537.9 1176,536 1176.3,535.5 1177,534.5 1178,533.1 1179,531.7 1179.4,531.1 1180,531.7 1181,532.7 1182,533.7 1183,534.7 1183.8,535.5 1184,535.5 1185,535.7 1186,535.9 1187,536.1 1188,536.3 1188.8,536.4 1189,536.2 1190,535.3 1191,534.5 1192,533.6 1193,532.7 1193.1,532.6 1194,533.7 1195,534.9 1196,536 1196.3,536.4 1197,537.8 1198,539.8 1199,541.8 1199.4,542.6 1200,542.9 1201,543.4 1202,544 1203,544.5 1203.8,544.9 1204,545.3 1205,547.4 1206,549.5 1206.3,550.1 1207,551.5 1208,553.4 1209,555.3 1209.4,556.1 1210,554.9 1211,552.9 1211.9,551.1 1212,551 1213,550.3 1214,549.6 1215,548.9 1216,548.3 1217,547.7 1218,547.1 1219,546.5 1220,545.9 1221,547.4 1222,549 1223,550.5 1223.8,551.7 1224,551.8 1225,552.6 1226,553.3 1226.9,553.9 1227,553.7 1228,552.2 1229,550.7 1229.4,550.1 1230,551.4 1231,553.6 1231.9,555.5 1232,555.3 1233,553.7 1234,552.2 1235,550.6 1235.6,549.6 1236,549.1 1237,547.7 1238,546.3 1239,545 1240,543.6 1241,545.3 1242,546.9 1243,548.6 1243.8,549.9 1244,549.8 1245,549.2 1246,548.7 1247,548.1 1248,547.5 1248.8,547.1 1249,547.5 1250,549.2 1251,551 1252,552.7 1252.5,553.6 1253,553.5 1254,553.2 1255,552.9 1256,552.6 1256.9,552.4 1257,552.3 1258,551.5 1259,550.6 1260,549.7 1261,548.9 1261.3,548.6 1262,548.2 1263,547.7 1264,547.2 1265,546.7 1265.6,546.4 1266,546.7 1267,547.4 1268,548.1 1269,548.9 1270,549.6 1271,549.9 1272,550.2 1273,550.6 1274,550.9 1274.7,551.1 1275,550.8 1276,549.8 1277,548.8 1278,547.8 1278.9,546.9 1279,546.8 1280,546.2 1281,545.6 1282,545.1 1283,544.5 1284,543.2 1285,542 1285.9,540.8 1286,541.1 1287,543.1 1288,545.2 1289,547.2 1290,549.3 1290.1,549.5 1291,548.2 1292,546.7 1293,545.2 1293.6,544.3 1294,543.7 1295,542.3 1296,540.9 1297,539.5 1297.2,539.2 1298,539.2 1299,539.3 1300,539.4 1301,539.4 1301.9,539.5 1302,539.5 1303,539.9 1304,540.3 1305,540.8 1306,541.2 1306.6,541.4 1307,542.3 1308,544.6 1309,546.9 1310,549.1 1310.1,549.4 1311,550.9 1312,552.6 1312.5,553.4 1313,553.1 1314,552.4 1315,551.7 1316,551 1317,550.3 1317.2,550.1 1318,550.9 1319,551.9 1320,552.9 1321,553.9 1321.9,554.8 1322,554.7 1323,554 1324,553.2 1325,552.5 1325.5,552.1 1326,551.2 1327,549.5 1328,547.8 1328.4,547.1 1329,546.6 1330,545.8 1331,545 1332,544.2 1333,544.9 1334,545.7 1335,546.4 1335.5,546.8 1336,547.6 1337,549.3 1338,550.9 1338.5,551.8 1339,552.4 1340,553.6 1341,554.9 1342,556.1 1343,557.4 1343.2,557.6 1344,556.9 1345,556 1346,555 1347,554.1 1347.3,553.8 1348,554.2 1349,554.7 1350,555.2 1350.9,555.6 1351,555.6 1352,555.2 1353,554.8 1353.8,554.4 1354,554.1 1355,552.5 1356,551 1356.8,549.7 1357,549.8 1358,550.5 1359,551.1 1359.7,551.5 1360,552.6 1360.8,555.7 1360.8,560.3 1360,557.2 1359.7,556.1 1359,555.7 1358,555 1357,554.4 1356.8,554.3 1356,555.5 1355,557.1 1354,558.7 1353.8,559 1353,559.3 1352,559.7 1351,560.1 1350.9,560.2 1350,559.7 1349,559.2 1348,558.7 1347.3,558.4 1347,558.6 1346,559.6 1345,560.5 1344,561.4 1343.2,562.2 1343,561.9 1342,560.6 1341,559.4 1340,558.1 1339,556.9 1338.5,556.2 1338,555.4 1337,553.7 1336,552.1 1335.5,551.2 1335,550.9 1334,550.1 1333,549.4 1332,548.6 1331,549.4 1330,550.2 1329,551 1328.4,551.5 1328,552.2 1327,553.9 1326,555.7 1325.5,556.5 1325,556.9 1324,557.6 1323,558.4 1322,559.1 1321.9,559.2 1321,558.3 1320,557.3 1319,556.3 1318,555.3 1317.2,554.5 1317,554.6 1316,555.3 1315,555.9 1314,556.6 1313,557.2 1312.5,557.6 1312,556.7 1311,555 1310.1,553.4 1310,553.2 1309,550.9 1308,548.6 1307,546.3 1306.6,545.4 1306,545.1 1305,544.7 1304,544.2 1303,543.8 1302,543.4 1301.9,543.3 1301,543.2 1300,543.1 1299,543 1298,542.9 1297.2,542.8 1297,543.1 1296,544.5 1295,545.9 1294,547.3 1293.6,547.9 1293,548.7 1292,550.2 1291,551.6 1290.1,552.9 1290,552.7 1289,550.6 1288,548.5 1287,546.5 1286,544.4 1285.9,544.2 1285,545.3 1284,546.5 1283,547.7 1282,548.3 1281,548.8 1280,549.3 1279,549.9 1278.9,549.9 1278,550.8 1277,551.8 1276,552.8 1275,553.8 1274.7,554.1 1274,553.8 1273,553.5 1272,553.1 1271,552.8 1270,552.4 1269,551.7 1268,550.9 1267,550.2 1266,549.5 1265.6,549.2 1265,549.5 1264,550 1263,550.5 1262,551 1261.3,551.4 1261,551.7 1260,552.5 1259,553.4 1258,554.2 1257,555.1 1256.9,555.2 1256,555.4 1255,555.7 1254,556 1253,556.3 1252.5,556.4 1252,555.5 1251,553.8 1250,552 1249,550.3 1248.8,549.9 1248,550.3 1247,550.9 1246,551.5 1245,552 1244,552.6 1243.8,552.7 1243,551.4 1242,549.7 1241,548.1 1240,546.4 1239,547.8 1238,549.1 1237,550.5 1236,551.9 1235.6,552.4 1235,553.4 1234,555 1233,556.5 1232,558.1 1231.9,558.3 1231,556.4 1230,554.2 1229.4,552.9 1229,553.5 1228,555 1227,556.5 1226.9,556.7 1226,556.1 1225,555.4 1224,554.6 1223.8,554.5 1223,553.3 1222,551.8 1221,550.2 1220,548.7 1219,549.3 1218,549.9 1217,550.5 1216,551.1 1215,551.7 1214,552.4 1213,553.1 1212,553.8 1211.9,553.9 1211,555.7 1210,557.7 1209.4,558.9 1209,558.1 1208,556.2 1207,554.3 1206.3,552.9 1206,552.3 1205,550.2 1204,548.1 1203.8,547.7 1203,547.3 1202,546.8 1201,546.2 1200,545.7 1199.4,545.4 1199,544.6 1198,542.6 1197,540.6 1196.3,539.2 1196,538.8 1195,537.7 1194,536.5 1193.1,535.4 1193,535.5 1192,536.4 1191,537.3 1190,538.1 1189,539 1188.8,539.2 1188,539.1 1187,538.9 1186,538.7 1185,538.5 1184,538.3 1183.8,538.3 1183,537.5 1182,536.5 1181,535.5 1180,534.5 1179.4,533.9 1179,534.5 1178,535.9 1177,537.3 1176.3,538.3 1176,538.8 1175,540.7 1174,542.5 1173,544.3 1172.5,545.2 1172,543.6 1171,540.5 1170,537.4 1169,537 1168,536.6 1167.5,536.4 1167,535.9 1166,535 1165,534 1164,533.1 1163.8,532.9 1163,535.3 1162,538.4 1161.9,538.7 1161,539.2 1160,539.7 1159,540.3 1158.8,540.4 1158,539.8 1157,539 1156,538.2 1155,537.5 1154.4,537 1154,537.3 1153,537.9 1152,538.6 1151,539.2 1150.6,539.5 1150,543 1149,548.7 1148.8,549.9 1148,549.4 1147,548.7 1146,548.1 1145,547.4 1144.4,547 1144,546.6 1143,545.5 1142,544.5 1141,543.4 1140,542.4 1139,542.8 1138,543.2 1137,543.6 1136.3,543.9 1136,543.6 1135,542.4 1134,541.3 1133,540.2 1132,539.1 1131.3,538.3 1131,538.6 1130,539.5 1129,540.4 1128,541.3 1127.5,541.7 1127,542.3 1126,543.4 1125,544.5 1124,545.6 1123.8,545.8 1123,545.6 1122,545.3 1121,545 1120.6,544.9 1120,545.2 1119,545.8 1118,546.4 1117.5,546.7 1117,547.2 1116,548.2 1115,549.3 1114.4,549.9 1114,549.8 1113,549.7 1112,549.5 1111,549.4 1110,549.2 1109,550.4 1108,551.6 1107,552.8 1106,554 1105.6,554.5 1105,554.2 1104,553.8 1103,553.4 1102,553 1101.3,552.7 1101,552.9 1100,553.5 1099,554 1098,554.6 1097.5,554.9 1097,554.8 1096,554.6 1095,554.4 1094,554.2 1093.8,554.2 1093,555.4 1092,556.9 1091,558.4 1090,559.9 1089,559.7 1088,559.6 1087,559.4 1086,559.3 1085,559.1 1084,558.9 1083.8,558.9 1083,558.4 1082,557.9 1081,557.3 1080,556.7 1079,557.3 1078,557.8 1077,558.4 1076,558.9 1075,559.5 1074,558.3 1073,557.1 1072,555.9 1071,554.7 1070.6,554.2 1070,554.4 1069,554.7 1068,555 1067,555.4 1066.9,555.4 1066,556.4 1065,557.4 1064,558.5 1063.1,559.5 1063,559.5 1062,559.3 1061,559.2 1060,559.1 1059,558.9 1058.8,558.9 1058,558.8 1057,558.6 1056,558.5 1055,558.3 1054,556.6 1053,554.9 1052,553.2 1051.3,552 1051,551.7 1050,550.5 1049,549.4 1048,548.2 1047,547.1 1046.9,547 1046,548.2 1045,549.6 1044,550.9 1043.8,551.2 1043,551.5 1042,551.9 1041,552.3 1040,552.7 1039,551.2 1038,549.7 1037,548.3 1036,546.8 1035.6,546.2 1035,547 1034,548.3 1033,549.6 1032.5,550.2 1032,550.4 1031,550.9 1030,551.4 1029,551.9 1028.8,552 1028,550.6 1027,548.9 1026.3,547.7 1026,547.7 1025,547.8 1024,547.8 1023,547.8 1022,547.9 1021.3,547.9 1021,548.1 1020,548.8 1019,549.4 1018,550.1 1017,550.8 1016,551.4 1015.6,551.7 1015,551.4 1014,550.9 1013,550.4 1012,549.9 1011,549.4 1010,548.9 1009,547.8 1008,546.7 1007,545.7 1006.3,544.9 1006,544.6 1005,543.5 1004,542.4 1003,541.3 1002.5,540.8 1002,541 1001,541.3 1000,541.6 999,541.9 998.8,542 998,541.4 997,540.6 996,539.9 995,539.1 994.4,538.7 994,538.7 993,538.9 992,539 991,539.1 990,539.2 989,538.8 988,538.5 987,538.1 986,537.8 985,537.4 984,541.1 983.1,544.5 983,544.5 982,544 981,543.5 980.6,543.3 980,543.6 979,544.1 978,544.6 977,545.1 976.3,545.4 976,545.1 975,544 974,543 973,541.9 972.5,541.4 972,541.9 971,542.9 970,543.9 969,541.7 968,539.4 967.5,538.3 967,539.1 966,540.7 965,542.3 964,543.9 963.8,544.2 963,545.1 962,546.1 961,547.2 960,548.3 959,546.7 958,545.1 957,543.5 956.9,543.3 956,544 955,544.8 954,545.6 953.8,545.8 953,544.8 952,543.6 951,542.4 950,541.1 949.4,540.4 949,540.8 948,541.7 947,542.7 946.3,543.3 946,542.7 945,540.7 944,538.7 943,536.7 942,534.7 941.9,534.5 941,534.1 940,533.6 939,533.1 938,532.6 937,532.1 936.9,532 936,533.4 935,535 934,536.6 933,538.1 932.5,538.9 932,538.4 931,537.4 930,536.4 929,535.4 928.8,535.2 928,534.9 927,534.6 926,534.2 925,533.8 924,533.4 923.8,533.3 923,533.7 922,534.2 921,534.7 920,535.2 919,535.7 918,536.2 917,536.7 916.3,537.1 916,536.9 915,536.5 914,536.1 913,535.7 912,535.4 911,535 910,534.6 909,535.3 908,536.1 907,536.8 906,537.6 905,538.4 904,537.4 903,536.5 902,535.6 901,534.6 900.6,534.3 900,534.1 899,533.9 898,533.6 897,533.4 896.9,533.4 896,533.7 895,534.1 894,534.4 893,534.8 892.5,535 892,534.5 891,533.5 890,532.5 889,532.2 888,531.8 887,531.5 886.3,531.3 886,531.8 885,533.5 884,535.2 883.8,535.5 883,535.9 882,536.4 881,537 880,537.5 879,539.2 878,540.9 877.5,541.8 877,541.9 876,542.2 875,542.5 874,542.8 873.8,542.8 873,542.6 872,542.4 871,542.2 870,542 869,541.8 868,541.6 867.5,541.5 867,541.3 866,540.9 865,540.4 864,540 863.1,539.6 863,539.4 862,536.7 861,534.1 860.6,533 860,533.2 859,533.5 858,533.8 857,534.1 856.3,534.3 856,534.1 855,533.5 854,532.8 853,532.2 852.5,531.8 852,532.2 851,533 850,533.7 849,534.5 848.8,534.6 848,534.5 847,534.4 846,534.2 845,534 844,533.9 843.8,533.8 843,533.3 842,532.7 841,532.1 840.6,531.8 840,532.1 839,532.5 838,532.9 837.5,533.1 837,532.7 836,531.9 835,531.2 834,530.5 833,529.7 832.5,529.4 832,529.1 831,528.6 830,528.1 829,527.6 828,527.1 827.5,526.9 827,526.9 826,527 825,527 824,527.1 823.1,527.2 823,527.4 822,529.7 821.3,531.4 821,531.5 820,531.8 819,532.1 818,532.4 817.5,532.6 817,532.3 816,531.8 815,531.2 814,530.7 813,530.2 812,529.6 811,529.1 810.6,528.9 810,528.4 809,527.7 808,526.9 807,526.1 806.3,525.6 806,525.4 805,524.7 804,524 803,523.3 802,522.7 801.9,522.6 801,523.5 800,524.6 799,525.6 798.1,526.6 798,526.7 797,528.2 796,529.7 795,531.1 794,532.6 793.8,532.9 793,532.2 792,531.4 791,530.5 790,529.7 789,528.8 788,528 787,527.1 786.3,526.5 786,526.5 785,526.3 784,526.1 783,525.9 782,525.7 781,525.5 780,525.3 779,524.5 778,523.6 777,522.7 776.3,522.1 776,521.9 775,521 774,520.2 773,519.3 772,518.5 771.9,518.4 771,519 770,519.8 769,520.5 768,521.3 767,522 766.9,522.1 766,523.2 765,524.5 764,525.8 763,527.1 762.5,527.8 762,527.3 761,526.5 760,525.7 759.4,525.2 759,524.8 758,523.6 757,522.4 756,521.3 755.6,520.8 755,520.7 754,520.6 753,520.4 752,520.2 751.9,520.2 751,519.2 750,518 749,516.9 748,515.8 747.5,515.2 747,514.7 746,513.9 745,513 744,512.1 743,511.2 742.5,510.8 742,510.8 741,510.9 740,511 739,511.1 738,511.2 737,511.3 736.9,511.3 736,510.8 735,510.1 734,509.4 733.1,508.8 733,508.7 732,507.7 731,506.7 730,505.7 729,506.2 728,506.7 727,507.2 726.3,507.6 726,507.8 725,508.7 724,509.5 723,510.3 722.5,510.7 722,510 721,508.7 720,507.3 719,505.9 718.8,505.7 718,505.1 717,504.5 716,503.8 715,503.2 714,504.6 713,506.1 712.5,506.9 712,505.9 711,503.9 710.6,503.1 710,503.3 709,503.7 708.8,503.7 708,504.4 707,505.1 706,505.9 705.6,506.2 705,505.4 704,503.9 703,502.5 702.5,501.8 702,501.1 701,499.8 700,498.4 699,497.1 698.8,496.8 698,496.4 697,495.9 696.3,495.6 696,494.8 695,492.2 694.4,490.6 694,491.4 693,493.3 692.5,494.3 692,495.3 691,497.3 690,499.3 689,498.9 688,498.4 687,498 686,497.6 685.6,497.5 685,498.2 684,499.4 683,500.5 682.5,501.1 682,501.1 681,501.1 680,501.1 679,498.4 678,495.6 677.5,494.2 677,494 676,493.6 675,493.2 674.4,493 674,493.1 673,493.4 672,493.7 671,493.9 670,494.2 669,493.5 668,492.8 667.5,492.4 667,492.2 666,491.9 665,491.5 664,491.2 663.8,491.1 663,490.6 662,490.1 661,489.5 660,488.9 659.4,488.6 659,488.5 658,488.2 657,487.9 656,487.6 655,487.4 654,488.2 653,489 652,489.8 651.9,489.8 651,488.8 650,487.6 649,486.5 648.1,485.4 648,485.4 647,485.4 646,485.4 645,485.4 644,484.5 643,483.7 642,482.8 641,481.9 640.6,481.6 640,481 639,480 638,479 637,478 636.9,477.9 636,478 635,478.1 634,478.3 633,478.4 632.5,478.5 632,478.5 631,478.5 630,478.5 629,478.5 628,478.5 627.5,478.5 627,478.3 626,477.9 625,477.5 624,477.1 623,476.7 622.5,476.5 622,476.3 621,475.8 620,475.3 619,474.8 618.8,474.7 618,473.9 617,472.9 616,471.9 615.6,471.5 615,471.1 614,470.4 613,469.6 612,468.9 611.3,468.4 611,468.3 610,468 609,467.7 608,467.3 607.5,467.2 607,466.7 606,465.9 605,465 604,464.1 603.1,463.3 603,463.2 602,461.5 601,459.9 600,458.3 599,457.5 598,456.6 597,455.8 596.9,455.7 596,453.7 595,451.4 594,449.1 593,446.8 592.5,445.7 592,445.8 591,445.9 590,446.1 589,446.2 588.8,446.2 588,445 587,443.4 586,441.8 585.6,441.2 585,441.8 584,442.8 583,443.8 582,444.8 581.3,445.6 581,445.4 580,444.7 579,444.1 578,443.5 577,442.8 576.3,442.4 576,442 575,440.7 574,439.5 573,438.2 572,436.9 571.3,436 571,436 570,436 569,436 568,436 567,436 566.9,436 566,433.1 565,429.8 564.4,427.9 564,427.3 563,425.8 562,424.4 561.3,423.4 561,423.6 560,424.1 559,424.7 558,425.2 557,425.8 556,426.3 555.6,426.5 555,425.6 554,423.9" fill="#228b22"/></g>
<g id="axes"><path d="M351.2,51.8 V665.2 H1362.2" fill="none" stroke="#000" stroke-width="2.9" stroke-linejoin="miter"/><line x1="351.2" y1="67.3" x2="363.7" y2="67.3" stroke="#000" stroke-width="2.9"/><line x1="351.2" y1="211.4" x2="363.7" y2="211.4" stroke="#000" stroke-width="2.9"/><line x1="351.2" y1="355.5" x2="363.7" y2="355.5" stroke="#000" stroke-width="2.9"/><line x1="351.2" y1="499.6" x2="363.7" y2="499.6" stroke="#000" stroke-width="2.9"/><line x1="351.2" y1="643.6" x2="363.7" y2="643.6" stroke="#000" stroke-width="2.9"/><line x1="373.5" y1="653.1" x2="373.5" y2="665.2" stroke="#000" stroke-width="2.9"/><line x1="1362.2" y1="653.4" x2="1362.2" y2="666.6500000000001" stroke="#000" stroke-width="2.9"/></g>
<g id="labels" fill="#000" style="will-change:transform"><text transform="translate(308,73.75) scale(1,1.03)" font-family="Liberation Sans, sans-serif" font-size="38.9">.4</text><text transform="translate(308,224.4) scale(1,1.03)" font-family="Liberation Sans, sans-serif" font-size="38.9">.3</text><text transform="translate(308,365.7) scale(1,1.03)" font-family="Liberation Sans, sans-serif" font-size="38.9">.2</text><text transform="translate(308,507.75) scale(1,1.03)" font-family="Liberation Sans, sans-serif" font-size="38.9">.</text><path d="M332.9,507.75 L329.25,507.75 L329.25,488.1 L322.1,488.1 L322.1,485.5 C326.6,485.3 329.3,483.6 330.4,480 L332.9,480 Z"/><text transform="translate(324.7,655.8) scale(1,1.03)" font-family="Liberation Sans, sans-serif" font-size="38.7" text-anchor="middle">0</text><text transform="translate(373.8,705.7) scale(1,1.03)" font-family="Liberation Sans, sans-serif" font-size="38.7" text-anchor="middle">0</text><text transform="translate(1363,705.9) scale(1,1.03)" font-family="Liberation Sans, sans-serif" font-size="38.7" text-anchor="middle">5000</text><text transform="translate(851,774.6) scale(1,1.025)" font-family="Liberation Sans, sans-serif" font-size="59.6" text-anchor="middle">Episodes</text><text transform="translate(159.6,427.3) scale(1,1.02)" font-family="Liberation Sans, sans-serif" font-size="38.7" text-anchor="middle">averaged</text><text transform="translate(159.9,476) scale(1,1.02)" font-family="Liberation Sans, sans-serif" font-size="38.7" text-anchor="middle">over 30 runs</text><text transform="translate(760.5,379.6) scale(1,1.035)" font-family="Liberation Sans, sans-serif" font-size="46.7" fill="#d72020">Polynomial basis</text><text transform="translate(571.4,580.7) scale(1,1.035)" font-family="Liberation Sans, sans-serif" font-size="46.3" fill="#1e8c78">Fourier basis</text></g>
<g id="math" style="will-change:transform"><path d="M73.0,351.6 L80.9,345.6 L81.7,345.2 L94.6,374.4 L127.2,306.5 L218,306.5 L218,309.0 L128.8,309.0 L94.9,381.8 L92.4,381.8 L78.4,349.3 L73.6,352.4 Z" fill="#000"/><rect x="129.1" y="324.7" width="88.9" height="2.7" fill="#000"/><text transform="translate(128.6,377.6) scale(0.98,1)" font-family="Liberation Serif, serif" font-size="64.5">V</text><text transform="translate(175.8,377.6) scale(1.12,1)" font-family="Liberation Serif, serif" font-size="64.5">E</text></g>
</svg>
</body></html>
